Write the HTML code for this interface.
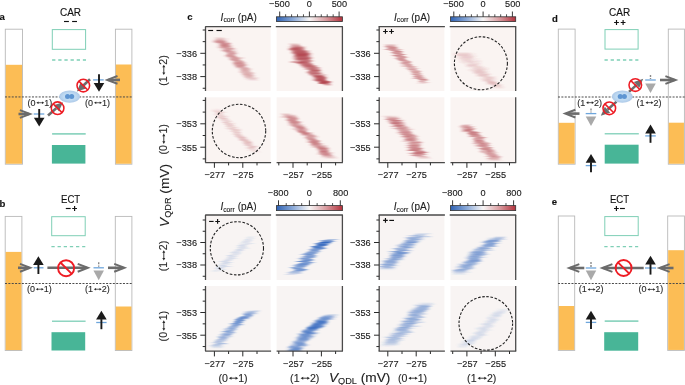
<!DOCTYPE html>
<html><head><meta charset="utf-8"><title>Figure</title>
<style>
html,body{margin:0;padding:0;background:#fff;}
body{width:685px;height:385px;overflow:hidden;}
svg{display:block;font-family:"Liberation Sans", sans-serif;will-change:transform;}
text{stroke-width:0.12px;}
</style></head><body>
<svg width="685" height="385" viewBox="0 0 685 385">
<defs>
<filter id="blr" x="-20%" y="-20%" width="140%" height="140%"><feGaussianBlur stdDeviation="1.0 0.6"/></filter>
<linearGradient id="cbar" x1="0" x2="1" y1="0" y2="0"><stop offset="0" stop-color="#2f62b3"/><stop offset="0.25" stop-color="#8aa9d8"/><stop offset="0.5" stop-color="#f8f6f6"/><stop offset="0.75" stop-color="#d99ca0"/><stop offset="1" stop-color="#b2323d"/></linearGradient>
<linearGradient id="gr" x1="0" x2="1" y1="0" y2="0"><stop offset="0" stop-color="#ad3842" stop-opacity="0"/><stop offset="0.3" stop-color="#ad3842" stop-opacity="1"/><stop offset="0.7" stop-color="#ad3842" stop-opacity="1"/><stop offset="1" stop-color="#ad3842" stop-opacity="0"/></linearGradient>
<linearGradient id="gb" x1="0" x2="1" y1="0" y2="0"><stop offset="0" stop-color="#2d64be" stop-opacity="0"/><stop offset="0.3" stop-color="#2d64be" stop-opacity="1"/><stop offset="0.7" stop-color="#2d64be" stop-opacity="1"/><stop offset="1" stop-color="#2d64be" stop-opacity="0"/></linearGradient>
<radialGradient id="ellg" cx="0.5" cy="0.5" r="0.5"><stop offset="0" stop-color="#c9e4f8"/><stop offset="0.6" stop-color="#bfdaf2"/><stop offset="1" stop-color="#adc9e8"/></radialGradient>
</defs>
<rect width="685" height="385" fill="#fff"/>
<text x="-0.6" y="19.8" font-size="9.6" text-anchor="start" font-weight="bold" font-style="normal" fill="#111" stroke="#111" >a</text>
<text x="70.5" y="15.8" font-size="10" text-anchor="middle" font-weight="normal" font-style="normal" fill="#111" stroke="#111" >CAR</text>
<line x1="64.0" y1="21.5" x2="68.9" y2="21.5" stroke="#111" stroke-width="1.15"/>
<line x1="72.1" y1="21.5" x2="77.0" y2="21.5" stroke="#111" stroke-width="1.15"/>
<rect x="5.3" y="29.2" width="17.2" height="135.0" fill="#fff" stroke="#b9b9b9" stroke-width="0.9"/>
<rect x="5.75" y="64.8" width="16.3" height="98.94999999999999" fill="#fcbd55"/>
<rect x="115.4" y="29.2" width="16.5" height="135.0" fill="#fff" stroke="#b9b9b9" stroke-width="0.9"/>
<rect x="115.85000000000001" y="64.5" width="15.6" height="99.24999999999999" fill="#fcbd55"/>
<rect x="52.3" y="29.6" width="33.3" height="19.699999999999996" fill="none" stroke="#7fcfb6" stroke-width="1.0"/>
<line x1="52.1" y1="60" x2="86.0" y2="60" stroke="#7fcfb6" stroke-width="1.3" stroke-dasharray="3.3 2.85"/>
<line x1="52.1" y1="133.9" x2="85.7" y2="133.9" stroke="#8fd5c1" stroke-width="1.6"/>
<rect x="51.9" y="145" width="33.50000000000001" height="18.599999999999994" fill="#48b597"/>
<line x1="5" y1="96.95" x2="132" y2="96.95" stroke="#4a4a4a" stroke-width="1.0" stroke-dasharray="2.0 1.37"/>
<line x1="120" y1="79.9" x2="108.50000000000001" y2="79.9" stroke="#6b6b6b" stroke-width="2.6"/>
<path d="M117.50000000000001,76.0 Q111.89000000000001,78.14500000000001 107.30000000000001,79.9 Q111.89000000000001,81.655 117.50000000000001,83.80000000000001" fill="none" stroke="#6b6b6b" stroke-width="2.0" stroke-linejoin="miter"/>
<line x1="93.10000000000001" y1="79.9" x2="103.7" y2="79.9" stroke="#6ea6dc" stroke-width="1.3"/>
<line x1="99" y1="74.2" x2="99" y2="83.5" stroke="#1a1a1a" stroke-width="1.9"/>
<path d="M93.7,83.0 L104.3,83.0 L99,91.8 Z" fill="#1a1a1a"/>
<line x1="18.5" y1="114" x2="28.900000000000002" y2="114" stroke="#6b6b6b" stroke-width="2.6"/>
<path d="M19.900000000000002,110.1 Q25.51,112.245 30.1,114 Q25.51,115.755 19.900000000000002,117.9" fill="none" stroke="#6b6b6b" stroke-width="2.0" stroke-linejoin="miter"/>
<line x1="33.7" y1="114" x2="44.3" y2="114" stroke="#6ea6dc" stroke-width="1.3"/>
<line x1="39.2" y1="109" x2="39.2" y2="118.2" stroke="#1a1a1a" stroke-width="1.9"/>
<path d="M33.900000000000006,117.7 L44.5,117.7 L39.2,126.5 Z" fill="#1a1a1a"/>
<line x1="90" y1="79.3" x2="83.3844716413458" y2="85.46446960692778" stroke="#6d6d6d" stroke-width="2.6"/>
<path d="M76.8,91.6 L80.6575692444248,82.53803776632965 L86.11137403826679,88.3909014475259 Z" fill="#6d6d6d"/>
<line x1="48" y1="115.5" x2="56.26589058486062" y2="108.17091034809025" stroke="#6d6d6d" stroke-width="2.6"/>
<path d="M63,102.2 L58.919628517345174,111.16384786592997 L53.61215265237607,105.17797283025052 Z" fill="#6d6d6d"/>
<circle cx="83.3" cy="85.6" r="6.3" fill="none" stroke="#ee1c24" stroke-width="1.55"/>
<line x1="78.84522727852475" y1="81.14522727852474" x2="87.75477272147525" y2="90.05477272147525" stroke="#ee1c24" stroke-width="1.55"/>
<circle cx="57.6" cy="108.2" r="6.3" fill="none" stroke="#ee1c24" stroke-width="1.55"/>
<line x1="53.14522727852475" y1="103.74522727852475" x2="62.05477272147525" y2="112.65477272147525" stroke="#ee1c24" stroke-width="1.55"/>
<ellipse cx="69.6" cy="96.6" rx="10.5" ry="6.1" fill="url(#ellg)"/>
<circle cx="67.5" cy="96.6" r="2.5" fill="#5e95d2"/>
<circle cx="71.69999999999999" cy="96.6" r="2.5" fill="#5e95d2"/>
<text x="27.41" y="105.7" font-size="9" fill="#2a2a2a" stroke="#2a2a2a">(0</text>
<text x="44.24" y="105.7" font-size="9" fill="#2a2a2a" stroke="#2a2a2a">1)</text>
<line x1="37.65" y1="102.73" x2="42.89" y2="102.73" stroke="#2a2a2a" stroke-width="0.765"/>
<path d="M36.30,102.73 l2.25,-1.2600000000000002 l0,2.5200000000000005 Z M44.24,102.73 l-2.25,-1.2600000000000002 l0,2.5200000000000005 Z" fill="#2a2a2a"/>
<text x="85.12" y="105.7" font-size="9" fill="#2a2a2a" stroke="#2a2a2a">(0</text>
<text x="101.94" y="105.7" font-size="9" fill="#2a2a2a" stroke="#2a2a2a">1)</text>
<line x1="95.35" y1="102.73" x2="100.59" y2="102.73" stroke="#2a2a2a" stroke-width="0.765"/>
<path d="M94.00,102.73 l2.25,-1.2600000000000002 l0,2.5200000000000005 Z M101.94,102.73 l-2.25,-1.2600000000000002 l0,2.5200000000000005 Z" fill="#2a2a2a"/>
<text x="-0.6" y="206.8" font-size="9.6" text-anchor="start" font-weight="bold" font-style="normal" fill="#111" stroke="#111" >b</text>
<text x="70.6" y="202.9" font-size="10" text-anchor="middle" font-weight="normal" font-style="normal" fill="#111" stroke="#111" textLength="19.2" lengthAdjust="spacingAndGlyphs">ECT</text>
<line x1="65.8" y1="208.5" x2="70.7" y2="208.5" stroke="#111" stroke-width="1.15"/>
<path d="M72.19999999999999,208.5 H77.0 M74.6,206.1 V210.9" stroke="#111" stroke-width="1.15"/>
<rect x="5.2" y="216.4" width="16.7" height="134.1" fill="#fff" stroke="#b9b9b9" stroke-width="0.9"/>
<rect x="5.65" y="251.9" width="15.799999999999999" height="98.14999999999999" fill="#fcbd55"/>
<rect x="115.3" y="216.4" width="16.60000000000001" height="134.1" fill="#fff" stroke="#b9b9b9" stroke-width="0.9"/>
<rect x="115.75" y="306.5" width="15.700000000000008" height="43.55" fill="#fcbd55"/>
<rect x="51.7" y="216.7" width="33.5" height="19.0" fill="none" stroke="#7fcfb6" stroke-width="1.0"/>
<line x1="51.4" y1="246.6" x2="85.3" y2="246.6" stroke="#7fcfb6" stroke-width="1.3" stroke-dasharray="3.3 2.85"/>
<line x1="18.0" y1="267.8" x2="29.000000000000004" y2="267.8" stroke="#6b6b6b" stroke-width="2.6"/>
<path d="M20.000000000000004,263.90000000000003 Q25.610000000000003,266.045 30.200000000000003,267.8 Q25.610000000000003,269.555 20.000000000000004,271.7" fill="none" stroke="#6b6b6b" stroke-width="2.0" stroke-linejoin="miter"/>
<line x1="33.7" y1="267.8" x2="43.5" y2="267.8" stroke="#6ea6dc" stroke-width="1.3"/>
<line x1="38.4" y1="274" x2="38.4" y2="264.5" stroke="#1a1a1a" stroke-width="1.9"/>
<path d="M33.1,265.0 L43.699999999999996,265.0 L38.4,256.2 Z" fill="#1a1a1a"/>
<line x1="47.4" y1="267.8" x2="86.69999999999999" y2="267.8" stroke="#6b6b6b" stroke-width="2.6"/>
<path d="M77.69999999999999,263.90000000000003 Q83.30999999999999,266.045 87.89999999999999,267.8 Q83.30999999999999,269.555 77.69999999999999,271.7" fill="none" stroke="#6b6b6b" stroke-width="2.0" stroke-linejoin="miter"/>
<circle cx="66.1" cy="268.2" r="8.0" fill="none" stroke="#ee1c24" stroke-width="1.9"/>
<line x1="60.44314575050761" y1="262.5431457505076" x2="71.75685424949238" y2="273.85685424949236" stroke="#ee1c24" stroke-width="1.9"/>
<line x1="98.7" y1="262.3" x2="98.7" y2="266.8" stroke="#8a8a8a" stroke-width="1.4" stroke-dasharray="2 1.1"/>
<line x1="93.5" y1="267.8" x2="103.9" y2="267.8" stroke="#6ea6dc" stroke-width="1.3"/>
<path d="M93.45,270.6 L103.95,270.6 L98.7,280.2 Z" fill="#a9a9a9"/>
<line x1="108" y1="267.8" x2="123.19999999999999" y2="267.8" stroke="#6b6b6b" stroke-width="2.6"/>
<path d="M114.19999999999999,263.90000000000003 Q119.80999999999999,266.045 124.39999999999999,267.8 Q119.80999999999999,269.555 114.19999999999999,271.7" fill="none" stroke="#6b6b6b" stroke-width="2.0" stroke-linejoin="miter"/>
<line x1="5" y1="283.5" x2="132" y2="283.5" stroke="#4a4a4a" stroke-width="1.0" stroke-dasharray="2.0 1.37"/>
<text x="26.91" y="292.2" font-size="9" fill="#2a2a2a" stroke="#2a2a2a">(0</text>
<text x="43.74" y="292.2" font-size="9" fill="#2a2a2a" stroke="#2a2a2a">1)</text>
<line x1="37.15" y1="289.23" x2="42.39" y2="289.23" stroke="#2a2a2a" stroke-width="0.765"/>
<path d="M35.80,289.23 l2.25,-1.2600000000000002 l0,2.5200000000000005 Z M43.74,289.23 l-2.25,-1.2600000000000002 l0,2.5200000000000005 Z" fill="#2a2a2a"/>
<text x="84.92" y="292.2" font-size="9" fill="#2a2a2a" stroke="#2a2a2a">(1</text>
<text x="101.74" y="292.2" font-size="9" fill="#2a2a2a" stroke="#2a2a2a">2)</text>
<line x1="95.15" y1="289.23" x2="100.39" y2="289.23" stroke="#2a2a2a" stroke-width="0.765"/>
<path d="M93.80,289.23 l2.25,-1.2600000000000002 l0,2.5200000000000005 Z M101.74,289.23 l-2.25,-1.2600000000000002 l0,2.5200000000000005 Z" fill="#2a2a2a"/>
<line x1="52" y1="321.2" x2="85.6" y2="321.2" stroke="#8fd5c1" stroke-width="1.6"/>
<line x1="96.2" y1="322.5" x2="106.60000000000001" y2="322.5" stroke="#6ea6dc" stroke-width="1.3"/>
<line x1="101.4" y1="329.2" x2="101.4" y2="319.1" stroke="#1a1a1a" stroke-width="1.9"/>
<path d="M96.10000000000001,319.6 L106.7,319.6 L101.4,310.8 Z" fill="#1a1a1a"/>
<rect x="51.5" y="332.2" width="33.7" height="18.30000000000001" fill="#48b597"/>
<text x="551.9" y="21.5" font-size="9.6" text-anchor="start" font-weight="bold" font-style="normal" fill="#111" stroke="#111" >d</text>
<text x="619.6" y="15.8" font-size="10" text-anchor="middle" font-weight="normal" font-style="normal" fill="#111" stroke="#111" >CAR</text>
<path d="M614.1,22.5 H618.9 M616.5,20.1 V24.9" stroke="#111" stroke-width="1.15"/>
<path d="M620.7,22.5 H625.5 M623.1,20.1 V24.9" stroke="#111" stroke-width="1.15"/>
<rect x="558.3" y="29.1" width="16.800000000000068" height="135.1" fill="#fff" stroke="#b9b9b9" stroke-width="0.9"/>
<rect x="558.75" y="122.8" width="15.900000000000068" height="40.94999999999999" fill="#fcbd55"/>
<rect x="668.3" y="29.1" width="16.100000000000023" height="135.1" fill="#fff" stroke="#b9b9b9" stroke-width="0.9"/>
<rect x="668.75" y="122.7" width="15.200000000000022" height="41.04999999999998" fill="#fcbd55"/>
<rect x="605.0" y="29.6" width="33.10000000000002" height="19.5" fill="none" stroke="#7fcfb6" stroke-width="1.0"/>
<line x1="604.5" y1="60" x2="638.4" y2="60" stroke="#7fcfb6" stroke-width="1.3" stroke-dasharray="3.3 2.85"/>
<line x1="558" y1="97.0" x2="685" y2="97.0" stroke="#4a4a4a" stroke-width="1.0" stroke-dasharray="2.0 1.37"/>
<line x1="650.5" y1="75" x2="650.5" y2="79" stroke="#8a8a8a" stroke-width="1.4" stroke-dasharray="2 1.1"/>
<line x1="645.2" y1="80" x2="655.8" y2="80" stroke="#6ea6dc" stroke-width="1.3"/>
<path d="M645.25,83.4 L655.75,83.4 L650.5,93 Z" fill="#a9a9a9"/>
<line x1="660" y1="80" x2="674.4" y2="80" stroke="#6b6b6b" stroke-width="2.6"/>
<path d="M665.4,76.1 Q671.01,78.245 675.6,80 Q671.01,81.755 665.4,83.9" fill="none" stroke="#6b6b6b" stroke-width="2.0" stroke-linejoin="miter"/>
<line x1="591" y1="108.5" x2="591" y2="112.6" stroke="#8a8a8a" stroke-width="1.4" stroke-dasharray="2 1.1"/>
<line x1="585.7" y1="113.6" x2="596.3" y2="113.6" stroke="#6ea6dc" stroke-width="1.3"/>
<path d="M585.75,116.5 L596.25,116.5 L591,126 Z" fill="#a9a9a9"/>
<line x1="579.5" y1="113.6" x2="566.4" y2="113.6" stroke="#6b6b6b" stroke-width="2.6"/>
<path d="M575.4,109.69999999999999 Q569.79,111.845 565.1999999999999,113.6 Q569.79,115.35499999999999 575.4,117.5" fill="none" stroke="#6b6b6b" stroke-width="2.0" stroke-linejoin="miter"/>
<line x1="629.0" y1="91.9" x2="636.5849832893851" y2="84.90258583866587" stroke="#6d6d6d" stroke-width="2.6"/>
<path d="M643.2,78.8 L639.2972436621255,87.84259326560584 L633.8727229166448,81.9625784117259 Z" fill="#6d6d6d"/>
<line x1="616.5" y1="101.6" x2="607.4960056938755" y2="109.68638979085061" stroke="#6d6d6d" stroke-width="2.6"/>
<path d="M600.8,115.7 L604.8232900453647,106.71038726023924 L610.1687213423863,112.66239232146198 Z" fill="#6d6d6d"/>
<circle cx="635.3" cy="85.1" r="6.3" fill="none" stroke="#ee1c24" stroke-width="1.55"/>
<line x1="630.8452272785247" y1="80.64522727852474" x2="639.7547727214752" y2="89.55477272147525" stroke="#ee1c24" stroke-width="1.55"/>
<circle cx="609.3" cy="108.3" r="6.3" fill="none" stroke="#ee1c24" stroke-width="1.55"/>
<line x1="604.8452272785247" y1="103.84522727852475" x2="613.7547727214752" y2="112.75477272147525" stroke="#ee1c24" stroke-width="1.55"/>
<ellipse cx="622.3" cy="96.6" rx="10.5" ry="6.1" fill="url(#ellg)"/>
<circle cx="620.1999999999999" cy="96.6" r="2.5" fill="#5e95d2"/>
<circle cx="624.4" cy="96.6" r="2.5" fill="#5e95d2"/>
<text x="577.21" y="105.6" font-size="9" fill="#2a2a2a" stroke="#2a2a2a">(1</text>
<text x="594.04" y="105.6" font-size="9" fill="#2a2a2a" stroke="#2a2a2a">2)</text>
<line x1="587.45" y1="102.63" x2="592.69" y2="102.63" stroke="#2a2a2a" stroke-width="0.765"/>
<path d="M586.10,102.63 l2.25,-1.2600000000000002 l0,2.5200000000000005 Z M594.04,102.63 l-2.25,-1.2600000000000002 l0,2.5200000000000005 Z" fill="#2a2a2a"/>
<text x="636.62" y="105.6" font-size="9" fill="#2a2a2a" stroke="#2a2a2a">(1</text>
<text x="653.44" y="105.6" font-size="9" fill="#2a2a2a" stroke="#2a2a2a">2)</text>
<line x1="646.85" y1="102.63" x2="652.09" y2="102.63" stroke="#2a2a2a" stroke-width="0.765"/>
<path d="M645.50,102.63 l2.25,-1.2600000000000002 l0,2.5200000000000005 Z M653.44,102.63 l-2.25,-1.2600000000000002 l0,2.5200000000000005 Z" fill="#2a2a2a"/>
<line x1="604.7" y1="133.8" x2="638.8" y2="133.8" stroke="#8fd5c1" stroke-width="1.6"/>
<rect x="604.7" y="144.7" width="33.89999999999998" height="18.900000000000006" fill="#48b597"/>
<line x1="645.2" y1="135.9" x2="655.8" y2="135.9" stroke="#6ea6dc" stroke-width="1.3"/>
<line x1="650.5" y1="142.8" x2="650.5" y2="132.9" stroke="#1a1a1a" stroke-width="1.9"/>
<path d="M645.2,133.4 L655.8,133.4 L650.5,124.6 Z" fill="#1a1a1a"/>
<line x1="585.7" y1="165.6" x2="596.3" y2="165.6" stroke="#6ea6dc" stroke-width="1.3"/>
<line x1="591" y1="172.2" x2="591" y2="162.20000000000002" stroke="#1a1a1a" stroke-width="1.9"/>
<path d="M585.7,162.70000000000002 L596.3,162.70000000000002 L591,153.9 Z" fill="#1a1a1a"/>
<text x="551.8" y="204.9" font-size="9.6" text-anchor="start" font-weight="bold" font-style="normal" fill="#111" stroke="#111" >e</text>
<text x="619.5" y="202.9" font-size="10" text-anchor="middle" font-weight="normal" font-style="normal" fill="#111" stroke="#111" textLength="19.2" lengthAdjust="spacingAndGlyphs">ECT</text>
<path d="M614.0,208.5 H618.8 M616.4,206.1 V210.9" stroke="#111" stroke-width="1.15"/>
<line x1="620.0" y1="208.5" x2="624.9" y2="208.5" stroke="#111" stroke-width="1.15"/>
<rect x="558.3" y="216" width="16.40000000000009" height="134.39999999999998" fill="#fff" stroke="#b9b9b9" stroke-width="0.9"/>
<rect x="558.75" y="306" width="15.50000000000009" height="43.949999999999974" fill="#fcbd55"/>
<rect x="667.7" y="216" width="16.699999999999932" height="134.39999999999998" fill="#fff" stroke="#b9b9b9" stroke-width="0.9"/>
<rect x="668.1500000000001" y="250.2" width="15.799999999999931" height="99.74999999999999" fill="#fcbd55"/>
<rect x="604.8" y="216.6" width="33.40000000000009" height="19.0" fill="none" stroke="#7fcfb6" stroke-width="1.0"/>
<line x1="604.3" y1="246.7" x2="638.1999999999999" y2="246.7" stroke="#7fcfb6" stroke-width="1.3" stroke-dasharray="3.3 2.85"/>
<line x1="584.3" y1="268" x2="570.3000000000001" y2="268" stroke="#6b6b6b" stroke-width="2.6"/>
<path d="M579.3000000000001,264.1 Q573.69,266.245 569.1,268 Q573.69,269.755 579.3000000000001,271.9" fill="none" stroke="#6b6b6b" stroke-width="2.0" stroke-linejoin="miter"/>
<line x1="591" y1="262" x2="591" y2="267" stroke="#8a8a8a" stroke-width="1.4" stroke-dasharray="2 1.1"/>
<line x1="585.75" y1="268" x2="596.25" y2="268" stroke="#6ea6dc" stroke-width="1.3"/>
<path d="M585.75,270.5 L596.25,270.5 L591,280.2 Z" fill="#a9a9a9"/>
<line x1="643.7" y1="268" x2="603.4" y2="268" stroke="#6b6b6b" stroke-width="2.6"/>
<path d="M612.4,264.1 Q606.79,266.245 602.1999999999999,268 Q606.79,269.755 612.4,271.9" fill="none" stroke="#6b6b6b" stroke-width="2.0" stroke-linejoin="miter"/>
<circle cx="623.6" cy="268" r="8.0" fill="none" stroke="#ee1c24" stroke-width="1.9"/>
<line x1="617.9431457505076" y1="262.34314575050763" x2="629.2568542494924" y2="273.65685424949237" stroke="#ee1c24" stroke-width="1.9"/>
<line x1="645.0" y1="268" x2="656.0" y2="268" stroke="#6ea6dc" stroke-width="1.3"/>
<line x1="650.5" y1="274.6" x2="650.5" y2="264.1" stroke="#1a1a1a" stroke-width="1.9"/>
<path d="M645.2,264.6 L655.8,264.6 L650.5,255.8 Z" fill="#1a1a1a"/>
<line x1="673.5" y1="268" x2="660.6" y2="268" stroke="#6b6b6b" stroke-width="2.6"/>
<path d="M669.6,264.1 Q663.99,266.245 659.4,268 Q663.99,269.755 669.6,271.9" fill="none" stroke="#6b6b6b" stroke-width="2.0" stroke-linejoin="miter"/>
<line x1="558" y1="283.5" x2="685" y2="283.5" stroke="#4a4a4a" stroke-width="1.0" stroke-dasharray="2.0 1.37"/>
<text x="578.71" y="292.4" font-size="9" fill="#2a2a2a" stroke="#2a2a2a">(1</text>
<text x="595.54" y="292.4" font-size="9" fill="#2a2a2a" stroke="#2a2a2a">2)</text>
<line x1="588.95" y1="289.43" x2="594.19" y2="289.43" stroke="#2a2a2a" stroke-width="0.765"/>
<path d="M587.60,289.43 l2.25,-1.2600000000000002 l0,2.5200000000000005 Z M595.54,289.43 l-2.25,-1.2600000000000002 l0,2.5200000000000005 Z" fill="#2a2a2a"/>
<text x="638.51" y="292.4" font-size="9" fill="#2a2a2a" stroke="#2a2a2a">(0</text>
<text x="655.34" y="292.4" font-size="9" fill="#2a2a2a" stroke="#2a2a2a">1)</text>
<line x1="648.75" y1="289.43" x2="653.99" y2="289.43" stroke="#2a2a2a" stroke-width="0.765"/>
<path d="M647.40,289.43 l2.25,-1.2600000000000002 l0,2.5200000000000005 Z M655.34,289.43 l-2.25,-1.2600000000000002 l0,2.5200000000000005 Z" fill="#2a2a2a"/>
<line x1="585.75" y1="322.4" x2="596.25" y2="322.4" stroke="#6ea6dc" stroke-width="1.3"/>
<line x1="591" y1="328.9" x2="591" y2="319.0" stroke="#1a1a1a" stroke-width="1.9"/>
<path d="M585.7,319.5 L596.3,319.5 L591,310.7 Z" fill="#1a1a1a"/>
<line x1="604.7" y1="321.1" x2="638.4" y2="321.1" stroke="#8fd5c1" stroke-width="1.6"/>
<rect x="604.2" y="332.2" width="34.0" height="18.5" fill="#48b597"/>
<text x="187.2" y="19.8" font-size="9.6" text-anchor="start" font-weight="bold" font-style="normal" fill="#111" stroke="#111" >c</text>
<clipPath id="c00"><rect x="206.0" y="26.6" width="64.60000000000002" height="64.4"/></clipPath>
<rect x="206.0" y="26.6" width="64.60000000000002" height="64.4" fill="#faf4f2"/>
<g clip-path="url(#c00)"><g filter="url(#blr)"><rect x="212.7" y="37.5" width="13.4" height="1.0" fill="url(#gr)" fill-opacity="0.11"/><rect x="213.1" y="37.5" width="12.3" height="1.0" fill="url(#gr)" fill-opacity="0.11"/><rect x="214.3" y="38.5" width="16.2" height="1.0" fill="url(#gr)" fill-opacity="0.15"/><rect x="214.5" y="38.5" width="12.2" height="1.0" fill="url(#gr)" fill-opacity="0.16"/><rect x="211.8" y="39.5" width="12.3" height="1.0" fill="url(#gr)" fill-opacity="0.22"/><rect x="214.4" y="39.5" width="12.2" height="1.0" fill="url(#gr)" fill-opacity="0.25"/><rect x="214.8" y="40.5" width="14.5" height="1.0" fill="url(#gr)" fill-opacity="0.28"/><rect x="211.0" y="40.5" width="16.5" height="1.0" fill="url(#gr)" fill-opacity="0.36"/><rect x="213.0" y="41.5" width="16.2" height="1.0" fill="url(#gr)" fill-opacity="0.38"/><rect x="211.2" y="41.5" width="15.6" height="1.0" fill="url(#gr)" fill-opacity="0.41"/><rect x="218.1" y="42.5" width="13.8" height="1.0" fill="url(#gr)" fill-opacity="0.43"/><rect x="214.9" y="42.5" width="11.2" height="1.0" fill="url(#gr)" fill-opacity="0.38"/><rect x="217.8" y="43.5" width="14.9" height="1.0" fill="url(#gr)" fill-opacity="0.42"/><rect x="219.6" y="43.5" width="13.1" height="1.0" fill="url(#gr)" fill-opacity="0.38"/><rect x="216.1" y="44.5" width="13.7" height="1.0" fill="url(#gr)" fill-opacity="0.34"/><rect x="218.7" y="44.5" width="11.2" height="1.0" fill="url(#gr)" fill-opacity="0.46"/><rect x="218.4" y="45.5" width="13.8" height="1.0" fill="url(#gr)" fill-opacity="0.46"/><rect x="219.1" y="45.5" width="15.2" height="1.0" fill="url(#gr)" fill-opacity="0.39"/><rect x="215.5" y="46.5" width="14.2" height="1.0" fill="url(#gr)" fill-opacity="0.33"/><rect x="220.0" y="46.5" width="12.5" height="1.0" fill="url(#gr)" fill-opacity="0.34"/><rect x="220.2" y="47.5" width="15.9" height="1.0" fill="url(#gr)" fill-opacity="0.33"/><rect x="216.8" y="47.5" width="15.5" height="1.0" fill="url(#gr)" fill-opacity="0.30"/><rect x="223.7" y="48.5" width="14.1" height="1.0" fill="url(#gr)" fill-opacity="0.29"/><rect x="221.9" y="48.5" width="13.8" height="1.0" fill="url(#gr)" fill-opacity="0.32"/><rect x="218.6" y="49.5" width="14.4" height="1.0" fill="url(#gr)" fill-opacity="0.30"/><rect x="221.9" y="49.5" width="11.2" height="1.0" fill="url(#gr)" fill-opacity="0.28"/><rect x="222.7" y="50.5" width="15.4" height="1.0" fill="url(#gr)" fill-opacity="0.36"/><rect x="220.1" y="50.5" width="12.4" height="1.0" fill="url(#gr)" fill-opacity="0.37"/><rect x="222.8" y="51.5" width="15.2" height="1.0" fill="url(#gr)" fill-opacity="0.25"/><rect x="224.3" y="51.5" width="11.6" height="1.0" fill="url(#gr)" fill-opacity="0.29"/><rect x="225.4" y="52.5" width="11.9" height="1.0" fill="url(#gr)" fill-opacity="0.25"/><rect x="224.5" y="52.5" width="14.9" height="1.0" fill="url(#gr)" fill-opacity="0.26"/><rect x="225.9" y="53.5" width="13.3" height="1.0" fill="url(#gr)" fill-opacity="0.26"/><rect x="225.4" y="53.5" width="11.6" height="1.0" fill="url(#gr)" fill-opacity="0.35"/><rect x="224.1" y="54.5" width="11.1" height="1.0" fill="url(#gr)" fill-opacity="0.22"/><rect x="224.2" y="54.5" width="11.8" height="1.0" fill="url(#gr)" fill-opacity="0.30"/><rect x="225.2" y="55.5" width="12.2" height="1.0" fill="url(#gr)" fill-opacity="0.37"/><rect x="222.7" y="55.5" width="15.4" height="1.0" fill="url(#gr)" fill-opacity="0.31"/><rect x="225.0" y="56.5" width="12.8" height="1.0" fill="url(#gr)" fill-opacity="0.32"/><rect x="228.7" y="56.5" width="11.3" height="1.0" fill="url(#gr)" fill-opacity="0.28"/><rect x="227.6" y="57.5" width="12.7" height="1.0" fill="url(#gr)" fill-opacity="0.38"/><rect x="230.6" y="57.5" width="15.1" height="1.0" fill="url(#gr)" fill-opacity="0.31"/><rect x="227.3" y="58.5" width="15.5" height="1.0" fill="url(#gr)" fill-opacity="0.30"/><rect x="227.3" y="58.5" width="14.1" height="1.0" fill="url(#gr)" fill-opacity="0.22"/><rect x="229.4" y="59.5" width="13.1" height="1.0" fill="url(#gr)" fill-opacity="0.31"/><rect x="228.5" y="59.5" width="12.1" height="1.0" fill="url(#gr)" fill-opacity="0.36"/><rect x="232.2" y="60.5" width="12.6" height="1.0" fill="url(#gr)" fill-opacity="0.27"/><rect x="231.7" y="60.5" width="12.8" height="1.0" fill="url(#gr)" fill-opacity="0.31"/><rect x="230.3" y="61.5" width="16.4" height="1.0" fill="url(#gr)" fill-opacity="0.29"/><rect x="233.1" y="61.5" width="12.9" height="1.0" fill="url(#gr)" fill-opacity="0.23"/><rect x="232.0" y="62.5" width="15.9" height="1.0" fill="url(#gr)" fill-opacity="0.36"/><rect x="231.1" y="62.5" width="13.7" height="1.0" fill="url(#gr)" fill-opacity="0.40"/><rect x="231.5" y="63.5" width="16.0" height="1.0" fill="url(#gr)" fill-opacity="0.29"/><rect x="231.5" y="63.5" width="15.2" height="1.0" fill="url(#gr)" fill-opacity="0.34"/><rect x="231.7" y="64.5" width="15.8" height="1.0" fill="url(#gr)" fill-opacity="0.31"/><rect x="233.4" y="64.5" width="16.2" height="1.0" fill="url(#gr)" fill-opacity="0.34"/><rect x="234.7" y="65.5" width="11.4" height="1.0" fill="url(#gr)" fill-opacity="0.35"/><rect x="232.6" y="65.5" width="15.3" height="1.0" fill="url(#gr)" fill-opacity="0.34"/><rect x="234.4" y="66.5" width="14.1" height="1.0" fill="url(#gr)" fill-opacity="0.26"/><rect x="233.8" y="66.5" width="11.4" height="1.0" fill="url(#gr)" fill-opacity="0.27"/><rect x="238.2" y="67.5" width="12.5" height="1.0" fill="url(#gr)" fill-opacity="0.31"/><rect x="234.2" y="67.5" width="15.6" height="1.0" fill="url(#gr)" fill-opacity="0.22"/><rect x="240.2" y="68.5" width="11.2" height="1.0" fill="url(#gr)" fill-opacity="0.21"/><rect x="237.3" y="68.5" width="16.4" height="1.0" fill="url(#gr)" fill-opacity="0.22"/><rect x="237.5" y="69.5" width="11.6" height="1.0" fill="url(#gr)" fill-opacity="0.26"/><rect x="239.3" y="69.5" width="13.1" height="1.0" fill="url(#gr)" fill-opacity="0.27"/><rect x="239.4" y="70.5" width="11.6" height="1.0" fill="url(#gr)" fill-opacity="0.24"/><rect x="241.5" y="70.5" width="11.2" height="1.0" fill="url(#gr)" fill-opacity="0.18"/><rect x="238.3" y="71.5" width="12.7" height="1.0" fill="url(#gr)" fill-opacity="0.18"/><rect x="237.1" y="71.5" width="16.0" height="1.0" fill="url(#gr)" fill-opacity="0.26"/><rect x="239.2" y="72.5" width="16.4" height="1.0" fill="url(#gr)" fill-opacity="0.21"/><rect x="241.7" y="72.5" width="14.8" height="1.0" fill="url(#gr)" fill-opacity="0.22"/><rect x="240.4" y="73.5" width="11.4" height="1.0" fill="url(#gr)" fill-opacity="0.21"/><rect x="239.5" y="73.5" width="16.4" height="1.0" fill="url(#gr)" fill-opacity="0.23"/><rect x="243.1" y="74.5" width="12.7" height="1.0" fill="url(#gr)" fill-opacity="0.23"/><rect x="241.0" y="74.5" width="12.7" height="1.0" fill="url(#gr)" fill-opacity="0.28"/><rect x="241.0" y="75.5" width="14.2" height="1.0" fill="url(#gr)" fill-opacity="0.22"/><rect x="244.7" y="75.5" width="12.3" height="1.0" fill="url(#gr)" fill-opacity="0.17"/><rect x="242.7" y="76.5" width="11.4" height="1.0" fill="url(#gr)" fill-opacity="0.18"/><rect x="242.5" y="76.5" width="12.6" height="1.0" fill="url(#gr)" fill-opacity="0.19"/><rect x="243.8" y="77.5" width="15.4" height="1.0" fill="url(#gr)" fill-opacity="0.13"/><rect x="243.9" y="77.5" width="16.2" height="1.0" fill="url(#gr)" fill-opacity="0.14"/><rect x="246.7" y="78.5" width="11.6" height="1.0" fill="url(#gr)" fill-opacity="0.11"/><rect x="242.6" y="78.5" width="16.1" height="1.0" fill="url(#gr)" fill-opacity="0.10"/><rect x="247.1" y="79.5" width="12.7" height="1.0" fill="url(#gr)" fill-opacity="0.06"/><rect x="245.2" y="79.5" width="15.4" height="1.0" fill="url(#gr)" fill-opacity="0.06"/></g></g>
<clipPath id="c10"><rect x="276.6" y="26.6" width="65.79999999999995" height="64.4"/></clipPath>
<rect x="276.6" y="26.6" width="65.79999999999995" height="64.4" fill="#faf4f2"/>
<g clip-path="url(#c10)"><g filter="url(#blr)"><rect x="286.7" y="43.5" width="13.2" height="1.0" fill="url(#gr)" fill-opacity="0.12"/><rect x="288.1" y="43.5" width="14.3" height="1.0" fill="url(#gr)" fill-opacity="0.11"/><rect x="289.1" y="44.5" width="12.7" height="1.0" fill="url(#gr)" fill-opacity="0.18"/><rect x="289.0" y="44.5" width="12.3" height="1.0" fill="url(#gr)" fill-opacity="0.22"/><rect x="289.5" y="45.5" width="12.8" height="1.0" fill="url(#gr)" fill-opacity="0.25"/><rect x="289.4" y="45.5" width="13.8" height="1.0" fill="url(#gr)" fill-opacity="0.36"/><rect x="291.3" y="46.5" width="16.0" height="1.0" fill="url(#gr)" fill-opacity="0.42"/><rect x="286.8" y="46.5" width="16.1" height="1.0" fill="url(#gr)" fill-opacity="0.40"/><rect x="289.5" y="47.5" width="17.0" height="1.0" fill="url(#gr)" fill-opacity="0.69"/><rect x="289.1" y="47.5" width="15.2" height="1.0" fill="url(#gr)" fill-opacity="0.64"/><rect x="286.5" y="48.5" width="15.3" height="1.0" fill="url(#gr)" fill-opacity="0.81"/><rect x="288.4" y="48.5" width="18.9" height="1.0" fill="url(#gr)" fill-opacity="0.69"/><rect x="290.7" y="49.5" width="15.2" height="1.0" fill="url(#gr)" fill-opacity="0.70"/><rect x="287.1" y="49.5" width="18.5" height="1.0" fill="url(#gr)" fill-opacity="0.65"/><rect x="290.7" y="50.5" width="21.2" height="1.0" fill="url(#gr)" fill-opacity="0.65"/><rect x="289.8" y="50.5" width="18.0" height="1.0" fill="url(#gr)" fill-opacity="0.60"/><rect x="289.8" y="51.5" width="18.9" height="1.0" fill="url(#gr)" fill-opacity="0.84"/><rect x="291.4" y="51.5" width="19.7" height="1.0" fill="url(#gr)" fill-opacity="0.59"/><rect x="291.1" y="52.5" width="21.5" height="1.0" fill="url(#gr)" fill-opacity="0.65"/><rect x="289.3" y="52.5" width="20.8" height="1.0" fill="url(#gr)" fill-opacity="0.72"/><rect x="290.9" y="53.5" width="23.0" height="1.0" fill="url(#gr)" fill-opacity="0.77"/><rect x="293.0" y="53.5" width="17.8" height="1.0" fill="url(#gr)" fill-opacity="0.99"/><rect x="294.4" y="54.5" width="17.3" height="1.0" fill="url(#gr)" fill-opacity="0.86"/><rect x="293.0" y="54.5" width="16.6" height="1.0" fill="url(#gr)" fill-opacity="0.95"/><rect x="291.5" y="55.5" width="22.1" height="1.0" fill="url(#gr)" fill-opacity="0.70"/><rect x="292.4" y="55.5" width="17.1" height="1.0" fill="url(#gr)" fill-opacity="0.87"/><rect x="295.2" y="56.5" width="15.8" height="1.0" fill="url(#gr)" fill-opacity="0.54"/><rect x="291.5" y="56.5" width="20.2" height="1.0" fill="url(#gr)" fill-opacity="0.63"/><rect x="293.7" y="57.5" width="21.1" height="1.0" fill="url(#gr)" fill-opacity="0.71"/><rect x="291.2" y="57.5" width="22.1" height="1.0" fill="url(#gr)" fill-opacity="0.71"/><rect x="291.9" y="58.5" width="20.0" height="1.0" fill="url(#gr)" fill-opacity="0.71"/><rect x="295.8" y="58.5" width="15.8" height="1.0" fill="url(#gr)" fill-opacity="0.75"/><rect x="293.0" y="59.5" width="18.6" height="1.0" fill="url(#gr)" fill-opacity="0.50"/><rect x="292.2" y="59.5" width="21.9" height="1.0" fill="url(#gr)" fill-opacity="0.52"/><rect x="299.8" y="60.5" width="15.6" height="1.0" fill="url(#gr)" fill-opacity="0.53"/><rect x="297.7" y="60.5" width="14.8" height="1.0" fill="url(#gr)" fill-opacity="0.56"/><rect x="288.2" y="61.5" width="21.1" height="1.0" fill="url(#gr)" fill-opacity="0.84"/><rect x="296.6" y="61.5" width="16.0" height="1.0" fill="url(#gr)" fill-opacity="0.69"/><rect x="293.9" y="62.5" width="19.1" height="1.0" fill="url(#gr)" fill-opacity="0.61"/><rect x="294.9" y="62.5" width="17.1" height="1.0" fill="url(#gr)" fill-opacity="0.69"/><rect x="296.4" y="63.5" width="18.9" height="1.0" fill="url(#gr)" fill-opacity="0.48"/><rect x="299.9" y="63.5" width="14.6" height="1.0" fill="url(#gr)" fill-opacity="0.46"/><rect x="297.8" y="64.5" width="15.8" height="1.0" fill="url(#gr)" fill-opacity="0.59"/><rect x="300.1" y="64.5" width="15.1" height="1.0" fill="url(#gr)" fill-opacity="0.65"/><rect x="299.2" y="65.5" width="17.4" height="1.0" fill="url(#gr)" fill-opacity="0.55"/><rect x="303.0" y="65.5" width="16.3" height="1.0" fill="url(#gr)" fill-opacity="0.67"/><rect x="302.1" y="66.5" width="16.7" height="1.0" fill="url(#gr)" fill-opacity="0.59"/><rect x="299.4" y="66.5" width="17.3" height="1.0" fill="url(#gr)" fill-opacity="0.46"/><rect x="308.2" y="67.5" width="13.7" height="1.0" fill="url(#gr)" fill-opacity="0.50"/><rect x="303.2" y="67.5" width="18.5" height="1.0" fill="url(#gr)" fill-opacity="0.58"/><rect x="302.4" y="68.5" width="14.1" height="1.0" fill="url(#gr)" fill-opacity="0.56"/><rect x="305.9" y="68.5" width="13.3" height="1.0" fill="url(#gr)" fill-opacity="0.49"/><rect x="308.7" y="69.5" width="13.8" height="1.0" fill="url(#gr)" fill-opacity="0.64"/><rect x="306.7" y="69.5" width="15.0" height="1.0" fill="url(#gr)" fill-opacity="0.61"/><rect x="308.4" y="70.5" width="12.8" height="1.0" fill="url(#gr)" fill-opacity="0.58"/><rect x="306.7" y="70.5" width="16.3" height="1.0" fill="url(#gr)" fill-opacity="0.60"/><rect x="305.0" y="71.5" width="16.5" height="1.0" fill="url(#gr)" fill-opacity="0.45"/><rect x="305.1" y="71.5" width="14.3" height="1.0" fill="url(#gr)" fill-opacity="0.44"/><rect x="305.1" y="72.5" width="17.6" height="1.0" fill="url(#gr)" fill-opacity="0.55"/><rect x="306.9" y="72.5" width="17.4" height="1.0" fill="url(#gr)" fill-opacity="0.56"/><rect x="307.5" y="73.5" width="14.2" height="1.0" fill="url(#gr)" fill-opacity="0.54"/><rect x="307.5" y="73.5" width="17.0" height="1.0" fill="url(#gr)" fill-opacity="0.52"/><rect x="307.7" y="74.5" width="12.3" height="1.0" fill="url(#gr)" fill-opacity="0.49"/><rect x="316.4" y="74.5" width="11.8" height="1.0" fill="url(#gr)" fill-opacity="0.42"/><rect x="311.6" y="75.5" width="12.9" height="1.0" fill="url(#gr)" fill-opacity="0.70"/><rect x="310.3" y="75.5" width="15.0" height="1.0" fill="url(#gr)" fill-opacity="0.84"/><rect x="312.2" y="76.5" width="16.2" height="1.0" fill="url(#gr)" fill-opacity="0.75"/><rect x="314.3" y="76.5" width="11.5" height="1.0" fill="url(#gr)" fill-opacity="0.69"/><rect x="314.3" y="77.5" width="14.6" height="1.0" fill="url(#gr)" fill-opacity="0.63"/><rect x="311.0" y="77.5" width="16.2" height="1.0" fill="url(#gr)" fill-opacity="0.73"/><rect x="313.8" y="78.5" width="13.7" height="1.0" fill="url(#gr)" fill-opacity="0.76"/><rect x="315.4" y="78.5" width="11.5" height="1.0" fill="url(#gr)" fill-opacity="0.66"/><rect x="314.0" y="79.5" width="14.0" height="1.0" fill="url(#gr)" fill-opacity="0.81"/><rect x="310.7" y="79.5" width="15.3" height="1.0" fill="url(#gr)" fill-opacity="0.76"/><rect x="317.9" y="80.5" width="11.3" height="1.0" fill="url(#gr)" fill-opacity="0.90"/><rect x="314.3" y="80.5" width="12.2" height="1.0" fill="url(#gr)" fill-opacity="0.92"/><rect x="319.7" y="81.5" width="13.4" height="1.0" fill="url(#gr)" fill-opacity="0.99"/><rect x="318.3" y="81.5" width="13.1" height="1.0" fill="url(#gr)" fill-opacity="0.97"/><rect x="316.9" y="82.5" width="14.0" height="1.0" fill="url(#gr)" fill-opacity="0.99"/><rect x="317.2" y="82.5" width="10.2" height="1.0" fill="url(#gr)" fill-opacity="0.97"/><rect x="322.2" y="83.5" width="10.4" height="1.0" fill="url(#gr)" fill-opacity="0.41"/><rect x="320.5" y="83.5" width="10.1" height="1.0" fill="url(#gr)" fill-opacity="0.39"/><rect x="322.4" y="84.5" width="10.2" height="1.0" fill="url(#gr)" fill-opacity="0.22"/><rect x="323.5" y="84.5" width="9.6" height="1.0" fill="url(#gr)" fill-opacity="0.15"/></g></g>
<clipPath id="c20"><rect x="379.4" y="26.6" width="65.0" height="64.4"/></clipPath>
<rect x="379.4" y="26.6" width="65.0" height="64.4" fill="#faf4f2"/>
<g clip-path="url(#c20)"><g filter="url(#blr)"><rect x="384.6" y="44.0" width="14.5" height="1.0" fill="url(#gr)" fill-opacity="0.08"/><rect x="382.1" y="44.0" width="14.4" height="1.0" fill="url(#gr)" fill-opacity="0.11"/><rect x="383.1" y="45.0" width="15.0" height="1.0" fill="url(#gr)" fill-opacity="0.19"/><rect x="384.1" y="45.0" width="12.5" height="1.0" fill="url(#gr)" fill-opacity="0.15"/><rect x="384.1" y="46.0" width="14.7" height="1.0" fill="url(#gr)" fill-opacity="0.29"/><rect x="382.4" y="46.0" width="13.0" height="1.0" fill="url(#gr)" fill-opacity="0.28"/><rect x="387.0" y="47.0" width="11.5" height="1.0" fill="url(#gr)" fill-opacity="0.32"/><rect x="383.7" y="47.0" width="16.0" height="1.0" fill="url(#gr)" fill-opacity="0.35"/><rect x="385.3" y="48.0" width="12.6" height="1.0" fill="url(#gr)" fill-opacity="0.31"/><rect x="386.2" y="48.0" width="13.9" height="1.0" fill="url(#gr)" fill-opacity="0.35"/><rect x="390.0" y="49.0" width="14.3" height="1.0" fill="url(#gr)" fill-opacity="0.30"/><rect x="382.5" y="49.0" width="15.3" height="1.0" fill="url(#gr)" fill-opacity="0.41"/><rect x="387.4" y="50.0" width="15.1" height="1.0" fill="url(#gr)" fill-opacity="0.32"/><rect x="388.0" y="50.0" width="12.2" height="1.0" fill="url(#gr)" fill-opacity="0.26"/><rect x="392.0" y="51.0" width="12.8" height="1.0" fill="url(#gr)" fill-opacity="0.30"/><rect x="391.4" y="51.0" width="12.2" height="1.0" fill="url(#gr)" fill-opacity="0.38"/><rect x="389.4" y="52.0" width="14.4" height="1.0" fill="url(#gr)" fill-opacity="0.25"/><rect x="389.0" y="52.0" width="15.2" height="1.0" fill="url(#gr)" fill-opacity="0.32"/><rect x="390.2" y="53.0" width="13.7" height="1.0" fill="url(#gr)" fill-opacity="0.28"/><rect x="392.1" y="53.0" width="11.5" height="1.0" fill="url(#gr)" fill-opacity="0.33"/><rect x="395.4" y="54.0" width="12.1" height="1.0" fill="url(#gr)" fill-opacity="0.33"/><rect x="391.7" y="54.0" width="15.2" height="1.0" fill="url(#gr)" fill-opacity="0.26"/><rect x="391.1" y="55.0" width="13.3" height="1.0" fill="url(#gr)" fill-opacity="0.32"/><rect x="389.8" y="55.0" width="15.3" height="1.0" fill="url(#gr)" fill-opacity="0.31"/><rect x="392.4" y="56.0" width="15.4" height="1.0" fill="url(#gr)" fill-opacity="0.33"/><rect x="394.7" y="56.0" width="13.2" height="1.0" fill="url(#gr)" fill-opacity="0.26"/><rect x="396.2" y="57.0" width="13.6" height="1.0" fill="url(#gr)" fill-opacity="0.26"/><rect x="394.4" y="57.0" width="13.6" height="1.0" fill="url(#gr)" fill-opacity="0.31"/><rect x="396.4" y="58.0" width="10.4" height="1.0" fill="url(#gr)" fill-opacity="0.25"/><rect x="392.9" y="58.0" width="13.7" height="1.0" fill="url(#gr)" fill-opacity="0.35"/><rect x="395.3" y="59.0" width="12.1" height="1.0" fill="url(#gr)" fill-opacity="0.28"/><rect x="395.7" y="59.0" width="12.1" height="1.0" fill="url(#gr)" fill-opacity="0.32"/><rect x="397.0" y="60.0" width="13.1" height="1.0" fill="url(#gr)" fill-opacity="0.32"/><rect x="397.3" y="60.0" width="11.7" height="1.0" fill="url(#gr)" fill-opacity="0.26"/><rect x="399.0" y="61.0" width="13.7" height="1.0" fill="url(#gr)" fill-opacity="0.23"/><rect x="400.9" y="61.0" width="11.8" height="1.0" fill="url(#gr)" fill-opacity="0.26"/><rect x="400.9" y="62.0" width="11.8" height="1.0" fill="url(#gr)" fill-opacity="0.30"/><rect x="398.2" y="62.0" width="14.5" height="1.0" fill="url(#gr)" fill-opacity="0.28"/><rect x="398.2" y="63.0" width="14.1" height="1.0" fill="url(#gr)" fill-opacity="0.28"/><rect x="400.5" y="63.0" width="10.9" height="1.0" fill="url(#gr)" fill-opacity="0.23"/><rect x="403.2" y="64.0" width="10.6" height="1.0" fill="url(#gr)" fill-opacity="0.25"/><rect x="399.8" y="64.0" width="13.9" height="1.0" fill="url(#gr)" fill-opacity="0.25"/><rect x="399.6" y="65.0" width="14.5" height="1.0" fill="url(#gr)" fill-opacity="0.21"/><rect x="404.0" y="65.0" width="9.9" height="1.0" fill="url(#gr)" fill-opacity="0.29"/><rect x="399.5" y="66.0" width="14.5" height="1.0" fill="url(#gr)" fill-opacity="0.24"/><rect x="404.7" y="66.0" width="13.6" height="1.0" fill="url(#gr)" fill-opacity="0.30"/><rect x="404.8" y="67.0" width="10.9" height="1.0" fill="url(#gr)" fill-opacity="0.19"/><rect x="405.5" y="67.0" width="12.7" height="1.0" fill="url(#gr)" fill-opacity="0.21"/><rect x="406.5" y="68.0" width="14.3" height="1.0" fill="url(#gr)" fill-opacity="0.22"/><rect x="403.4" y="68.0" width="14.2" height="1.0" fill="url(#gr)" fill-opacity="0.20"/><rect x="405.5" y="69.0" width="13.0" height="1.0" fill="url(#gr)" fill-opacity="0.23"/><rect x="406.6" y="69.0" width="11.7" height="1.0" fill="url(#gr)" fill-opacity="0.27"/><rect x="407.3" y="70.0" width="12.0" height="1.0" fill="url(#gr)" fill-opacity="0.24"/><rect x="410.5" y="70.0" width="11.4" height="1.0" fill="url(#gr)" fill-opacity="0.19"/><rect x="408.3" y="71.0" width="14.1" height="1.0" fill="url(#gr)" fill-opacity="0.28"/><rect x="409.6" y="71.0" width="13.6" height="1.0" fill="url(#gr)" fill-opacity="0.20"/><rect x="410.8" y="72.0" width="10.9" height="1.0" fill="url(#gr)" fill-opacity="0.27"/><rect x="409.7" y="72.0" width="11.6" height="1.0" fill="url(#gr)" fill-opacity="0.26"/><rect x="412.0" y="73.0" width="10.1" height="1.0" fill="url(#gr)" fill-opacity="0.18"/><rect x="409.5" y="73.0" width="14.2" height="1.0" fill="url(#gr)" fill-opacity="0.25"/><rect x="410.1" y="74.0" width="11.2" height="1.0" fill="url(#gr)" fill-opacity="0.28"/><rect x="411.1" y="74.0" width="12.3" height="1.0" fill="url(#gr)" fill-opacity="0.25"/><rect x="412.1" y="75.0" width="12.8" height="1.0" fill="url(#gr)" fill-opacity="0.25"/><rect x="413.6" y="75.0" width="9.8" height="1.0" fill="url(#gr)" fill-opacity="0.23"/><rect x="412.2" y="76.0" width="13.2" height="1.0" fill="url(#gr)" fill-opacity="0.30"/><rect x="411.4" y="76.0" width="11.4" height="1.0" fill="url(#gr)" fill-opacity="0.27"/><rect x="411.9" y="77.0" width="11.5" height="1.0" fill="url(#gr)" fill-opacity="0.27"/><rect x="414.7" y="77.0" width="11.8" height="1.0" fill="url(#gr)" fill-opacity="0.32"/><rect x="410.4" y="78.0" width="13.6" height="1.0" fill="url(#gr)" fill-opacity="0.27"/><rect x="414.4" y="78.0" width="13.5" height="1.0" fill="url(#gr)" fill-opacity="0.31"/><rect x="416.7" y="79.0" width="12.3" height="1.0" fill="url(#gr)" fill-opacity="0.33"/><rect x="416.3" y="79.0" width="12.9" height="1.0" fill="url(#gr)" fill-opacity="0.30"/><rect x="419.2" y="80.0" width="9.2" height="1.0" fill="url(#gr)" fill-opacity="0.21"/><rect x="417.1" y="80.0" width="12.8" height="1.0" fill="url(#gr)" fill-opacity="0.20"/><rect x="417.9" y="81.0" width="9.3" height="1.0" fill="url(#gr)" fill-opacity="0.19"/><rect x="416.5" y="81.0" width="9.7" height="1.0" fill="url(#gr)" fill-opacity="0.19"/><rect x="418.8" y="82.0" width="12.7" height="1.0" fill="url(#gr)" fill-opacity="0.11"/><rect x="416.6" y="82.0" width="12.6" height="1.0" fill="url(#gr)" fill-opacity="0.14"/><rect x="419.4" y="83.0" width="9.3" height="1.0" fill="url(#gr)" fill-opacity="0.06"/><rect x="415.1" y="83.0" width="11.6" height="1.0" fill="url(#gr)" fill-opacity="0.07"/></g></g>
<clipPath id="c30"><rect x="450.5" y="26.6" width="65.20000000000005" height="64.4"/></clipPath>
<rect x="450.5" y="26.6" width="65.20000000000005" height="64.4" fill="#faf4f2"/>
<g clip-path="url(#c30)"><g filter="url(#blr)"><rect x="453.8" y="52.5" width="18.1" height="1.0" fill="url(#gr)" fill-opacity="0.07"/><rect x="451.8" y="52.5" width="23.1" height="1.0" fill="url(#gr)" fill-opacity="0.07"/><rect x="451.3" y="53.5" width="22.0" height="1.0" fill="url(#gr)" fill-opacity="0.12"/><rect x="455.1" y="53.5" width="23.2" height="1.0" fill="url(#gr)" fill-opacity="0.09"/><rect x="452.7" y="54.5" width="19.7" height="1.0" fill="url(#gr)" fill-opacity="0.10"/><rect x="452.3" y="54.5" width="23.4" height="1.0" fill="url(#gr)" fill-opacity="0.14"/><rect x="456.0" y="55.5" width="22.7" height="1.0" fill="url(#gr)" fill-opacity="0.13"/><rect x="453.2" y="55.5" width="19.8" height="1.0" fill="url(#gr)" fill-opacity="0.11"/><rect x="455.9" y="56.5" width="21.9" height="1.0" fill="url(#gr)" fill-opacity="0.09"/><rect x="459.6" y="56.5" width="16.0" height="1.0" fill="url(#gr)" fill-opacity="0.12"/><rect x="452.7" y="57.5" width="23.1" height="1.0" fill="url(#gr)" fill-opacity="0.10"/><rect x="457.4" y="57.5" width="18.6" height="1.0" fill="url(#gr)" fill-opacity="0.10"/><rect x="456.7" y="58.5" width="17.7" height="1.0" fill="url(#gr)" fill-opacity="0.10"/><rect x="459.8" y="58.5" width="22.1" height="1.0" fill="url(#gr)" fill-opacity="0.08"/><rect x="459.9" y="59.5" width="16.8" height="1.0" fill="url(#gr)" fill-opacity="0.09"/><rect x="456.7" y="59.5" width="16.4" height="1.0" fill="url(#gr)" fill-opacity="0.09"/><rect x="463.2" y="60.5" width="20.3" height="1.0" fill="url(#gr)" fill-opacity="0.12"/><rect x="458.1" y="60.5" width="15.0" height="1.0" fill="url(#gr)" fill-opacity="0.09"/><rect x="457.4" y="61.5" width="19.2" height="1.0" fill="url(#gr)" fill-opacity="0.12"/><rect x="465.8" y="61.5" width="16.8" height="1.0" fill="url(#gr)" fill-opacity="0.09"/><rect x="459.1" y="62.5" width="16.9" height="1.0" fill="url(#gr)" fill-opacity="0.07"/><rect x="468.0" y="62.5" width="14.8" height="1.0" fill="url(#gr)" fill-opacity="0.08"/><rect x="462.2" y="63.5" width="21.4" height="1.0" fill="url(#gr)" fill-opacity="0.09"/><rect x="466.2" y="63.5" width="15.8" height="1.0" fill="url(#gr)" fill-opacity="0.08"/><rect x="465.2" y="64.5" width="14.4" height="1.0" fill="url(#gr)" fill-opacity="0.09"/><rect x="463.9" y="64.5" width="15.9" height="1.0" fill="url(#gr)" fill-opacity="0.11"/><rect x="464.0" y="65.5" width="20.9" height="1.0" fill="url(#gr)" fill-opacity="0.10"/><rect x="464.1" y="65.5" width="15.7" height="1.0" fill="url(#gr)" fill-opacity="0.10"/><rect x="465.2" y="66.5" width="19.5" height="1.0" fill="url(#gr)" fill-opacity="0.10"/><rect x="472.3" y="66.5" width="14.0" height="1.0" fill="url(#gr)" fill-opacity="0.09"/><rect x="469.4" y="67.5" width="14.6" height="1.0" fill="url(#gr)" fill-opacity="0.08"/><rect x="470.4" y="67.5" width="19.9" height="1.0" fill="url(#gr)" fill-opacity="0.10"/><rect x="471.5" y="68.5" width="18.7" height="1.0" fill="url(#gr)" fill-opacity="0.12"/><rect x="468.4" y="68.5" width="16.7" height="1.0" fill="url(#gr)" fill-opacity="0.09"/><rect x="474.1" y="69.5" width="15.5" height="1.0" fill="url(#gr)" fill-opacity="0.14"/><rect x="466.2" y="69.5" width="18.5" height="1.0" fill="url(#gr)" fill-opacity="0.13"/><rect x="471.0" y="70.5" width="14.8" height="1.0" fill="url(#gr)" fill-opacity="0.14"/><rect x="468.0" y="70.5" width="19.3" height="1.0" fill="url(#gr)" fill-opacity="0.10"/><rect x="471.7" y="71.5" width="18.7" height="1.0" fill="url(#gr)" fill-opacity="0.12"/><rect x="471.3" y="71.5" width="19.1" height="1.0" fill="url(#gr)" fill-opacity="0.15"/><rect x="470.6" y="72.5" width="17.4" height="1.0" fill="url(#gr)" fill-opacity="0.14"/><rect x="472.0" y="72.5" width="14.1" height="1.0" fill="url(#gr)" fill-opacity="0.09"/><rect x="475.2" y="73.5" width="17.6" height="1.0" fill="url(#gr)" fill-opacity="0.13"/><rect x="473.6" y="73.5" width="18.0" height="1.0" fill="url(#gr)" fill-opacity="0.12"/><rect x="474.7" y="74.5" width="17.8" height="1.0" fill="url(#gr)" fill-opacity="0.13"/><rect x="475.3" y="74.5" width="15.3" height="1.0" fill="url(#gr)" fill-opacity="0.12"/><rect x="473.7" y="75.5" width="17.4" height="1.0" fill="url(#gr)" fill-opacity="0.12"/><rect x="476.5" y="75.5" width="13.0" height="1.0" fill="url(#gr)" fill-opacity="0.11"/><rect x="481.5" y="76.5" width="16.9" height="1.0" fill="url(#gr)" fill-opacity="0.11"/><rect x="479.1" y="76.5" width="15.2" height="1.0" fill="url(#gr)" fill-opacity="0.12"/><rect x="479.1" y="77.5" width="17.5" height="1.0" fill="url(#gr)" fill-opacity="0.10"/><rect x="483.5" y="77.5" width="12.5" height="1.0" fill="url(#gr)" fill-opacity="0.13"/><rect x="477.8" y="78.5" width="16.1" height="1.0" fill="url(#gr)" fill-opacity="0.11"/><rect x="482.0" y="78.5" width="16.7" height="1.0" fill="url(#gr)" fill-opacity="0.12"/><rect x="480.3" y="79.5" width="12.4" height="1.0" fill="url(#gr)" fill-opacity="0.17"/><rect x="484.4" y="79.5" width="12.4" height="1.0" fill="url(#gr)" fill-opacity="0.12"/><rect x="479.5" y="80.5" width="15.3" height="1.0" fill="url(#gr)" fill-opacity="0.11"/><rect x="483.2" y="80.5" width="13.0" height="1.0" fill="url(#gr)" fill-opacity="0.13"/><rect x="484.9" y="81.5" width="12.4" height="1.0" fill="url(#gr)" fill-opacity="0.17"/><rect x="485.3" y="81.5" width="13.1" height="1.0" fill="url(#gr)" fill-opacity="0.16"/><rect x="486.5" y="82.5" width="12.6" height="1.0" fill="url(#gr)" fill-opacity="0.17"/><rect x="485.0" y="82.5" width="13.4" height="1.0" fill="url(#gr)" fill-opacity="0.17"/><rect x="488.0" y="83.5" width="13.1" height="1.0" fill="url(#gr)" fill-opacity="0.14"/><rect x="484.4" y="83.5" width="14.8" height="1.0" fill="url(#gr)" fill-opacity="0.15"/><rect x="489.4" y="84.5" width="14.8" height="1.0" fill="url(#gr)" fill-opacity="0.10"/><rect x="488.8" y="84.5" width="15.3" height="1.0" fill="url(#gr)" fill-opacity="0.11"/><rect x="490.6" y="85.5" width="12.4" height="1.0" fill="url(#gr)" fill-opacity="0.11"/><rect x="491.2" y="85.5" width="11.3" height="1.0" fill="url(#gr)" fill-opacity="0.10"/><rect x="491.1" y="86.5" width="15.0" height="1.0" fill="url(#gr)" fill-opacity="0.07"/><rect x="491.2" y="86.5" width="14.2" height="1.0" fill="url(#gr)" fill-opacity="0.06"/><rect x="492.8" y="87.5" width="12.9" height="1.0" fill="url(#gr)" fill-opacity="0.03"/><rect x="492.9" y="87.5" width="13.8" height="1.0" fill="url(#gr)" fill-opacity="0.03"/></g></g>
<clipPath id="c01"><rect x="206.0" y="97.3" width="64.60000000000002" height="65.3"/></clipPath>
<rect x="206.0" y="97.3" width="64.60000000000002" height="65.3" fill="#faf4f2"/>
<g clip-path="url(#c01)"><g filter="url(#blr)"><rect x="210.3" y="108.8" width="11.4" height="1.0" fill="url(#gr)" fill-opacity="0.03"/><rect x="212.7" y="108.8" width="9.1" height="1.0" fill="url(#gr)" fill-opacity="0.02"/><rect x="210.5" y="109.8" width="12.6" height="1.0" fill="url(#gr)" fill-opacity="0.05"/><rect x="210.0" y="109.8" width="11.8" height="1.0" fill="url(#gr)" fill-opacity="0.05"/><rect x="210.5" y="110.8" width="13.4" height="1.0" fill="url(#gr)" fill-opacity="0.09"/><rect x="212.7" y="110.8" width="10.3" height="1.0" fill="url(#gr)" fill-opacity="0.09"/><rect x="213.4" y="111.8" width="12.1" height="1.0" fill="url(#gr)" fill-opacity="0.11"/><rect x="215.1" y="111.8" width="13.0" height="1.0" fill="url(#gr)" fill-opacity="0.09"/><rect x="214.1" y="112.8" width="10.4" height="1.0" fill="url(#gr)" fill-opacity="0.09"/><rect x="214.8" y="112.8" width="9.0" height="1.0" fill="url(#gr)" fill-opacity="0.10"/><rect x="215.1" y="113.8" width="10.4" height="1.0" fill="url(#gr)" fill-opacity="0.09"/><rect x="212.1" y="113.8" width="12.2" height="1.0" fill="url(#gr)" fill-opacity="0.08"/><rect x="216.8" y="114.8" width="9.1" height="1.0" fill="url(#gr)" fill-opacity="0.10"/><rect x="213.4" y="114.8" width="10.6" height="1.0" fill="url(#gr)" fill-opacity="0.09"/><rect x="217.1" y="115.8" width="9.9" height="1.0" fill="url(#gr)" fill-opacity="0.10"/><rect x="217.1" y="115.8" width="13.2" height="1.0" fill="url(#gr)" fill-opacity="0.10"/><rect x="215.1" y="116.8" width="9.5" height="1.0" fill="url(#gr)" fill-opacity="0.11"/><rect x="215.5" y="116.8" width="12.6" height="1.0" fill="url(#gr)" fill-opacity="0.11"/><rect x="217.7" y="117.8" width="11.7" height="1.0" fill="url(#gr)" fill-opacity="0.13"/><rect x="218.0" y="117.8" width="10.5" height="1.0" fill="url(#gr)" fill-opacity="0.13"/><rect x="219.3" y="118.8" width="9.4" height="1.0" fill="url(#gr)" fill-opacity="0.08"/><rect x="219.0" y="118.8" width="12.1" height="1.0" fill="url(#gr)" fill-opacity="0.11"/><rect x="220.9" y="119.8" width="10.8" height="1.0" fill="url(#gr)" fill-opacity="0.08"/><rect x="218.6" y="119.8" width="11.7" height="1.0" fill="url(#gr)" fill-opacity="0.10"/><rect x="224.3" y="120.8" width="9.1" height="1.0" fill="url(#gr)" fill-opacity="0.10"/><rect x="220.7" y="120.8" width="12.8" height="1.0" fill="url(#gr)" fill-opacity="0.08"/><rect x="221.0" y="121.8" width="9.5" height="1.0" fill="url(#gr)" fill-opacity="0.11"/><rect x="220.8" y="121.8" width="9.7" height="1.0" fill="url(#gr)" fill-opacity="0.13"/><rect x="223.6" y="122.8" width="13.4" height="1.0" fill="url(#gr)" fill-opacity="0.10"/><rect x="222.0" y="122.8" width="11.2" height="1.0" fill="url(#gr)" fill-opacity="0.11"/><rect x="222.9" y="123.8" width="10.7" height="1.0" fill="url(#gr)" fill-opacity="0.11"/><rect x="222.6" y="123.8" width="13.3" height="1.0" fill="url(#gr)" fill-opacity="0.10"/><rect x="224.4" y="124.8" width="12.5" height="1.0" fill="url(#gr)" fill-opacity="0.11"/><rect x="225.0" y="124.8" width="10.6" height="1.0" fill="url(#gr)" fill-opacity="0.11"/><rect x="224.7" y="125.8" width="10.6" height="1.0" fill="url(#gr)" fill-opacity="0.11"/><rect x="224.1" y="125.8" width="10.3" height="1.0" fill="url(#gr)" fill-opacity="0.10"/><rect x="225.2" y="126.8" width="11.9" height="1.0" fill="url(#gr)" fill-opacity="0.11"/><rect x="230.7" y="126.8" width="9.1" height="1.0" fill="url(#gr)" fill-opacity="0.11"/><rect x="223.8" y="127.8" width="11.9" height="1.0" fill="url(#gr)" fill-opacity="0.12"/><rect x="227.5" y="127.8" width="10.6" height="1.0" fill="url(#gr)" fill-opacity="0.11"/><rect x="225.9" y="128.8" width="12.9" height="1.0" fill="url(#gr)" fill-opacity="0.12"/><rect x="229.3" y="128.8" width="13.4" height="1.0" fill="url(#gr)" fill-opacity="0.13"/><rect x="229.1" y="129.8" width="13.2" height="1.0" fill="url(#gr)" fill-opacity="0.10"/><rect x="230.6" y="129.8" width="12.1" height="1.0" fill="url(#gr)" fill-opacity="0.11"/><rect x="230.1" y="130.8" width="12.0" height="1.0" fill="url(#gr)" fill-opacity="0.09"/><rect x="228.1" y="130.8" width="11.8" height="1.0" fill="url(#gr)" fill-opacity="0.11"/><rect x="231.8" y="131.8" width="11.0" height="1.0" fill="url(#gr)" fill-opacity="0.12"/><rect x="231.6" y="131.8" width="10.0" height="1.0" fill="url(#gr)" fill-opacity="0.12"/><rect x="231.8" y="132.8" width="9.2" height="1.0" fill="url(#gr)" fill-opacity="0.09"/><rect x="232.4" y="132.8" width="10.4" height="1.0" fill="url(#gr)" fill-opacity="0.09"/><rect x="230.5" y="133.8" width="11.8" height="1.0" fill="url(#gr)" fill-opacity="0.11"/><rect x="232.9" y="133.8" width="10.1" height="1.0" fill="url(#gr)" fill-opacity="0.12"/><rect x="233.2" y="134.8" width="9.5" height="1.0" fill="url(#gr)" fill-opacity="0.14"/><rect x="234.3" y="134.8" width="10.7" height="1.0" fill="url(#gr)" fill-opacity="0.10"/><rect x="233.2" y="135.8" width="11.6" height="1.0" fill="url(#gr)" fill-opacity="0.14"/><rect x="233.5" y="135.8" width="12.7" height="1.0" fill="url(#gr)" fill-opacity="0.11"/><rect x="235.1" y="136.8" width="11.7" height="1.0" fill="url(#gr)" fill-opacity="0.14"/><rect x="235.3" y="136.8" width="13.3" height="1.0" fill="url(#gr)" fill-opacity="0.16"/><rect x="237.5" y="137.8" width="9.5" height="1.0" fill="url(#gr)" fill-opacity="0.14"/><rect x="236.2" y="137.8" width="11.8" height="1.0" fill="url(#gr)" fill-opacity="0.12"/><rect x="237.3" y="138.8" width="10.0" height="1.0" fill="url(#gr)" fill-opacity="0.15"/><rect x="237.6" y="138.8" width="13.4" height="1.0" fill="url(#gr)" fill-opacity="0.15"/><rect x="237.3" y="139.8" width="13.4" height="1.0" fill="url(#gr)" fill-opacity="0.17"/><rect x="238.9" y="139.8" width="10.9" height="1.0" fill="url(#gr)" fill-opacity="0.15"/><rect x="240.9" y="140.8" width="9.5" height="1.0" fill="url(#gr)" fill-opacity="0.16"/><rect x="242.1" y="140.8" width="11.0" height="1.0" fill="url(#gr)" fill-opacity="0.14"/><rect x="243.4" y="141.8" width="10.2" height="1.0" fill="url(#gr)" fill-opacity="0.19"/><rect x="240.7" y="141.8" width="12.5" height="1.0" fill="url(#gr)" fill-opacity="0.15"/><rect x="242.4" y="142.8" width="11.7" height="1.0" fill="url(#gr)" fill-opacity="0.14"/><rect x="241.1" y="142.8" width="11.9" height="1.0" fill="url(#gr)" fill-opacity="0.14"/><rect x="243.3" y="143.8" width="11.4" height="1.0" fill="url(#gr)" fill-opacity="0.12"/><rect x="242.7" y="143.8" width="10.3" height="1.0" fill="url(#gr)" fill-opacity="0.13"/><rect x="245.0" y="144.8" width="9.2" height="1.0" fill="url(#gr)" fill-opacity="0.12"/><rect x="242.3" y="144.8" width="11.1" height="1.0" fill="url(#gr)" fill-opacity="0.15"/><rect x="248.3" y="145.8" width="10.9" height="1.0" fill="url(#gr)" fill-opacity="0.13"/><rect x="245.5" y="145.8" width="12.2" height="1.0" fill="url(#gr)" fill-opacity="0.14"/><rect x="244.3" y="146.8" width="12.8" height="1.0" fill="url(#gr)" fill-opacity="0.12"/><rect x="247.4" y="146.8" width="10.3" height="1.0" fill="url(#gr)" fill-opacity="0.15"/><rect x="246.3" y="147.8" width="10.3" height="1.0" fill="url(#gr)" fill-opacity="0.12"/><rect x="244.0" y="147.8" width="13.1" height="1.0" fill="url(#gr)" fill-opacity="0.09"/><rect x="247.4" y="148.8" width="9.7" height="1.0" fill="url(#gr)" fill-opacity="0.08"/><rect x="247.1" y="148.8" width="12.7" height="1.0" fill="url(#gr)" fill-opacity="0.06"/><rect x="249.9" y="149.8" width="9.1" height="1.0" fill="url(#gr)" fill-opacity="0.06"/><rect x="245.3" y="149.8" width="13.4" height="1.0" fill="url(#gr)" fill-opacity="0.07"/><rect x="250.1" y="150.8" width="11.9" height="1.0" fill="url(#gr)" fill-opacity="0.04"/><rect x="248.6" y="150.8" width="12.2" height="1.0" fill="url(#gr)" fill-opacity="0.03"/><rect x="251.3" y="151.8" width="10.9" height="1.0" fill="url(#gr)" fill-opacity="0.01"/><rect x="251.3" y="151.8" width="11.8" height="1.0" fill="url(#gr)" fill-opacity="0.01"/></g></g>
<clipPath id="c11"><rect x="276.6" y="97.3" width="65.79999999999995" height="65.3"/></clipPath>
<rect x="276.6" y="97.3" width="65.79999999999995" height="65.3" fill="#faf4f2"/>
<g clip-path="url(#c11)"><g filter="url(#blr)"><rect x="279.6" y="113.5" width="14.0" height="1.0" fill="url(#gr)" fill-opacity="0.11"/><rect x="279.1" y="113.5" width="12.1" height="1.0" fill="url(#gr)" fill-opacity="0.11"/><rect x="281.5" y="114.5" width="15.6" height="1.0" fill="url(#gr)" fill-opacity="0.16"/><rect x="280.4" y="114.5" width="11.5" height="1.0" fill="url(#gr)" fill-opacity="0.19"/><rect x="283.0" y="115.5" width="14.5" height="1.0" fill="url(#gr)" fill-opacity="0.23"/><rect x="281.8" y="115.5" width="16.2" height="1.0" fill="url(#gr)" fill-opacity="0.26"/><rect x="278.7" y="116.5" width="16.0" height="1.0" fill="url(#gr)" fill-opacity="0.34"/><rect x="284.8" y="116.5" width="14.5" height="1.0" fill="url(#gr)" fill-opacity="0.37"/><rect x="285.3" y="117.5" width="14.3" height="1.0" fill="url(#gr)" fill-opacity="0.39"/><rect x="284.1" y="117.5" width="14.2" height="1.0" fill="url(#gr)" fill-opacity="0.36"/><rect x="287.3" y="118.5" width="12.7" height="1.0" fill="url(#gr)" fill-opacity="0.33"/><rect x="286.6" y="118.5" width="13.7" height="1.0" fill="url(#gr)" fill-opacity="0.32"/><rect x="283.8" y="119.5" width="15.3" height="1.0" fill="url(#gr)" fill-opacity="0.32"/><rect x="284.9" y="119.5" width="12.8" height="1.0" fill="url(#gr)" fill-opacity="0.47"/><rect x="286.2" y="120.5" width="11.7" height="1.0" fill="url(#gr)" fill-opacity="0.41"/><rect x="288.7" y="120.5" width="11.3" height="1.0" fill="url(#gr)" fill-opacity="0.33"/><rect x="287.4" y="121.5" width="16.4" height="1.0" fill="url(#gr)" fill-opacity="0.40"/><rect x="286.9" y="121.5" width="14.7" height="1.0" fill="url(#gr)" fill-opacity="0.40"/><rect x="288.7" y="122.5" width="13.6" height="1.0" fill="url(#gr)" fill-opacity="0.42"/><rect x="286.4" y="122.5" width="13.2" height="1.0" fill="url(#gr)" fill-opacity="0.33"/><rect x="287.5" y="123.5" width="11.9" height="1.0" fill="url(#gr)" fill-opacity="0.27"/><rect x="290.8" y="123.5" width="11.7" height="1.0" fill="url(#gr)" fill-opacity="0.35"/><rect x="287.0" y="124.5" width="12.4" height="1.0" fill="url(#gr)" fill-opacity="0.32"/><rect x="290.0" y="124.5" width="15.8" height="1.0" fill="url(#gr)" fill-opacity="0.35"/><rect x="290.2" y="125.5" width="13.1" height="1.0" fill="url(#gr)" fill-opacity="0.33"/><rect x="290.0" y="125.5" width="15.4" height="1.0" fill="url(#gr)" fill-opacity="0.33"/><rect x="293.5" y="126.5" width="14.3" height="1.0" fill="url(#gr)" fill-opacity="0.38"/><rect x="291.9" y="126.5" width="13.2" height="1.0" fill="url(#gr)" fill-opacity="0.41"/><rect x="293.7" y="127.5" width="13.5" height="1.0" fill="url(#gr)" fill-opacity="0.33"/><rect x="295.1" y="127.5" width="11.2" height="1.0" fill="url(#gr)" fill-opacity="0.45"/><rect x="290.0" y="128.5" width="15.7" height="1.0" fill="url(#gr)" fill-opacity="0.32"/><rect x="297.3" y="128.5" width="12.1" height="1.0" fill="url(#gr)" fill-opacity="0.45"/><rect x="295.9" y="129.5" width="13.7" height="1.0" fill="url(#gr)" fill-opacity="0.35"/><rect x="293.4" y="129.5" width="11.6" height="1.0" fill="url(#gr)" fill-opacity="0.33"/><rect x="294.5" y="130.5" width="14.5" height="1.0" fill="url(#gr)" fill-opacity="0.31"/><rect x="296.1" y="130.5" width="11.6" height="1.0" fill="url(#gr)" fill-opacity="0.40"/><rect x="296.4" y="131.5" width="11.7" height="1.0" fill="url(#gr)" fill-opacity="0.46"/><rect x="296.4" y="131.5" width="11.5" height="1.0" fill="url(#gr)" fill-opacity="0.42"/><rect x="299.8" y="132.5" width="14.8" height="1.0" fill="url(#gr)" fill-opacity="0.45"/><rect x="298.8" y="132.5" width="11.8" height="1.0" fill="url(#gr)" fill-opacity="0.47"/><rect x="300.9" y="133.5" width="12.5" height="1.0" fill="url(#gr)" fill-opacity="0.38"/><rect x="299.4" y="133.5" width="11.4" height="1.0" fill="url(#gr)" fill-opacity="0.39"/><rect x="300.8" y="134.5" width="15.7" height="1.0" fill="url(#gr)" fill-opacity="0.30"/><rect x="299.6" y="134.5" width="16.3" height="1.0" fill="url(#gr)" fill-opacity="0.32"/><rect x="304.4" y="135.5" width="14.5" height="1.0" fill="url(#gr)" fill-opacity="0.31"/><rect x="305.0" y="135.5" width="11.2" height="1.0" fill="url(#gr)" fill-opacity="0.27"/><rect x="303.9" y="136.5" width="16.2" height="1.0" fill="url(#gr)" fill-opacity="0.33"/><rect x="302.6" y="136.5" width="12.9" height="1.0" fill="url(#gr)" fill-opacity="0.26"/><rect x="302.2" y="137.5" width="13.7" height="1.0" fill="url(#gr)" fill-opacity="0.26"/><rect x="304.6" y="137.5" width="11.4" height="1.0" fill="url(#gr)" fill-opacity="0.32"/><rect x="305.7" y="138.5" width="11.8" height="1.0" fill="url(#gr)" fill-opacity="0.36"/><rect x="305.3" y="138.5" width="13.1" height="1.0" fill="url(#gr)" fill-opacity="0.32"/><rect x="307.7" y="139.5" width="11.9" height="1.0" fill="url(#gr)" fill-opacity="0.33"/><rect x="305.1" y="139.5" width="12.3" height="1.0" fill="url(#gr)" fill-opacity="0.37"/><rect x="308.2" y="140.5" width="13.1" height="1.0" fill="url(#gr)" fill-opacity="0.36"/><rect x="308.9" y="140.5" width="13.2" height="1.0" fill="url(#gr)" fill-opacity="0.44"/><rect x="306.5" y="141.5" width="15.4" height="1.0" fill="url(#gr)" fill-opacity="0.36"/><rect x="305.1" y="141.5" width="14.7" height="1.0" fill="url(#gr)" fill-opacity="0.45"/><rect x="309.0" y="142.5" width="11.2" height="1.0" fill="url(#gr)" fill-opacity="0.43"/><rect x="309.6" y="142.5" width="11.6" height="1.0" fill="url(#gr)" fill-opacity="0.42"/><rect x="310.2" y="143.5" width="15.3" height="1.0" fill="url(#gr)" fill-opacity="0.33"/><rect x="309.2" y="143.5" width="14.1" height="1.0" fill="url(#gr)" fill-opacity="0.43"/><rect x="310.6" y="144.5" width="11.9" height="1.0" fill="url(#gr)" fill-opacity="0.42"/><rect x="308.0" y="144.5" width="11.7" height="1.0" fill="url(#gr)" fill-opacity="0.33"/><rect x="314.2" y="145.5" width="14.7" height="1.0" fill="url(#gr)" fill-opacity="0.39"/><rect x="310.5" y="145.5" width="14.6" height="1.0" fill="url(#gr)" fill-opacity="0.32"/><rect x="313.3" y="146.5" width="15.3" height="1.0" fill="url(#gr)" fill-opacity="0.34"/><rect x="309.8" y="146.5" width="14.3" height="1.0" fill="url(#gr)" fill-opacity="0.34"/><rect x="315.9" y="147.5" width="14.8" height="1.0" fill="url(#gr)" fill-opacity="0.51"/><rect x="314.8" y="147.5" width="11.5" height="1.0" fill="url(#gr)" fill-opacity="0.48"/><rect x="317.8" y="148.5" width="11.2" height="1.0" fill="url(#gr)" fill-opacity="0.49"/><rect x="315.0" y="148.5" width="16.2" height="1.0" fill="url(#gr)" fill-opacity="0.40"/><rect x="317.0" y="149.5" width="11.4" height="1.0" fill="url(#gr)" fill-opacity="0.30"/><rect x="315.0" y="149.5" width="15.6" height="1.0" fill="url(#gr)" fill-opacity="0.31"/><rect x="318.3" y="150.5" width="12.0" height="1.0" fill="url(#gr)" fill-opacity="0.47"/><rect x="317.8" y="150.5" width="13.1" height="1.0" fill="url(#gr)" fill-opacity="0.41"/><rect x="316.8" y="151.5" width="11.8" height="1.0" fill="url(#gr)" fill-opacity="0.50"/><rect x="318.1" y="151.5" width="12.1" height="1.0" fill="url(#gr)" fill-opacity="0.43"/><rect x="321.3" y="152.5" width="13.8" height="1.0" fill="url(#gr)" fill-opacity="0.35"/><rect x="317.2" y="152.5" width="14.3" height="1.0" fill="url(#gr)" fill-opacity="0.41"/><rect x="318.5" y="153.5" width="13.6" height="1.0" fill="url(#gr)" fill-opacity="0.45"/><rect x="315.5" y="153.5" width="15.9" height="1.0" fill="url(#gr)" fill-opacity="0.34"/><rect x="322.1" y="154.5" width="12.4" height="1.0" fill="url(#gr)" fill-opacity="0.31"/><rect x="319.7" y="154.5" width="13.0" height="1.0" fill="url(#gr)" fill-opacity="0.42"/><rect x="320.0" y="155.5" width="14.4" height="1.0" fill="url(#gr)" fill-opacity="0.24"/><rect x="320.0" y="155.5" width="16.1" height="1.0" fill="url(#gr)" fill-opacity="0.18"/><rect x="324.1" y="156.5" width="13.9" height="1.0" fill="url(#gr)" fill-opacity="0.18"/><rect x="319.8" y="156.5" width="13.9" height="1.0" fill="url(#gr)" fill-opacity="0.17"/><rect x="325.5" y="157.5" width="14.3" height="1.0" fill="url(#gr)" fill-opacity="0.10"/><rect x="322.1" y="157.5" width="14.6" height="1.0" fill="url(#gr)" fill-opacity="0.10"/></g></g>
<clipPath id="c21"><rect x="379.4" y="97.3" width="65.0" height="65.3"/></clipPath>
<rect x="379.4" y="97.3" width="65.0" height="65.3" fill="#faf4f2"/>
<g clip-path="url(#c21)"><g filter="url(#blr)"><rect x="379.5" y="115.8" width="13.8" height="1.0" fill="url(#gr)" fill-opacity="0.08"/><rect x="382.8" y="115.8" width="17.1" height="1.0" fill="url(#gr)" fill-opacity="0.11"/><rect x="382.7" y="116.8" width="18.6" height="1.0" fill="url(#gr)" fill-opacity="0.17"/><rect x="384.3" y="116.8" width="13.9" height="1.0" fill="url(#gr)" fill-opacity="0.16"/><rect x="384.3" y="117.8" width="17.2" height="1.0" fill="url(#gr)" fill-opacity="0.29"/><rect x="385.9" y="117.8" width="16.6" height="1.0" fill="url(#gr)" fill-opacity="0.25"/><rect x="383.9" y="118.8" width="15.0" height="1.0" fill="url(#gr)" fill-opacity="0.35"/><rect x="382.5" y="118.8" width="15.9" height="1.0" fill="url(#gr)" fill-opacity="0.31"/><rect x="386.3" y="119.8" width="16.4" height="1.0" fill="url(#gr)" fill-opacity="0.49"/><rect x="388.1" y="119.8" width="17.7" height="1.0" fill="url(#gr)" fill-opacity="0.39"/><rect x="385.7" y="120.8" width="14.0" height="1.0" fill="url(#gr)" fill-opacity="0.35"/><rect x="390.6" y="120.8" width="13.3" height="1.0" fill="url(#gr)" fill-opacity="0.38"/><rect x="388.7" y="121.8" width="17.5" height="1.0" fill="url(#gr)" fill-opacity="0.42"/><rect x="386.6" y="121.8" width="16.8" height="1.0" fill="url(#gr)" fill-opacity="0.39"/><rect x="387.8" y="122.8" width="13.4" height="1.0" fill="url(#gr)" fill-opacity="0.47"/><rect x="389.2" y="122.8" width="17.2" height="1.0" fill="url(#gr)" fill-opacity="0.52"/><rect x="389.6" y="123.8" width="13.1" height="1.0" fill="url(#gr)" fill-opacity="0.34"/><rect x="393.2" y="123.8" width="14.1" height="1.0" fill="url(#gr)" fill-opacity="0.30"/><rect x="391.3" y="124.8" width="15.5" height="1.0" fill="url(#gr)" fill-opacity="0.44"/><rect x="392.4" y="124.8" width="13.5" height="1.0" fill="url(#gr)" fill-opacity="0.38"/><rect x="394.1" y="125.8" width="14.8" height="1.0" fill="url(#gr)" fill-opacity="0.37"/><rect x="388.7" y="125.8" width="15.3" height="1.0" fill="url(#gr)" fill-opacity="0.44"/><rect x="394.9" y="126.8" width="14.5" height="1.0" fill="url(#gr)" fill-opacity="0.30"/><rect x="394.4" y="126.8" width="16.8" height="1.0" fill="url(#gr)" fill-opacity="0.27"/><rect x="389.7" y="127.8" width="19.2" height="1.0" fill="url(#gr)" fill-opacity="0.34"/><rect x="394.7" y="127.8" width="16.4" height="1.0" fill="url(#gr)" fill-opacity="0.33"/><rect x="396.5" y="128.8" width="18.7" height="1.0" fill="url(#gr)" fill-opacity="0.31"/><rect x="393.3" y="128.8" width="15.6" height="1.0" fill="url(#gr)" fill-opacity="0.27"/><rect x="396.7" y="129.8" width="14.4" height="1.0" fill="url(#gr)" fill-opacity="0.29"/><rect x="395.8" y="129.8" width="15.2" height="1.0" fill="url(#gr)" fill-opacity="0.27"/><rect x="398.7" y="130.8" width="13.2" height="1.0" fill="url(#gr)" fill-opacity="0.34"/><rect x="396.4" y="130.8" width="17.0" height="1.0" fill="url(#gr)" fill-opacity="0.25"/><rect x="395.1" y="131.8" width="18.5" height="1.0" fill="url(#gr)" fill-opacity="0.38"/><rect x="397.7" y="131.8" width="16.0" height="1.0" fill="url(#gr)" fill-opacity="0.32"/><rect x="395.4" y="132.8" width="18.4" height="1.0" fill="url(#gr)" fill-opacity="0.26"/><rect x="400.2" y="132.8" width="13.2" height="1.0" fill="url(#gr)" fill-opacity="0.36"/><rect x="398.3" y="133.8" width="16.4" height="1.0" fill="url(#gr)" fill-opacity="0.37"/><rect x="397.5" y="133.8" width="18.6" height="1.0" fill="url(#gr)" fill-opacity="0.34"/><rect x="400.7" y="134.8" width="16.5" height="1.0" fill="url(#gr)" fill-opacity="0.38"/><rect x="402.6" y="134.8" width="15.1" height="1.0" fill="url(#gr)" fill-opacity="0.30"/><rect x="401.8" y="135.8" width="18.3" height="1.0" fill="url(#gr)" fill-opacity="0.44"/><rect x="398.8" y="135.8" width="14.5" height="1.0" fill="url(#gr)" fill-opacity="0.40"/><rect x="403.1" y="136.8" width="14.7" height="1.0" fill="url(#gr)" fill-opacity="0.32"/><rect x="399.5" y="136.8" width="19.2" height="1.0" fill="url(#gr)" fill-opacity="0.29"/><rect x="405.1" y="137.8" width="14.4" height="1.0" fill="url(#gr)" fill-opacity="0.34"/><rect x="402.9" y="137.8" width="14.3" height="1.0" fill="url(#gr)" fill-opacity="0.33"/><rect x="403.4" y="138.8" width="17.2" height="1.0" fill="url(#gr)" fill-opacity="0.40"/><rect x="402.1" y="138.8" width="13.6" height="1.0" fill="url(#gr)" fill-opacity="0.38"/><rect x="404.8" y="139.8" width="14.2" height="1.0" fill="url(#gr)" fill-opacity="0.37"/><rect x="402.1" y="139.8" width="15.2" height="1.0" fill="url(#gr)" fill-opacity="0.37"/><rect x="399.9" y="140.8" width="17.7" height="1.0" fill="url(#gr)" fill-opacity="0.25"/><rect x="408.4" y="140.8" width="13.8" height="1.0" fill="url(#gr)" fill-opacity="0.25"/><rect x="405.6" y="141.8" width="19.4" height="1.0" fill="url(#gr)" fill-opacity="0.34"/><rect x="408.3" y="141.8" width="15.3" height="1.0" fill="url(#gr)" fill-opacity="0.32"/><rect x="407.0" y="142.8" width="16.4" height="1.0" fill="url(#gr)" fill-opacity="0.30"/><rect x="404.0" y="142.8" width="15.8" height="1.0" fill="url(#gr)" fill-opacity="0.29"/><rect x="406.8" y="143.8" width="14.6" height="1.0" fill="url(#gr)" fill-opacity="0.28"/><rect x="408.4" y="143.8" width="14.7" height="1.0" fill="url(#gr)" fill-opacity="0.26"/><rect x="403.9" y="144.8" width="16.8" height="1.0" fill="url(#gr)" fill-opacity="0.39"/><rect x="407.5" y="144.8" width="15.7" height="1.0" fill="url(#gr)" fill-opacity="0.39"/><rect x="406.5" y="145.8" width="15.9" height="1.0" fill="url(#gr)" fill-opacity="0.28"/><rect x="408.2" y="145.8" width="13.0" height="1.0" fill="url(#gr)" fill-opacity="0.36"/><rect x="406.9" y="146.8" width="15.1" height="1.0" fill="url(#gr)" fill-opacity="0.34"/><rect x="404.1" y="146.8" width="16.6" height="1.0" fill="url(#gr)" fill-opacity="0.37"/><rect x="406.3" y="147.8" width="18.0" height="1.0" fill="url(#gr)" fill-opacity="0.36"/><rect x="408.6" y="147.8" width="16.7" height="1.0" fill="url(#gr)" fill-opacity="0.40"/><rect x="407.2" y="148.8" width="16.3" height="1.0" fill="url(#gr)" fill-opacity="0.39"/><rect x="407.7" y="148.8" width="15.9" height="1.0" fill="url(#gr)" fill-opacity="0.37"/><rect x="406.1" y="149.8" width="19.1" height="1.0" fill="url(#gr)" fill-opacity="0.39"/><rect x="404.8" y="149.8" width="16.6" height="1.0" fill="url(#gr)" fill-opacity="0.51"/><rect x="412.7" y="150.8" width="13.5" height="1.0" fill="url(#gr)" fill-opacity="0.32"/><rect x="412.7" y="150.8" width="13.5" height="1.0" fill="url(#gr)" fill-opacity="0.38"/><rect x="411.4" y="151.8" width="17.3" height="1.0" fill="url(#gr)" fill-opacity="0.38"/><rect x="411.5" y="151.8" width="18.7" height="1.0" fill="url(#gr)" fill-opacity="0.53"/><rect x="406.3" y="152.8" width="19.4" height="1.0" fill="url(#gr)" fill-opacity="0.52"/><rect x="412.2" y="152.8" width="14.0" height="1.0" fill="url(#gr)" fill-opacity="0.45"/><rect x="410.5" y="153.8" width="17.7" height="1.0" fill="url(#gr)" fill-opacity="0.28"/><rect x="412.1" y="153.8" width="16.6" height="1.0" fill="url(#gr)" fill-opacity="0.34"/><rect x="410.1" y="154.8" width="13.4" height="1.0" fill="url(#gr)" fill-opacity="0.33"/><rect x="407.8" y="154.8" width="18.1" height="1.0" fill="url(#gr)" fill-opacity="0.32"/><rect x="415.0" y="155.8" width="14.8" height="1.0" fill="url(#gr)" fill-opacity="0.17"/><rect x="412.0" y="155.8" width="15.7" height="1.0" fill="url(#gr)" fill-opacity="0.23"/><rect x="414.9" y="156.8" width="16.7" height="1.0" fill="url(#gr)" fill-opacity="0.14"/><rect x="417.4" y="156.8" width="13.6" height="1.0" fill="url(#gr)" fill-opacity="0.11"/><rect x="416.5" y="157.8" width="17.1" height="1.0" fill="url(#gr)" fill-opacity="0.07"/><rect x="416.2" y="157.8" width="13.5" height="1.0" fill="url(#gr)" fill-opacity="0.08"/></g></g>
<clipPath id="c31"><rect x="450.5" y="97.3" width="65.20000000000005" height="65.3"/></clipPath>
<rect x="450.5" y="97.3" width="65.20000000000005" height="65.3" fill="#faf4f2"/>
<g clip-path="url(#c31)"><g filter="url(#blr)"><rect x="459.9" y="124.1" width="12.0" height="1.0" fill="url(#gr)" fill-opacity="0.08"/><rect x="462.0" y="124.1" width="11.6" height="1.0" fill="url(#gr)" fill-opacity="0.08"/><rect x="458.4" y="125.1" width="13.0" height="1.0" fill="url(#gr)" fill-opacity="0.22"/><rect x="460.1" y="125.1" width="11.9" height="1.0" fill="url(#gr)" fill-opacity="0.19"/><rect x="457.6" y="126.1" width="14.4" height="1.0" fill="url(#gr)" fill-opacity="0.27"/><rect x="460.1" y="126.1" width="16.7" height="1.0" fill="url(#gr)" fill-opacity="0.27"/><rect x="462.2" y="127.1" width="12.6" height="1.0" fill="url(#gr)" fill-opacity="0.34"/><rect x="458.5" y="127.1" width="14.8" height="1.0" fill="url(#gr)" fill-opacity="0.31"/><rect x="460.2" y="128.1" width="12.3" height="1.0" fill="url(#gr)" fill-opacity="0.36"/><rect x="465.3" y="128.1" width="12.1" height="1.0" fill="url(#gr)" fill-opacity="0.35"/><rect x="463.9" y="129.1" width="12.6" height="1.0" fill="url(#gr)" fill-opacity="0.37"/><rect x="460.1" y="129.1" width="14.5" height="1.0" fill="url(#gr)" fill-opacity="0.43"/><rect x="460.0" y="130.1" width="12.8" height="1.0" fill="url(#gr)" fill-opacity="0.40"/><rect x="463.1" y="130.1" width="11.6" height="1.0" fill="url(#gr)" fill-opacity="0.42"/><rect x="459.6" y="131.1" width="16.6" height="1.0" fill="url(#gr)" fill-opacity="0.35"/><rect x="465.7" y="131.1" width="13.8" height="1.0" fill="url(#gr)" fill-opacity="0.35"/><rect x="466.1" y="132.1" width="13.2" height="1.0" fill="url(#gr)" fill-opacity="0.38"/><rect x="466.7" y="132.1" width="15.9" height="1.0" fill="url(#gr)" fill-opacity="0.44"/><rect x="465.1" y="133.1" width="14.1" height="1.0" fill="url(#gr)" fill-opacity="0.38"/><rect x="466.3" y="133.1" width="14.9" height="1.0" fill="url(#gr)" fill-opacity="0.36"/><rect x="467.6" y="134.1" width="13.6" height="1.0" fill="url(#gr)" fill-opacity="0.38"/><rect x="466.9" y="134.1" width="14.4" height="1.0" fill="url(#gr)" fill-opacity="0.37"/><rect x="469.2" y="135.1" width="13.7" height="1.0" fill="url(#gr)" fill-opacity="0.33"/><rect x="467.3" y="135.1" width="15.8" height="1.0" fill="url(#gr)" fill-opacity="0.30"/><rect x="468.4" y="136.1" width="16.5" height="1.0" fill="url(#gr)" fill-opacity="0.24"/><rect x="466.5" y="136.1" width="17.0" height="1.0" fill="url(#gr)" fill-opacity="0.33"/><rect x="472.0" y="137.1" width="14.0" height="1.0" fill="url(#gr)" fill-opacity="0.28"/><rect x="473.6" y="137.1" width="15.0" height="1.0" fill="url(#gr)" fill-opacity="0.34"/><rect x="471.7" y="138.1" width="14.1" height="1.0" fill="url(#gr)" fill-opacity="0.25"/><rect x="471.6" y="138.1" width="14.0" height="1.0" fill="url(#gr)" fill-opacity="0.32"/><rect x="470.7" y="139.1" width="12.8" height="1.0" fill="url(#gr)" fill-opacity="0.27"/><rect x="472.3" y="139.1" width="14.1" height="1.0" fill="url(#gr)" fill-opacity="0.26"/><rect x="472.2" y="140.1" width="13.6" height="1.0" fill="url(#gr)" fill-opacity="0.32"/><rect x="473.0" y="140.1" width="12.0" height="1.0" fill="url(#gr)" fill-opacity="0.39"/><rect x="473.5" y="141.1" width="12.8" height="1.0" fill="url(#gr)" fill-opacity="0.31"/><rect x="471.3" y="141.1" width="15.8" height="1.0" fill="url(#gr)" fill-opacity="0.33"/><rect x="474.0" y="142.1" width="16.8" height="1.0" fill="url(#gr)" fill-opacity="0.38"/><rect x="472.0" y="142.1" width="12.8" height="1.0" fill="url(#gr)" fill-opacity="0.29"/><rect x="470.8" y="143.1" width="16.4" height="1.0" fill="url(#gr)" fill-opacity="0.35"/><rect x="477.2" y="143.1" width="15.1" height="1.0" fill="url(#gr)" fill-opacity="0.41"/><rect x="476.9" y="144.1" width="13.6" height="1.0" fill="url(#gr)" fill-opacity="0.35"/><rect x="473.9" y="144.1" width="16.4" height="1.0" fill="url(#gr)" fill-opacity="0.27"/><rect x="476.2" y="145.1" width="16.9" height="1.0" fill="url(#gr)" fill-opacity="0.35"/><rect x="472.9" y="145.1" width="16.2" height="1.0" fill="url(#gr)" fill-opacity="0.33"/><rect x="473.8" y="146.1" width="16.3" height="1.0" fill="url(#gr)" fill-opacity="0.27"/><rect x="478.3" y="146.1" width="11.9" height="1.0" fill="url(#gr)" fill-opacity="0.33"/><rect x="480.5" y="147.1" width="13.1" height="1.0" fill="url(#gr)" fill-opacity="0.28"/><rect x="478.8" y="147.1" width="16.1" height="1.0" fill="url(#gr)" fill-opacity="0.30"/><rect x="475.5" y="148.1" width="17.1" height="1.0" fill="url(#gr)" fill-opacity="0.38"/><rect x="478.4" y="148.1" width="15.8" height="1.0" fill="url(#gr)" fill-opacity="0.31"/><rect x="479.8" y="149.1" width="16.0" height="1.0" fill="url(#gr)" fill-opacity="0.35"/><rect x="478.7" y="149.1" width="13.7" height="1.0" fill="url(#gr)" fill-opacity="0.34"/><rect x="484.3" y="150.1" width="12.3" height="1.0" fill="url(#gr)" fill-opacity="0.37"/><rect x="478.6" y="150.1" width="15.4" height="1.0" fill="url(#gr)" fill-opacity="0.29"/><rect x="485.2" y="151.1" width="12.0" height="1.0" fill="url(#gr)" fill-opacity="0.35"/><rect x="477.5" y="151.1" width="16.5" height="1.0" fill="url(#gr)" fill-opacity="0.36"/><rect x="483.9" y="152.1" width="15.3" height="1.0" fill="url(#gr)" fill-opacity="0.26"/><rect x="478.7" y="152.1" width="16.3" height="1.0" fill="url(#gr)" fill-opacity="0.30"/><rect x="482.5" y="153.1" width="13.6" height="1.0" fill="url(#gr)" fill-opacity="0.29"/><rect x="484.0" y="153.1" width="14.5" height="1.0" fill="url(#gr)" fill-opacity="0.27"/><rect x="484.5" y="154.1" width="13.7" height="1.0" fill="url(#gr)" fill-opacity="0.28"/><rect x="483.8" y="154.1" width="16.0" height="1.0" fill="url(#gr)" fill-opacity="0.24"/><rect x="486.0" y="155.1" width="12.1" height="1.0" fill="url(#gr)" fill-opacity="0.23"/><rect x="486.0" y="155.1" width="14.7" height="1.0" fill="url(#gr)" fill-opacity="0.31"/><rect x="483.1" y="156.1" width="15.7" height="1.0" fill="url(#gr)" fill-opacity="0.29"/><rect x="488.4" y="156.1" width="14.7" height="1.0" fill="url(#gr)" fill-opacity="0.35"/><rect x="487.9" y="157.1" width="13.8" height="1.0" fill="url(#gr)" fill-opacity="0.24"/><rect x="487.0" y="157.1" width="15.9" height="1.0" fill="url(#gr)" fill-opacity="0.22"/><rect x="484.7" y="158.1" width="16.9" height="1.0" fill="url(#gr)" fill-opacity="0.19"/><rect x="485.0" y="158.1" width="16.7" height="1.0" fill="url(#gr)" fill-opacity="0.22"/><rect x="485.2" y="159.1" width="16.4" height="1.0" fill="url(#gr)" fill-opacity="0.14"/><rect x="488.5" y="159.1" width="13.3" height="1.0" fill="url(#gr)" fill-opacity="0.15"/><rect x="488.1" y="160.1" width="17.1" height="1.0" fill="url(#gr)" fill-opacity="0.06"/><rect x="485.4" y="160.1" width="16.9" height="1.0" fill="url(#gr)" fill-opacity="0.05"/></g></g>
<clipPath id="c02"><rect x="206.0" y="215.0" width="64.60000000000002" height="65.0"/></clipPath>
<rect x="206.0" y="215.0" width="64.60000000000002" height="65.0" fill="#f8f4f3"/>
<g clip-path="url(#c02)"><g filter="url(#blr)"><rect x="245.4" y="236.0" width="12.9" height="1.0" fill="url(#gb)" fill-opacity="0.02"/><rect x="245.5" y="236.0" width="10.6" height="1.0" fill="url(#gb)" fill-opacity="0.02"/><rect x="243.9" y="237.0" width="11.3" height="1.0" fill="url(#gb)" fill-opacity="0.04"/><rect x="245.3" y="237.0" width="10.0" height="1.0" fill="url(#gb)" fill-opacity="0.03"/><rect x="244.4" y="238.0" width="10.8" height="1.0" fill="url(#gb)" fill-opacity="0.04"/><rect x="245.2" y="238.0" width="10.8" height="1.0" fill="url(#gb)" fill-opacity="0.05"/><rect x="242.9" y="239.0" width="11.3" height="1.0" fill="url(#gb)" fill-opacity="0.06"/><rect x="243.1" y="239.0" width="9.6" height="1.0" fill="url(#gb)" fill-opacity="0.06"/><rect x="241.7" y="240.0" width="12.2" height="1.0" fill="url(#gb)" fill-opacity="0.07"/><rect x="242.8" y="240.0" width="10.5" height="1.0" fill="url(#gb)" fill-opacity="0.05"/><rect x="240.9" y="241.0" width="11.9" height="1.0" fill="url(#gb)" fill-opacity="0.08"/><rect x="240.5" y="241.0" width="11.5" height="1.0" fill="url(#gb)" fill-opacity="0.06"/><rect x="239.2" y="242.0" width="12.4" height="1.0" fill="url(#gb)" fill-opacity="0.07"/><rect x="240.9" y="242.0" width="9.8" height="1.0" fill="url(#gb)" fill-opacity="0.06"/><rect x="237.6" y="243.0" width="14.2" height="1.0" fill="url(#gb)" fill-opacity="0.06"/><rect x="243.4" y="243.0" width="12.9" height="1.0" fill="url(#gb)" fill-opacity="0.08"/><rect x="238.7" y="244.0" width="12.7" height="1.0" fill="url(#gb)" fill-opacity="0.08"/><rect x="237.5" y="244.0" width="13.2" height="1.0" fill="url(#gb)" fill-opacity="0.06"/><rect x="235.9" y="245.0" width="11.4" height="1.0" fill="url(#gb)" fill-opacity="0.10"/><rect x="236.1" y="245.0" width="12.2" height="1.0" fill="url(#gb)" fill-opacity="0.07"/><rect x="236.1" y="246.0" width="11.6" height="1.0" fill="url(#gb)" fill-opacity="0.07"/><rect x="238.2" y="246.0" width="9.9" height="1.0" fill="url(#gb)" fill-opacity="0.08"/><rect x="236.5" y="247.0" width="13.3" height="1.0" fill="url(#gb)" fill-opacity="0.08"/><rect x="234.7" y="247.0" width="12.9" height="1.0" fill="url(#gb)" fill-opacity="0.08"/><rect x="235.5" y="248.0" width="11.4" height="1.0" fill="url(#gb)" fill-opacity="0.07"/><rect x="237.6" y="248.0" width="13.6" height="1.0" fill="url(#gb)" fill-opacity="0.07"/><rect x="235.4" y="249.0" width="9.7" height="1.0" fill="url(#gb)" fill-opacity="0.09"/><rect x="233.6" y="249.0" width="10.3" height="1.0" fill="url(#gb)" fill-opacity="0.09"/><rect x="234.4" y="250.0" width="10.5" height="1.0" fill="url(#gb)" fill-opacity="0.08"/><rect x="233.0" y="250.0" width="12.4" height="1.0" fill="url(#gb)" fill-opacity="0.09"/><rect x="231.5" y="251.0" width="9.9" height="1.0" fill="url(#gb)" fill-opacity="0.07"/><rect x="230.4" y="251.0" width="12.8" height="1.0" fill="url(#gb)" fill-opacity="0.06"/><rect x="229.5" y="252.0" width="13.7" height="1.0" fill="url(#gb)" fill-opacity="0.07"/><rect x="228.4" y="252.0" width="12.9" height="1.0" fill="url(#gb)" fill-opacity="0.09"/><rect x="230.3" y="253.0" width="12.0" height="1.0" fill="url(#gb)" fill-opacity="0.07"/><rect x="230.0" y="253.0" width="12.5" height="1.0" fill="url(#gb)" fill-opacity="0.06"/><rect x="229.8" y="254.0" width="11.7" height="1.0" fill="url(#gb)" fill-opacity="0.07"/><rect x="229.2" y="254.0" width="11.3" height="1.0" fill="url(#gb)" fill-opacity="0.06"/><rect x="225.2" y="255.0" width="9.6" height="1.0" fill="url(#gb)" fill-opacity="0.10"/><rect x="225.7" y="255.0" width="13.7" height="1.0" fill="url(#gb)" fill-opacity="0.08"/><rect x="226.5" y="256.0" width="12.6" height="1.0" fill="url(#gb)" fill-opacity="0.08"/><rect x="226.6" y="256.0" width="10.9" height="1.0" fill="url(#gb)" fill-opacity="0.08"/><rect x="225.4" y="257.0" width="11.8" height="1.0" fill="url(#gb)" fill-opacity="0.07"/><rect x="225.4" y="257.0" width="9.8" height="1.0" fill="url(#gb)" fill-opacity="0.07"/><rect x="224.1" y="258.0" width="13.0" height="1.0" fill="url(#gb)" fill-opacity="0.09"/><rect x="226.1" y="258.0" width="13.7" height="1.0" fill="url(#gb)" fill-opacity="0.07"/><rect x="224.2" y="259.0" width="9.8" height="1.0" fill="url(#gb)" fill-opacity="0.07"/><rect x="222.2" y="259.0" width="12.4" height="1.0" fill="url(#gb)" fill-opacity="0.07"/><rect x="221.4" y="260.0" width="9.6" height="1.0" fill="url(#gb)" fill-opacity="0.09"/><rect x="222.8" y="260.0" width="11.1" height="1.0" fill="url(#gb)" fill-opacity="0.09"/><rect x="216.6" y="261.0" width="14.2" height="1.0" fill="url(#gb)" fill-opacity="0.10"/><rect x="219.9" y="261.0" width="10.0" height="1.0" fill="url(#gb)" fill-opacity="0.08"/><rect x="221.8" y="262.0" width="10.0" height="1.0" fill="url(#gb)" fill-opacity="0.08"/><rect x="220.4" y="262.0" width="14.0" height="1.0" fill="url(#gb)" fill-opacity="0.11"/><rect x="218.4" y="263.0" width="11.3" height="1.0" fill="url(#gb)" fill-opacity="0.10"/><rect x="220.8" y="263.0" width="10.6" height="1.0" fill="url(#gb)" fill-opacity="0.08"/><rect x="217.1" y="264.0" width="9.6" height="1.0" fill="url(#gb)" fill-opacity="0.07"/><rect x="219.7" y="264.0" width="13.3" height="1.0" fill="url(#gb)" fill-opacity="0.07"/><rect x="218.0" y="265.0" width="9.8" height="1.0" fill="url(#gb)" fill-opacity="0.09"/><rect x="217.6" y="265.0" width="10.9" height="1.0" fill="url(#gb)" fill-opacity="0.11"/><rect x="219.7" y="266.0" width="13.7" height="1.0" fill="url(#gb)" fill-opacity="0.12"/><rect x="214.9" y="266.0" width="14.1" height="1.0" fill="url(#gb)" fill-opacity="0.08"/><rect x="214.9" y="267.0" width="11.1" height="1.0" fill="url(#gb)" fill-opacity="0.10"/><rect x="215.1" y="267.0" width="11.4" height="1.0" fill="url(#gb)" fill-opacity="0.08"/><rect x="213.5" y="268.0" width="11.6" height="1.0" fill="url(#gb)" fill-opacity="0.08"/><rect x="213.8" y="268.0" width="11.4" height="1.0" fill="url(#gb)" fill-opacity="0.08"/><rect x="214.0" y="269.0" width="12.6" height="1.0" fill="url(#gb)" fill-opacity="0.06"/><rect x="215.4" y="269.0" width="12.5" height="1.0" fill="url(#gb)" fill-opacity="0.06"/><rect x="212.7" y="270.0" width="13.0" height="1.0" fill="url(#gb)" fill-opacity="0.04"/><rect x="210.0" y="270.0" width="12.1" height="1.0" fill="url(#gb)" fill-opacity="0.05"/><rect x="208.9" y="271.0" width="11.0" height="1.0" fill="url(#gb)" fill-opacity="0.03"/><rect x="211.8" y="271.0" width="11.9" height="1.0" fill="url(#gb)" fill-opacity="0.02"/></g></g>
<clipPath id="c12"><rect x="276.6" y="215.0" width="65.79999999999995" height="65.0"/></clipPath>
<rect x="276.6" y="215.0" width="65.79999999999995" height="65.0" fill="#f8f4f3"/>
<g clip-path="url(#c12)"><g filter="url(#blr)"><rect x="323.1" y="239.0" width="17.9" height="1.0" fill="url(#gb)" fill-opacity="0.20"/><rect x="324.0" y="239.0" width="14.9" height="1.0" fill="url(#gb)" fill-opacity="0.18"/><rect x="321.2" y="240.0" width="13.3" height="1.0" fill="url(#gb)" fill-opacity="0.37"/><rect x="317.1" y="240.0" width="18.6" height="1.0" fill="url(#gb)" fill-opacity="0.40"/><rect x="319.2" y="241.0" width="18.4" height="1.0" fill="url(#gb)" fill-opacity="0.42"/><rect x="320.0" y="241.0" width="14.8" height="1.0" fill="url(#gb)" fill-opacity="0.53"/><rect x="316.7" y="242.0" width="16.2" height="1.0" fill="url(#gb)" fill-opacity="0.88"/><rect x="318.9" y="242.0" width="13.5" height="1.0" fill="url(#gb)" fill-opacity="0.69"/><rect x="312.3" y="243.0" width="16.6" height="1.0" fill="url(#gb)" fill-opacity="0.62"/><rect x="315.2" y="243.0" width="17.8" height="1.0" fill="url(#gb)" fill-opacity="0.53"/><rect x="313.4" y="244.0" width="17.3" height="1.0" fill="url(#gb)" fill-opacity="0.60"/><rect x="315.5" y="244.0" width="13.5" height="1.0" fill="url(#gb)" fill-opacity="0.80"/><rect x="313.6" y="245.0" width="14.2" height="1.0" fill="url(#gb)" fill-opacity="0.73"/><rect x="315.8" y="245.0" width="13.6" height="1.0" fill="url(#gb)" fill-opacity="0.59"/><rect x="309.0" y="246.0" width="17.4" height="1.0" fill="url(#gb)" fill-opacity="0.56"/><rect x="309.6" y="246.0" width="14.7" height="1.0" fill="url(#gb)" fill-opacity="0.55"/><rect x="310.5" y="247.0" width="13.0" height="1.0" fill="url(#gb)" fill-opacity="0.60"/><rect x="311.2" y="247.0" width="16.1" height="1.0" fill="url(#gb)" fill-opacity="0.59"/><rect x="309.0" y="248.0" width="18.2" height="1.0" fill="url(#gb)" fill-opacity="0.52"/><rect x="312.1" y="248.0" width="16.3" height="1.0" fill="url(#gb)" fill-opacity="0.43"/><rect x="306.4" y="249.0" width="16.2" height="1.0" fill="url(#gb)" fill-opacity="0.43"/><rect x="309.4" y="249.0" width="15.6" height="1.0" fill="url(#gb)" fill-opacity="0.36"/><rect x="308.0" y="250.0" width="12.5" height="1.0" fill="url(#gb)" fill-opacity="0.43"/><rect x="308.6" y="250.0" width="12.8" height="1.0" fill="url(#gb)" fill-opacity="0.36"/><rect x="307.5" y="251.0" width="15.4" height="1.0" fill="url(#gb)" fill-opacity="0.33"/><rect x="305.1" y="251.0" width="15.6" height="1.0" fill="url(#gb)" fill-opacity="0.33"/><rect x="304.2" y="252.0" width="16.6" height="1.0" fill="url(#gb)" fill-opacity="0.42"/><rect x="304.6" y="252.0" width="13.5" height="1.0" fill="url(#gb)" fill-opacity="0.32"/><rect x="301.7" y="253.0" width="17.7" height="1.0" fill="url(#gb)" fill-opacity="0.33"/><rect x="301.4" y="253.0" width="17.5" height="1.0" fill="url(#gb)" fill-opacity="0.40"/><rect x="303.8" y="254.0" width="12.8" height="1.0" fill="url(#gb)" fill-opacity="0.42"/><rect x="298.5" y="254.0" width="17.3" height="1.0" fill="url(#gb)" fill-opacity="0.43"/><rect x="302.5" y="255.0" width="16.2" height="1.0" fill="url(#gb)" fill-opacity="0.38"/><rect x="303.3" y="255.0" width="13.7" height="1.0" fill="url(#gb)" fill-opacity="0.30"/><rect x="299.6" y="256.0" width="18.7" height="1.0" fill="url(#gb)" fill-opacity="0.38"/><rect x="301.9" y="256.0" width="15.4" height="1.0" fill="url(#gb)" fill-opacity="0.36"/><rect x="298.5" y="257.0" width="16.0" height="1.0" fill="url(#gb)" fill-opacity="0.35"/><rect x="302.8" y="257.0" width="14.8" height="1.0" fill="url(#gb)" fill-opacity="0.41"/><rect x="296.1" y="258.0" width="17.9" height="1.0" fill="url(#gb)" fill-opacity="0.39"/><rect x="299.1" y="258.0" width="12.9" height="1.0" fill="url(#gb)" fill-opacity="0.36"/><rect x="297.6" y="259.0" width="17.2" height="1.0" fill="url(#gb)" fill-opacity="0.38"/><rect x="301.2" y="259.0" width="14.3" height="1.0" fill="url(#gb)" fill-opacity="0.39"/><rect x="298.7" y="260.0" width="14.6" height="1.0" fill="url(#gb)" fill-opacity="0.45"/><rect x="300.4" y="260.0" width="15.5" height="1.0" fill="url(#gb)" fill-opacity="0.41"/><rect x="295.4" y="261.0" width="17.5" height="1.0" fill="url(#gb)" fill-opacity="0.40"/><rect x="293.8" y="261.0" width="17.5" height="1.0" fill="url(#gb)" fill-opacity="0.49"/><rect x="299.7" y="262.0" width="17.7" height="1.0" fill="url(#gb)" fill-opacity="0.35"/><rect x="299.4" y="262.0" width="14.5" height="1.0" fill="url(#gb)" fill-opacity="0.40"/><rect x="297.0" y="263.0" width="13.6" height="1.0" fill="url(#gb)" fill-opacity="0.35"/><rect x="296.5" y="263.0" width="17.4" height="1.0" fill="url(#gb)" fill-opacity="0.49"/><rect x="295.5" y="264.0" width="16.1" height="1.0" fill="url(#gb)" fill-opacity="0.41"/><rect x="292.7" y="264.0" width="18.6" height="1.0" fill="url(#gb)" fill-opacity="0.49"/><rect x="294.7" y="265.0" width="15.8" height="1.0" fill="url(#gb)" fill-opacity="0.40"/><rect x="290.6" y="265.0" width="17.3" height="1.0" fill="url(#gb)" fill-opacity="0.42"/><rect x="292.6" y="266.0" width="16.0" height="1.0" fill="url(#gb)" fill-opacity="0.38"/><rect x="292.8" y="266.0" width="15.0" height="1.0" fill="url(#gb)" fill-opacity="0.34"/><rect x="287.5" y="267.0" width="18.7" height="1.0" fill="url(#gb)" fill-opacity="0.27"/><rect x="288.3" y="267.0" width="18.3" height="1.0" fill="url(#gb)" fill-opacity="0.34"/><rect x="290.9" y="268.0" width="13.4" height="1.0" fill="url(#gb)" fill-opacity="0.40"/><rect x="289.8" y="268.0" width="16.9" height="1.0" fill="url(#gb)" fill-opacity="0.37"/><rect x="291.3" y="269.0" width="17.6" height="1.0" fill="url(#gb)" fill-opacity="0.38"/><rect x="293.7" y="269.0" width="16.0" height="1.0" fill="url(#gb)" fill-opacity="0.40"/><rect x="292.3" y="270.0" width="13.7" height="1.0" fill="url(#gb)" fill-opacity="0.36"/><rect x="292.1" y="270.0" width="16.1" height="1.0" fill="url(#gb)" fill-opacity="0.41"/><rect x="289.6" y="271.0" width="12.8" height="1.0" fill="url(#gb)" fill-opacity="0.26"/><rect x="287.7" y="271.0" width="18.4" height="1.0" fill="url(#gb)" fill-opacity="0.23"/><rect x="284.4" y="272.0" width="18.4" height="1.0" fill="url(#gb)" fill-opacity="0.18"/><rect x="287.2" y="272.0" width="16.2" height="1.0" fill="url(#gb)" fill-opacity="0.22"/><rect x="285.9" y="273.0" width="17.2" height="1.0" fill="url(#gb)" fill-opacity="0.13"/><rect x="286.5" y="273.0" width="17.4" height="1.0" fill="url(#gb)" fill-opacity="0.15"/><rect x="282.5" y="274.0" width="15.7" height="1.0" fill="url(#gb)" fill-opacity="0.09"/><rect x="283.7" y="274.0" width="14.9" height="1.0" fill="url(#gb)" fill-opacity="0.06"/></g></g>
<clipPath id="c22"><rect x="379.4" y="215.0" width="65.0" height="65.0"/></clipPath>
<rect x="379.4" y="215.0" width="65.0" height="65.0" fill="#f8f4f3"/>
<g clip-path="url(#c22)"><g filter="url(#blr)"><rect x="414.5" y="233.2" width="18.9" height="1.0" fill="url(#gb)" fill-opacity="0.07"/><rect x="412.3" y="233.2" width="20.9" height="1.0" fill="url(#gb)" fill-opacity="0.10"/><rect x="411.4" y="234.2" width="17.7" height="1.0" fill="url(#gb)" fill-opacity="0.13"/><rect x="412.7" y="234.2" width="15.3" height="1.0" fill="url(#gb)" fill-opacity="0.14"/><rect x="405.0" y="235.2" width="17.6" height="1.0" fill="url(#gb)" fill-opacity="0.23"/><rect x="410.3" y="235.2" width="17.5" height="1.0" fill="url(#gb)" fill-opacity="0.23"/><rect x="413.8" y="236.2" width="19.9" height="1.0" fill="url(#gb)" fill-opacity="0.29"/><rect x="408.6" y="236.2" width="16.2" height="1.0" fill="url(#gb)" fill-opacity="0.24"/><rect x="405.3" y="237.2" width="19.9" height="1.0" fill="url(#gb)" fill-opacity="0.27"/><rect x="402.5" y="237.2" width="20.7" height="1.0" fill="url(#gb)" fill-opacity="0.32"/><rect x="404.9" y="238.2" width="20.9" height="1.0" fill="url(#gb)" fill-opacity="0.28"/><rect x="404.8" y="238.2" width="14.5" height="1.0" fill="url(#gb)" fill-opacity="0.31"/><rect x="404.7" y="239.2" width="20.7" height="1.0" fill="url(#gb)" fill-opacity="0.33"/><rect x="407.1" y="239.2" width="14.8" height="1.0" fill="url(#gb)" fill-opacity="0.27"/><rect x="402.7" y="240.2" width="17.9" height="1.0" fill="url(#gb)" fill-opacity="0.28"/><rect x="402.4" y="240.2" width="15.3" height="1.0" fill="url(#gb)" fill-opacity="0.31"/><rect x="404.1" y="241.2" width="15.5" height="1.0" fill="url(#gb)" fill-opacity="0.30"/><rect x="401.3" y="241.2" width="20.8" height="1.0" fill="url(#gb)" fill-opacity="0.37"/><rect x="400.0" y="242.2" width="20.0" height="1.0" fill="url(#gb)" fill-opacity="0.38"/><rect x="404.1" y="242.2" width="14.7" height="1.0" fill="url(#gb)" fill-opacity="0.43"/><rect x="400.4" y="243.2" width="16.1" height="1.0" fill="url(#gb)" fill-opacity="0.25"/><rect x="399.0" y="243.2" width="14.6" height="1.0" fill="url(#gb)" fill-opacity="0.31"/><rect x="395.2" y="244.2" width="20.7" height="1.0" fill="url(#gb)" fill-opacity="0.33"/><rect x="399.8" y="244.2" width="18.0" height="1.0" fill="url(#gb)" fill-opacity="0.38"/><rect x="401.4" y="245.2" width="15.7" height="1.0" fill="url(#gb)" fill-opacity="0.26"/><rect x="394.3" y="245.2" width="19.2" height="1.0" fill="url(#gb)" fill-opacity="0.35"/><rect x="398.8" y="246.2" width="17.0" height="1.0" fill="url(#gb)" fill-opacity="0.31"/><rect x="396.1" y="246.2" width="14.3" height="1.0" fill="url(#gb)" fill-opacity="0.44"/><rect x="395.0" y="247.2" width="18.2" height="1.0" fill="url(#gb)" fill-opacity="0.33"/><rect x="400.6" y="247.2" width="15.2" height="1.0" fill="url(#gb)" fill-opacity="0.39"/><rect x="390.1" y="248.2" width="18.3" height="1.0" fill="url(#gb)" fill-opacity="0.29"/><rect x="391.4" y="248.2" width="20.4" height="1.0" fill="url(#gb)" fill-opacity="0.28"/><rect x="393.8" y="249.2" width="15.2" height="1.0" fill="url(#gb)" fill-opacity="0.31"/><rect x="393.3" y="249.2" width="18.0" height="1.0" fill="url(#gb)" fill-opacity="0.28"/><rect x="395.3" y="250.2" width="18.8" height="1.0" fill="url(#gb)" fill-opacity="0.40"/><rect x="393.8" y="250.2" width="15.0" height="1.0" fill="url(#gb)" fill-opacity="0.32"/><rect x="391.5" y="251.2" width="14.1" height="1.0" fill="url(#gb)" fill-opacity="0.41"/><rect x="386.4" y="251.2" width="17.4" height="1.0" fill="url(#gb)" fill-opacity="0.43"/><rect x="392.6" y="252.2" width="19.2" height="1.0" fill="url(#gb)" fill-opacity="0.46"/><rect x="391.4" y="252.2" width="19.2" height="1.0" fill="url(#gb)" fill-opacity="0.43"/><rect x="387.6" y="253.2" width="20.3" height="1.0" fill="url(#gb)" fill-opacity="0.45"/><rect x="393.7" y="253.2" width="16.9" height="1.0" fill="url(#gb)" fill-opacity="0.43"/><rect x="388.4" y="254.2" width="18.1" height="1.0" fill="url(#gb)" fill-opacity="0.36"/><rect x="390.2" y="254.2" width="14.6" height="1.0" fill="url(#gb)" fill-opacity="0.37"/><rect x="388.4" y="255.2" width="19.1" height="1.0" fill="url(#gb)" fill-opacity="0.38"/><rect x="387.7" y="255.2" width="17.1" height="1.0" fill="url(#gb)" fill-opacity="0.42"/><rect x="390.1" y="256.2" width="17.4" height="1.0" fill="url(#gb)" fill-opacity="0.32"/><rect x="387.1" y="256.2" width="18.9" height="1.0" fill="url(#gb)" fill-opacity="0.35"/><rect x="387.9" y="257.2" width="16.1" height="1.0" fill="url(#gb)" fill-opacity="0.39"/><rect x="388.6" y="257.2" width="15.4" height="1.0" fill="url(#gb)" fill-opacity="0.32"/><rect x="383.3" y="258.2" width="16.3" height="1.0" fill="url(#gb)" fill-opacity="0.36"/><rect x="389.5" y="258.2" width="15.4" height="1.0" fill="url(#gb)" fill-opacity="0.33"/><rect x="387.1" y="259.2" width="18.1" height="1.0" fill="url(#gb)" fill-opacity="0.34"/><rect x="385.7" y="259.2" width="15.0" height="1.0" fill="url(#gb)" fill-opacity="0.36"/><rect x="384.6" y="260.2" width="15.9" height="1.0" fill="url(#gb)" fill-opacity="0.31"/><rect x="380.3" y="260.2" width="17.2" height="1.0" fill="url(#gb)" fill-opacity="0.32"/><rect x="382.2" y="261.2" width="16.2" height="1.0" fill="url(#gb)" fill-opacity="0.36"/><rect x="379.8" y="261.2" width="20.9" height="1.0" fill="url(#gb)" fill-opacity="0.31"/><rect x="381.9" y="262.2" width="19.0" height="1.0" fill="url(#gb)" fill-opacity="0.29"/><rect x="382.4" y="262.2" width="16.2" height="1.0" fill="url(#gb)" fill-opacity="0.32"/><rect x="379.4" y="263.2" width="19.8" height="1.0" fill="url(#gb)" fill-opacity="0.26"/><rect x="382.4" y="263.2" width="15.0" height="1.0" fill="url(#gb)" fill-opacity="0.24"/><rect x="377.7" y="264.2" width="19.7" height="1.0" fill="url(#gb)" fill-opacity="0.38"/><rect x="378.0" y="264.2" width="18.8" height="1.0" fill="url(#gb)" fill-opacity="0.28"/><rect x="381.2" y="265.2" width="19.0" height="1.0" fill="url(#gb)" fill-opacity="0.26"/><rect x="380.5" y="265.2" width="15.9" height="1.0" fill="url(#gb)" fill-opacity="0.28"/><rect x="376.5" y="266.2" width="16.8" height="1.0" fill="url(#gb)" fill-opacity="0.30"/><rect x="375.1" y="266.2" width="20.3" height="1.0" fill="url(#gb)" fill-opacity="0.23"/><rect x="379.2" y="267.2" width="18.4" height="1.0" fill="url(#gb)" fill-opacity="0.23"/><rect x="380.2" y="267.2" width="16.6" height="1.0" fill="url(#gb)" fill-opacity="0.21"/><rect x="378.6" y="268.2" width="18.6" height="1.0" fill="url(#gb)" fill-opacity="0.10"/><rect x="375.3" y="268.2" width="19.1" height="1.0" fill="url(#gb)" fill-opacity="0.13"/><rect x="375.2" y="269.2" width="20.9" height="1.0" fill="url(#gb)" fill-opacity="0.02"/><rect x="380.1" y="269.2" width="17.8" height="1.0" fill="url(#gb)" fill-opacity="0.02"/></g></g>
<clipPath id="c32"><rect x="450.5" y="215.0" width="65.20000000000005" height="65.0"/></clipPath>
<rect x="450.5" y="215.0" width="65.20000000000005" height="65.0" fill="#f8f4f3"/>
<g clip-path="url(#c32)"><g filter="url(#blr)"><rect x="492.5" y="236.7" width="15.1" height="1.0" fill="url(#gb)" fill-opacity="0.14"/><rect x="493.2" y="236.7" width="14.4" height="1.0" fill="url(#gb)" fill-opacity="0.14"/><rect x="485.2" y="237.7" width="19.9" height="1.0" fill="url(#gb)" fill-opacity="0.18"/><rect x="490.9" y="237.7" width="14.4" height="1.0" fill="url(#gb)" fill-opacity="0.26"/><rect x="493.0" y="238.7" width="14.8" height="1.0" fill="url(#gb)" fill-opacity="0.27"/><rect x="487.4" y="238.7" width="14.9" height="1.0" fill="url(#gb)" fill-opacity="0.25"/><rect x="486.1" y="239.7" width="15.2" height="1.0" fill="url(#gb)" fill-opacity="0.40"/><rect x="484.8" y="239.7" width="16.8" height="1.0" fill="url(#gb)" fill-opacity="0.34"/><rect x="482.3" y="240.7" width="19.1" height="1.0" fill="url(#gb)" fill-opacity="0.45"/><rect x="482.1" y="240.7" width="20.8" height="1.0" fill="url(#gb)" fill-opacity="0.41"/><rect x="481.7" y="241.7" width="14.8" height="1.0" fill="url(#gb)" fill-opacity="0.32"/><rect x="479.1" y="241.7" width="16.5" height="1.0" fill="url(#gb)" fill-opacity="0.36"/><rect x="485.2" y="242.7" width="17.0" height="1.0" fill="url(#gb)" fill-opacity="0.37"/><rect x="482.8" y="242.7" width="15.6" height="1.0" fill="url(#gb)" fill-opacity="0.35"/><rect x="482.6" y="243.7" width="15.2" height="1.0" fill="url(#gb)" fill-opacity="0.40"/><rect x="482.6" y="243.7" width="14.3" height="1.0" fill="url(#gb)" fill-opacity="0.34"/><rect x="481.4" y="244.7" width="15.5" height="1.0" fill="url(#gb)" fill-opacity="0.31"/><rect x="479.0" y="244.7" width="17.3" height="1.0" fill="url(#gb)" fill-opacity="0.41"/><rect x="480.2" y="245.7" width="16.5" height="1.0" fill="url(#gb)" fill-opacity="0.31"/><rect x="480.6" y="245.7" width="19.2" height="1.0" fill="url(#gb)" fill-opacity="0.41"/><rect x="476.6" y="246.7" width="15.7" height="1.0" fill="url(#gb)" fill-opacity="0.22"/><rect x="475.2" y="246.7" width="14.3" height="1.0" fill="url(#gb)" fill-opacity="0.29"/><rect x="476.1" y="247.7" width="16.3" height="1.0" fill="url(#gb)" fill-opacity="0.36"/><rect x="474.8" y="247.7" width="19.8" height="1.0" fill="url(#gb)" fill-opacity="0.34"/><rect x="471.5" y="248.7" width="15.8" height="1.0" fill="url(#gb)" fill-opacity="0.33"/><rect x="472.7" y="248.7" width="20.3" height="1.0" fill="url(#gb)" fill-opacity="0.24"/><rect x="471.9" y="249.7" width="17.6" height="1.0" fill="url(#gb)" fill-opacity="0.34"/><rect x="477.0" y="249.7" width="18.9" height="1.0" fill="url(#gb)" fill-opacity="0.28"/><rect x="471.9" y="250.7" width="14.9" height="1.0" fill="url(#gb)" fill-opacity="0.32"/><rect x="469.2" y="250.7" width="16.9" height="1.0" fill="url(#gb)" fill-opacity="0.25"/><rect x="467.0" y="251.7" width="20.4" height="1.0" fill="url(#gb)" fill-opacity="0.41"/><rect x="469.2" y="251.7" width="19.3" height="1.0" fill="url(#gb)" fill-opacity="0.34"/><rect x="471.8" y="252.7" width="16.4" height="1.0" fill="url(#gb)" fill-opacity="0.34"/><rect x="467.0" y="252.7" width="19.2" height="1.0" fill="url(#gb)" fill-opacity="0.37"/><rect x="470.4" y="253.7" width="20.3" height="1.0" fill="url(#gb)" fill-opacity="0.42"/><rect x="466.5" y="253.7" width="17.7" height="1.0" fill="url(#gb)" fill-opacity="0.40"/><rect x="465.8" y="254.7" width="20.5" height="1.0" fill="url(#gb)" fill-opacity="0.33"/><rect x="469.7" y="254.7" width="17.8" height="1.0" fill="url(#gb)" fill-opacity="0.32"/><rect x="467.3" y="255.7" width="15.7" height="1.0" fill="url(#gb)" fill-opacity="0.34"/><rect x="465.7" y="255.7" width="16.3" height="1.0" fill="url(#gb)" fill-opacity="0.38"/><rect x="464.1" y="256.7" width="19.3" height="1.0" fill="url(#gb)" fill-opacity="0.34"/><rect x="467.7" y="256.7" width="20.5" height="1.0" fill="url(#gb)" fill-opacity="0.30"/><rect x="463.3" y="257.7" width="18.7" height="1.0" fill="url(#gb)" fill-opacity="0.33"/><rect x="466.5" y="257.7" width="15.7" height="1.0" fill="url(#gb)" fill-opacity="0.33"/><rect x="465.5" y="258.7" width="15.4" height="1.0" fill="url(#gb)" fill-opacity="0.30"/><rect x="467.8" y="258.7" width="15.5" height="1.0" fill="url(#gb)" fill-opacity="0.36"/><rect x="464.7" y="259.7" width="18.2" height="1.0" fill="url(#gb)" fill-opacity="0.43"/><rect x="466.7" y="259.7" width="15.7" height="1.0" fill="url(#gb)" fill-opacity="0.37"/><rect x="462.8" y="260.7" width="19.3" height="1.0" fill="url(#gb)" fill-opacity="0.38"/><rect x="465.4" y="260.7" width="18.7" height="1.0" fill="url(#gb)" fill-opacity="0.42"/><rect x="460.9" y="261.7" width="19.1" height="1.0" fill="url(#gb)" fill-opacity="0.34"/><rect x="460.8" y="261.7" width="17.5" height="1.0" fill="url(#gb)" fill-opacity="0.34"/><rect x="461.7" y="262.7" width="15.8" height="1.0" fill="url(#gb)" fill-opacity="0.26"/><rect x="462.0" y="262.7" width="19.6" height="1.0" fill="url(#gb)" fill-opacity="0.29"/><rect x="455.8" y="263.7" width="20.3" height="1.0" fill="url(#gb)" fill-opacity="0.34"/><rect x="464.5" y="263.7" width="14.9" height="1.0" fill="url(#gb)" fill-opacity="0.38"/><rect x="459.4" y="264.7" width="18.3" height="1.0" fill="url(#gb)" fill-opacity="0.32"/><rect x="457.5" y="264.7" width="16.8" height="1.0" fill="url(#gb)" fill-opacity="0.34"/><rect x="459.1" y="265.7" width="15.4" height="1.0" fill="url(#gb)" fill-opacity="0.29"/><rect x="454.7" y="265.7" width="20.8" height="1.0" fill="url(#gb)" fill-opacity="0.33"/><rect x="459.2" y="266.7" width="16.5" height="1.0" fill="url(#gb)" fill-opacity="0.38"/><rect x="453.9" y="266.7" width="16.1" height="1.0" fill="url(#gb)" fill-opacity="0.30"/><rect x="458.9" y="267.7" width="14.2" height="1.0" fill="url(#gb)" fill-opacity="0.30"/><rect x="462.1" y="267.7" width="14.1" height="1.0" fill="url(#gb)" fill-opacity="0.29"/><rect x="454.7" y="268.7" width="15.3" height="1.0" fill="url(#gb)" fill-opacity="0.28"/><rect x="454.0" y="268.7" width="20.0" height="1.0" fill="url(#gb)" fill-opacity="0.32"/><rect x="450.4" y="269.7" width="17.7" height="1.0" fill="url(#gb)" fill-opacity="0.30"/><rect x="451.2" y="269.7" width="19.6" height="1.0" fill="url(#gb)" fill-opacity="0.28"/><rect x="451.5" y="270.7" width="16.9" height="1.0" fill="url(#gb)" fill-opacity="0.21"/><rect x="450.2" y="270.7" width="19.0" height="1.0" fill="url(#gb)" fill-opacity="0.19"/><rect x="452.3" y="271.7" width="20.7" height="1.0" fill="url(#gb)" fill-opacity="0.16"/><rect x="449.6" y="271.7" width="17.0" height="1.0" fill="url(#gb)" fill-opacity="0.14"/><rect x="452.4" y="272.7" width="14.4" height="1.0" fill="url(#gb)" fill-opacity="0.09"/><rect x="450.8" y="272.7" width="14.6" height="1.0" fill="url(#gb)" fill-opacity="0.08"/><rect x="450.3" y="273.7" width="18.3" height="1.0" fill="url(#gb)" fill-opacity="0.05"/><rect x="448.7" y="273.7" width="20.7" height="1.0" fill="url(#gb)" fill-opacity="0.04"/></g></g>
<clipPath id="c03"><rect x="206.0" y="286.0" width="64.60000000000002" height="65.19999999999999"/></clipPath>
<rect x="206.0" y="286.0" width="64.60000000000002" height="65.19999999999999" fill="#f8f4f3"/>
<g clip-path="url(#c03)"><g filter="url(#blr)"><rect x="246.6" y="310.2" width="14.9" height="1.0" fill="url(#gb)" fill-opacity="0.09"/><rect x="250.9" y="310.2" width="10.6" height="1.0" fill="url(#gb)" fill-opacity="0.08"/><rect x="246.2" y="311.2" width="14.8" height="1.0" fill="url(#gb)" fill-opacity="0.21"/><rect x="242.2" y="311.2" width="15.5" height="1.0" fill="url(#gb)" fill-opacity="0.21"/><rect x="242.1" y="312.2" width="13.5" height="1.0" fill="url(#gb)" fill-opacity="0.26"/><rect x="245.5" y="312.2" width="12.4" height="1.0" fill="url(#gb)" fill-opacity="0.26"/><rect x="243.5" y="313.2" width="15.7" height="1.0" fill="url(#gb)" fill-opacity="0.32"/><rect x="240.8" y="313.2" width="13.4" height="1.0" fill="url(#gb)" fill-opacity="0.32"/><rect x="241.4" y="314.2" width="11.6" height="1.0" fill="url(#gb)" fill-opacity="0.40"/><rect x="242.6" y="314.2" width="11.8" height="1.0" fill="url(#gb)" fill-opacity="0.39"/><rect x="242.6" y="315.2" width="11.7" height="1.0" fill="url(#gb)" fill-opacity="0.33"/><rect x="242.8" y="315.2" width="11.5" height="1.0" fill="url(#gb)" fill-opacity="0.35"/><rect x="239.1" y="316.2" width="14.3" height="1.0" fill="url(#gb)" fill-opacity="0.47"/><rect x="238.9" y="316.2" width="10.7" height="1.0" fill="url(#gb)" fill-opacity="0.34"/><rect x="237.3" y="317.2" width="12.7" height="1.0" fill="url(#gb)" fill-opacity="0.50"/><rect x="236.0" y="317.2" width="15.2" height="1.0" fill="url(#gb)" fill-opacity="0.49"/><rect x="234.7" y="318.2" width="11.2" height="1.0" fill="url(#gb)" fill-opacity="0.53"/><rect x="237.0" y="318.2" width="13.7" height="1.0" fill="url(#gb)" fill-opacity="0.49"/><rect x="232.8" y="319.2" width="12.4" height="1.0" fill="url(#gb)" fill-opacity="0.47"/><rect x="233.6" y="319.2" width="12.3" height="1.0" fill="url(#gb)" fill-opacity="0.39"/><rect x="234.9" y="320.2" width="10.9" height="1.0" fill="url(#gb)" fill-opacity="0.47"/><rect x="233.5" y="320.2" width="13.4" height="1.0" fill="url(#gb)" fill-opacity="0.45"/><rect x="232.4" y="321.2" width="10.5" height="1.0" fill="url(#gb)" fill-opacity="0.49"/><rect x="233.0" y="321.2" width="11.1" height="1.0" fill="url(#gb)" fill-opacity="0.38"/><rect x="232.5" y="322.2" width="12.4" height="1.0" fill="url(#gb)" fill-opacity="0.48"/><rect x="232.7" y="322.2" width="10.5" height="1.0" fill="url(#gb)" fill-opacity="0.39"/><rect x="227.7" y="323.2" width="14.0" height="1.0" fill="url(#gb)" fill-opacity="0.41"/><rect x="230.9" y="323.2" width="10.7" height="1.0" fill="url(#gb)" fill-opacity="0.45"/><rect x="228.6" y="324.2" width="15.0" height="1.0" fill="url(#gb)" fill-opacity="0.36"/><rect x="231.8" y="324.2" width="13.6" height="1.0" fill="url(#gb)" fill-opacity="0.38"/><rect x="229.3" y="325.2" width="10.7" height="1.0" fill="url(#gb)" fill-opacity="0.32"/><rect x="230.1" y="325.2" width="11.0" height="1.0" fill="url(#gb)" fill-opacity="0.37"/><rect x="227.5" y="326.2" width="13.0" height="1.0" fill="url(#gb)" fill-opacity="0.30"/><rect x="226.7" y="326.2" width="12.2" height="1.0" fill="url(#gb)" fill-opacity="0.27"/><rect x="225.8" y="327.2" width="14.8" height="1.0" fill="url(#gb)" fill-opacity="0.26"/><rect x="226.0" y="327.2" width="12.1" height="1.0" fill="url(#gb)" fill-opacity="0.28"/><rect x="222.5" y="328.2" width="15.1" height="1.0" fill="url(#gb)" fill-opacity="0.34"/><rect x="227.0" y="328.2" width="10.7" height="1.0" fill="url(#gb)" fill-opacity="0.29"/><rect x="222.2" y="329.2" width="13.4" height="1.0" fill="url(#gb)" fill-opacity="0.28"/><rect x="228.1" y="329.2" width="10.5" height="1.0" fill="url(#gb)" fill-opacity="0.30"/><rect x="222.9" y="330.2" width="12.3" height="1.0" fill="url(#gb)" fill-opacity="0.31"/><rect x="225.0" y="330.2" width="11.6" height="1.0" fill="url(#gb)" fill-opacity="0.30"/><rect x="219.4" y="331.2" width="12.8" height="1.0" fill="url(#gb)" fill-opacity="0.34"/><rect x="222.0" y="331.2" width="13.8" height="1.0" fill="url(#gb)" fill-opacity="0.38"/><rect x="222.6" y="332.2" width="14.8" height="1.0" fill="url(#gb)" fill-opacity="0.27"/><rect x="224.2" y="332.2" width="12.1" height="1.0" fill="url(#gb)" fill-opacity="0.31"/><rect x="220.0" y="333.2" width="14.3" height="1.0" fill="url(#gb)" fill-opacity="0.22"/><rect x="219.8" y="333.2" width="14.3" height="1.0" fill="url(#gb)" fill-opacity="0.30"/><rect x="217.5" y="334.2" width="14.9" height="1.0" fill="url(#gb)" fill-opacity="0.34"/><rect x="221.9" y="334.2" width="12.0" height="1.0" fill="url(#gb)" fill-opacity="0.35"/><rect x="220.3" y="335.2" width="11.9" height="1.0" fill="url(#gb)" fill-opacity="0.30"/><rect x="218.0" y="335.2" width="12.9" height="1.0" fill="url(#gb)" fill-opacity="0.22"/><rect x="215.6" y="336.2" width="11.8" height="1.0" fill="url(#gb)" fill-opacity="0.29"/><rect x="219.1" y="336.2" width="15.0" height="1.0" fill="url(#gb)" fill-opacity="0.25"/><rect x="216.2" y="337.2" width="12.9" height="1.0" fill="url(#gb)" fill-opacity="0.32"/><rect x="217.4" y="337.2" width="13.3" height="1.0" fill="url(#gb)" fill-opacity="0.24"/><rect x="217.3" y="338.2" width="10.7" height="1.0" fill="url(#gb)" fill-opacity="0.27"/><rect x="218.1" y="338.2" width="11.4" height="1.0" fill="url(#gb)" fill-opacity="0.20"/><rect x="216.0" y="339.2" width="13.2" height="1.0" fill="url(#gb)" fill-opacity="0.24"/><rect x="214.2" y="339.2" width="11.6" height="1.0" fill="url(#gb)" fill-opacity="0.23"/><rect x="213.4" y="340.2" width="15.0" height="1.0" fill="url(#gb)" fill-opacity="0.17"/><rect x="213.0" y="340.2" width="14.9" height="1.0" fill="url(#gb)" fill-opacity="0.17"/><rect x="213.5" y="341.2" width="13.1" height="1.0" fill="url(#gb)" fill-opacity="0.20"/><rect x="212.5" y="341.2" width="11.8" height="1.0" fill="url(#gb)" fill-opacity="0.20"/><rect x="212.5" y="342.2" width="11.7" height="1.0" fill="url(#gb)" fill-opacity="0.15"/><rect x="209.7" y="342.2" width="14.2" height="1.0" fill="url(#gb)" fill-opacity="0.18"/><rect x="214.2" y="343.2" width="15.4" height="1.0" fill="url(#gb)" fill-opacity="0.23"/><rect x="213.7" y="343.2" width="14.9" height="1.0" fill="url(#gb)" fill-opacity="0.22"/><rect x="211.5" y="344.2" width="11.2" height="1.0" fill="url(#gb)" fill-opacity="0.21"/><rect x="210.7" y="344.2" width="13.6" height="1.0" fill="url(#gb)" fill-opacity="0.16"/><rect x="207.1" y="345.2" width="15.1" height="1.0" fill="url(#gb)" fill-opacity="0.14"/><rect x="209.8" y="345.2" width="14.8" height="1.0" fill="url(#gb)" fill-opacity="0.15"/><rect x="210.4" y="346.2" width="15.5" height="1.0" fill="url(#gb)" fill-opacity="0.09"/><rect x="208.9" y="346.2" width="14.0" height="1.0" fill="url(#gb)" fill-opacity="0.11"/><rect x="211.4" y="347.2" width="12.7" height="1.0" fill="url(#gb)" fill-opacity="0.05"/><rect x="209.7" y="347.2" width="14.6" height="1.0" fill="url(#gb)" fill-opacity="0.05"/></g></g>
<clipPath id="c13"><rect x="276.6" y="286.0" width="65.79999999999995" height="65.19999999999999"/></clipPath>
<rect x="276.6" y="286.0" width="65.79999999999995" height="65.19999999999999" fill="#f8f4f3"/>
<g clip-path="url(#c13)"><g filter="url(#blr)"><rect x="322.7" y="314.5" width="18.1" height="1.0" fill="url(#gb)" fill-opacity="0.16"/><rect x="324.7" y="314.5" width="14.1" height="1.0" fill="url(#gb)" fill-opacity="0.19"/><rect x="320.2" y="315.5" width="13.5" height="1.0" fill="url(#gb)" fill-opacity="0.28"/><rect x="322.1" y="315.5" width="13.3" height="1.0" fill="url(#gb)" fill-opacity="0.25"/><rect x="319.7" y="316.5" width="18.7" height="1.0" fill="url(#gb)" fill-opacity="0.39"/><rect x="318.8" y="316.5" width="16.3" height="1.0" fill="url(#gb)" fill-opacity="0.46"/><rect x="317.5" y="317.5" width="13.6" height="1.0" fill="url(#gb)" fill-opacity="0.43"/><rect x="316.2" y="317.5" width="18.0" height="1.0" fill="url(#gb)" fill-opacity="0.51"/><rect x="317.1" y="318.5" width="15.6" height="1.0" fill="url(#gb)" fill-opacity="0.50"/><rect x="318.7" y="318.5" width="17.6" height="1.0" fill="url(#gb)" fill-opacity="0.49"/><rect x="314.8" y="319.5" width="15.8" height="1.0" fill="url(#gb)" fill-opacity="0.43"/><rect x="314.1" y="319.5" width="15.5" height="1.0" fill="url(#gb)" fill-opacity="0.55"/><rect x="311.5" y="320.5" width="16.2" height="1.0" fill="url(#gb)" fill-opacity="0.53"/><rect x="314.1" y="320.5" width="15.5" height="1.0" fill="url(#gb)" fill-opacity="0.57"/><rect x="313.4" y="321.5" width="16.9" height="1.0" fill="url(#gb)" fill-opacity="0.88"/><rect x="315.1" y="321.5" width="12.6" height="1.0" fill="url(#gb)" fill-opacity="0.93"/><rect x="309.3" y="322.5" width="18.4" height="1.0" fill="url(#gb)" fill-opacity="0.65"/><rect x="314.6" y="322.5" width="14.4" height="1.0" fill="url(#gb)" fill-opacity="0.63"/><rect x="311.7" y="323.5" width="12.7" height="1.0" fill="url(#gb)" fill-opacity="0.75"/><rect x="310.6" y="323.5" width="18.6" height="1.0" fill="url(#gb)" fill-opacity="0.84"/><rect x="309.1" y="324.5" width="12.7" height="1.0" fill="url(#gb)" fill-opacity="0.74"/><rect x="310.6" y="324.5" width="13.7" height="1.0" fill="url(#gb)" fill-opacity="0.77"/><rect x="307.0" y="325.5" width="18.2" height="1.0" fill="url(#gb)" fill-opacity="0.72"/><rect x="310.0" y="325.5" width="17.3" height="1.0" fill="url(#gb)" fill-opacity="0.75"/><rect x="309.4" y="326.5" width="15.7" height="1.0" fill="url(#gb)" fill-opacity="0.98"/><rect x="305.8" y="326.5" width="14.8" height="1.0" fill="url(#gb)" fill-opacity="0.82"/><rect x="304.9" y="327.5" width="18.2" height="1.0" fill="url(#gb)" fill-opacity="0.90"/><rect x="305.1" y="327.5" width="14.0" height="1.0" fill="url(#gb)" fill-opacity="1.00"/><rect x="304.8" y="328.5" width="13.8" height="1.0" fill="url(#gb)" fill-opacity="0.75"/><rect x="305.9" y="328.5" width="13.4" height="1.0" fill="url(#gb)" fill-opacity="0.63"/><rect x="301.2" y="329.5" width="14.1" height="1.0" fill="url(#gb)" fill-opacity="0.66"/><rect x="305.3" y="329.5" width="15.2" height="1.0" fill="url(#gb)" fill-opacity="0.59"/><rect x="300.9" y="330.5" width="16.7" height="1.0" fill="url(#gb)" fill-opacity="0.48"/><rect x="300.0" y="330.5" width="16.5" height="1.0" fill="url(#gb)" fill-opacity="0.57"/><rect x="300.9" y="331.5" width="12.8" height="1.0" fill="url(#gb)" fill-opacity="0.65"/><rect x="299.5" y="331.5" width="14.2" height="1.0" fill="url(#gb)" fill-opacity="0.67"/><rect x="302.1" y="332.5" width="18.3" height="1.0" fill="url(#gb)" fill-opacity="0.62"/><rect x="303.1" y="332.5" width="13.1" height="1.0" fill="url(#gb)" fill-opacity="0.70"/><rect x="300.2" y="333.5" width="18.3" height="1.0" fill="url(#gb)" fill-opacity="0.50"/><rect x="295.6" y="333.5" width="17.5" height="1.0" fill="url(#gb)" fill-opacity="0.56"/><rect x="297.6" y="334.5" width="15.3" height="1.0" fill="url(#gb)" fill-opacity="0.53"/><rect x="297.6" y="334.5" width="15.6" height="1.0" fill="url(#gb)" fill-opacity="0.48"/><rect x="296.5" y="335.5" width="16.5" height="1.0" fill="url(#gb)" fill-opacity="0.44"/><rect x="298.2" y="335.5" width="18.7" height="1.0" fill="url(#gb)" fill-opacity="0.50"/><rect x="300.5" y="336.5" width="15.0" height="1.0" fill="url(#gb)" fill-opacity="0.51"/><rect x="295.5" y="336.5" width="14.7" height="1.0" fill="url(#gb)" fill-opacity="0.62"/><rect x="297.3" y="337.5" width="16.9" height="1.0" fill="url(#gb)" fill-opacity="0.47"/><rect x="293.7" y="337.5" width="15.8" height="1.0" fill="url(#gb)" fill-opacity="0.45"/><rect x="296.0" y="338.5" width="16.1" height="1.0" fill="url(#gb)" fill-opacity="0.53"/><rect x="295.5" y="338.5" width="15.1" height="1.0" fill="url(#gb)" fill-opacity="0.51"/><rect x="293.6" y="339.5" width="17.9" height="1.0" fill="url(#gb)" fill-opacity="0.39"/><rect x="295.4" y="339.5" width="14.9" height="1.0" fill="url(#gb)" fill-opacity="0.40"/><rect x="291.6" y="340.5" width="17.9" height="1.0" fill="url(#gb)" fill-opacity="0.33"/><rect x="295.4" y="340.5" width="13.1" height="1.0" fill="url(#gb)" fill-opacity="0.42"/><rect x="291.0" y="341.5" width="16.6" height="1.0" fill="url(#gb)" fill-opacity="0.38"/><rect x="290.5" y="341.5" width="15.1" height="1.0" fill="url(#gb)" fill-opacity="0.31"/><rect x="292.5" y="342.5" width="14.8" height="1.0" fill="url(#gb)" fill-opacity="0.46"/><rect x="291.7" y="342.5" width="14.9" height="1.0" fill="url(#gb)" fill-opacity="0.44"/><rect x="289.2" y="343.5" width="17.7" height="1.0" fill="url(#gb)" fill-opacity="0.42"/><rect x="294.3" y="343.5" width="13.6" height="1.0" fill="url(#gb)" fill-opacity="0.48"/><rect x="289.6" y="344.5" width="15.8" height="1.0" fill="url(#gb)" fill-opacity="0.43"/><rect x="294.3" y="344.5" width="15.8" height="1.0" fill="url(#gb)" fill-opacity="0.53"/><rect x="288.1" y="345.5" width="13.6" height="1.0" fill="url(#gb)" fill-opacity="0.55"/><rect x="295.3" y="345.5" width="12.6" height="1.0" fill="url(#gb)" fill-opacity="0.49"/><rect x="286.2" y="346.5" width="14.4" height="1.0" fill="url(#gb)" fill-opacity="0.41"/><rect x="287.0" y="346.5" width="15.5" height="1.0" fill="url(#gb)" fill-opacity="0.45"/><rect x="290.9" y="347.5" width="14.7" height="1.0" fill="url(#gb)" fill-opacity="0.53"/><rect x="285.5" y="347.5" width="18.7" height="1.0" fill="url(#gb)" fill-opacity="0.46"/><rect x="289.7" y="348.5" width="13.7" height="1.0" fill="url(#gb)" fill-opacity="0.51"/><rect x="288.4" y="348.5" width="13.2" height="1.0" fill="url(#gb)" fill-opacity="0.53"/><rect x="286.0" y="349.5" width="17.3" height="1.0" fill="url(#gb)" fill-opacity="0.45"/><rect x="286.3" y="349.5" width="17.3" height="1.0" fill="url(#gb)" fill-opacity="0.51"/><rect x="287.1" y="350.5" width="16.2" height="1.0" fill="url(#gb)" fill-opacity="0.46"/><rect x="285.4" y="350.5" width="15.9" height="1.0" fill="url(#gb)" fill-opacity="0.57"/><rect x="289.1" y="351.5" width="16.4" height="1.0" fill="url(#gb)" fill-opacity="0.52"/><rect x="291.0" y="351.5" width="13.0" height="1.0" fill="url(#gb)" fill-opacity="0.50"/></g></g>
<clipPath id="c23"><rect x="379.4" y="286.0" width="65.0" height="65.19999999999999"/></clipPath>
<rect x="379.4" y="286.0" width="65.0" height="65.19999999999999" fill="#f8f4f3"/>
<g clip-path="url(#c23)"><g filter="url(#blr)"><rect x="418.6" y="302.7" width="15.8" height="1.0" fill="url(#gb)" fill-opacity="0.05"/><rect x="415.3" y="302.7" width="20.0" height="1.0" fill="url(#gb)" fill-opacity="0.07"/><rect x="421.2" y="303.7" width="15.6" height="1.0" fill="url(#gb)" fill-opacity="0.10"/><rect x="417.1" y="303.7" width="16.9" height="1.0" fill="url(#gb)" fill-opacity="0.09"/><rect x="411.6" y="304.7" width="18.5" height="1.0" fill="url(#gb)" fill-opacity="0.16"/><rect x="413.2" y="304.7" width="20.0" height="1.0" fill="url(#gb)" fill-opacity="0.19"/><rect x="417.6" y="305.7" width="15.2" height="1.0" fill="url(#gb)" fill-opacity="0.31"/><rect x="414.8" y="305.7" width="18.8" height="1.0" fill="url(#gb)" fill-opacity="0.29"/><rect x="416.1" y="306.7" width="14.8" height="1.0" fill="url(#gb)" fill-opacity="0.23"/><rect x="413.5" y="306.7" width="17.3" height="1.0" fill="url(#gb)" fill-opacity="0.32"/><rect x="410.5" y="307.7" width="20.6" height="1.0" fill="url(#gb)" fill-opacity="0.27"/><rect x="414.3" y="307.7" width="15.6" height="1.0" fill="url(#gb)" fill-opacity="0.27"/><rect x="414.6" y="308.7" width="17.1" height="1.0" fill="url(#gb)" fill-opacity="0.24"/><rect x="410.3" y="308.7" width="20.4" height="1.0" fill="url(#gb)" fill-opacity="0.33"/><rect x="408.0" y="309.7" width="19.9" height="1.0" fill="url(#gb)" fill-opacity="0.33"/><rect x="410.5" y="309.7" width="19.2" height="1.0" fill="url(#gb)" fill-opacity="0.25"/><rect x="410.7" y="310.7" width="17.5" height="1.0" fill="url(#gb)" fill-opacity="0.33"/><rect x="407.5" y="310.7" width="20.8" height="1.0" fill="url(#gb)" fill-opacity="0.27"/><rect x="405.5" y="311.7" width="19.4" height="1.0" fill="url(#gb)" fill-opacity="0.33"/><rect x="406.9" y="311.7" width="18.8" height="1.0" fill="url(#gb)" fill-opacity="0.29"/><rect x="406.5" y="312.7" width="16.7" height="1.0" fill="url(#gb)" fill-opacity="0.23"/><rect x="409.8" y="312.7" width="18.3" height="1.0" fill="url(#gb)" fill-opacity="0.27"/><rect x="407.9" y="313.7" width="20.3" height="1.0" fill="url(#gb)" fill-opacity="0.30"/><rect x="405.9" y="313.7" width="14.1" height="1.0" fill="url(#gb)" fill-opacity="0.28"/><rect x="406.1" y="314.7" width="15.7" height="1.0" fill="url(#gb)" fill-opacity="0.32"/><rect x="406.8" y="314.7" width="16.3" height="1.0" fill="url(#gb)" fill-opacity="0.31"/><rect x="404.2" y="315.7" width="18.9" height="1.0" fill="url(#gb)" fill-opacity="0.25"/><rect x="410.2" y="315.7" width="14.4" height="1.0" fill="url(#gb)" fill-opacity="0.23"/><rect x="408.4" y="316.7" width="18.0" height="1.0" fill="url(#gb)" fill-opacity="0.28"/><rect x="406.7" y="316.7" width="20.3" height="1.0" fill="url(#gb)" fill-opacity="0.25"/><rect x="403.3" y="317.7" width="17.4" height="1.0" fill="url(#gb)" fill-opacity="0.32"/><rect x="401.2" y="317.7" width="16.8" height="1.0" fill="url(#gb)" fill-opacity="0.31"/><rect x="403.1" y="318.7" width="19.9" height="1.0" fill="url(#gb)" fill-opacity="0.33"/><rect x="404.8" y="318.7" width="18.1" height="1.0" fill="url(#gb)" fill-opacity="0.32"/><rect x="403.1" y="319.7" width="17.6" height="1.0" fill="url(#gb)" fill-opacity="0.24"/><rect x="405.5" y="319.7" width="17.7" height="1.0" fill="url(#gb)" fill-opacity="0.28"/><rect x="400.2" y="320.7" width="20.1" height="1.0" fill="url(#gb)" fill-opacity="0.37"/><rect x="398.7" y="320.7" width="18.6" height="1.0" fill="url(#gb)" fill-opacity="0.30"/><rect x="400.9" y="321.7" width="14.4" height="1.0" fill="url(#gb)" fill-opacity="0.31"/><rect x="407.4" y="321.7" width="18.9" height="1.0" fill="url(#gb)" fill-opacity="0.29"/><rect x="399.2" y="322.7" width="19.6" height="1.0" fill="url(#gb)" fill-opacity="0.33"/><rect x="402.3" y="322.7" width="17.7" height="1.0" fill="url(#gb)" fill-opacity="0.35"/><rect x="399.5" y="323.7" width="16.9" height="1.0" fill="url(#gb)" fill-opacity="0.25"/><rect x="396.9" y="323.7" width="20.1" height="1.0" fill="url(#gb)" fill-opacity="0.25"/><rect x="396.2" y="324.7" width="17.3" height="1.0" fill="url(#gb)" fill-opacity="0.29"/><rect x="399.0" y="324.7" width="17.0" height="1.0" fill="url(#gb)" fill-opacity="0.27"/><rect x="400.0" y="325.7" width="14.2" height="1.0" fill="url(#gb)" fill-opacity="0.29"/><rect x="401.9" y="325.7" width="20.3" height="1.0" fill="url(#gb)" fill-opacity="0.27"/><rect x="396.8" y="326.7" width="14.2" height="1.0" fill="url(#gb)" fill-opacity="0.30"/><rect x="395.6" y="326.7" width="17.2" height="1.0" fill="url(#gb)" fill-opacity="0.34"/><rect x="392.3" y="327.7" width="19.3" height="1.0" fill="url(#gb)" fill-opacity="0.25"/><rect x="395.8" y="327.7" width="20.7" height="1.0" fill="url(#gb)" fill-opacity="0.28"/><rect x="393.7" y="328.7" width="15.5" height="1.0" fill="url(#gb)" fill-opacity="0.26"/><rect x="393.0" y="328.7" width="19.3" height="1.0" fill="url(#gb)" fill-opacity="0.29"/><rect x="392.5" y="329.7" width="20.0" height="1.0" fill="url(#gb)" fill-opacity="0.26"/><rect x="393.9" y="329.7" width="15.2" height="1.0" fill="url(#gb)" fill-opacity="0.31"/><rect x="397.2" y="330.7" width="15.9" height="1.0" fill="url(#gb)" fill-opacity="0.23"/><rect x="390.4" y="330.7" width="20.5" height="1.0" fill="url(#gb)" fill-opacity="0.19"/><rect x="394.0" y="331.7" width="21.0" height="1.0" fill="url(#gb)" fill-opacity="0.24"/><rect x="395.8" y="331.7" width="19.5" height="1.0" fill="url(#gb)" fill-opacity="0.22"/><rect x="392.8" y="332.7" width="17.3" height="1.0" fill="url(#gb)" fill-opacity="0.26"/><rect x="388.7" y="332.7" width="16.8" height="1.0" fill="url(#gb)" fill-opacity="0.28"/><rect x="388.6" y="333.7" width="20.9" height="1.0" fill="url(#gb)" fill-opacity="0.24"/><rect x="392.4" y="333.7" width="18.7" height="1.0" fill="url(#gb)" fill-opacity="0.21"/><rect x="387.8" y="334.7" width="18.6" height="1.0" fill="url(#gb)" fill-opacity="0.18"/><rect x="387.1" y="334.7" width="18.8" height="1.0" fill="url(#gb)" fill-opacity="0.23"/><rect x="389.4" y="335.7" width="15.3" height="1.0" fill="url(#gb)" fill-opacity="0.19"/><rect x="389.7" y="335.7" width="19.6" height="1.0" fill="url(#gb)" fill-opacity="0.25"/><rect x="384.3" y="336.7" width="17.9" height="1.0" fill="url(#gb)" fill-opacity="0.22"/><rect x="382.0" y="336.7" width="19.4" height="1.0" fill="url(#gb)" fill-opacity="0.25"/><rect x="386.5" y="337.7" width="19.4" height="1.0" fill="url(#gb)" fill-opacity="0.20"/><rect x="387.2" y="337.7" width="16.5" height="1.0" fill="url(#gb)" fill-opacity="0.21"/><rect x="384.9" y="338.7" width="16.5" height="1.0" fill="url(#gb)" fill-opacity="0.23"/><rect x="383.6" y="338.7" width="20.5" height="1.0" fill="url(#gb)" fill-opacity="0.20"/><rect x="386.9" y="339.7" width="18.5" height="1.0" fill="url(#gb)" fill-opacity="0.21"/><rect x="383.2" y="339.7" width="14.5" height="1.0" fill="url(#gb)" fill-opacity="0.26"/><rect x="384.0" y="340.7" width="16.7" height="1.0" fill="url(#gb)" fill-opacity="0.19"/><rect x="382.6" y="340.7" width="19.6" height="1.0" fill="url(#gb)" fill-opacity="0.17"/><rect x="384.4" y="341.7" width="15.0" height="1.0" fill="url(#gb)" fill-opacity="0.17"/><rect x="380.4" y="341.7" width="20.7" height="1.0" fill="url(#gb)" fill-opacity="0.21"/><rect x="381.6" y="342.7" width="18.1" height="1.0" fill="url(#gb)" fill-opacity="0.15"/><rect x="383.2" y="342.7" width="17.4" height="1.0" fill="url(#gb)" fill-opacity="0.14"/><rect x="379.8" y="343.7" width="19.0" height="1.0" fill="url(#gb)" fill-opacity="0.12"/><rect x="381.1" y="343.7" width="20.8" height="1.0" fill="url(#gb)" fill-opacity="0.12"/><rect x="379.0" y="344.7" width="19.6" height="1.0" fill="url(#gb)" fill-opacity="0.06"/><rect x="379.7" y="344.7" width="20.5" height="1.0" fill="url(#gb)" fill-opacity="0.07"/><rect x="381.0" y="345.7" width="14.8" height="1.0" fill="url(#gb)" fill-opacity="0.02"/><rect x="376.9" y="345.7" width="15.1" height="1.0" fill="url(#gb)" fill-opacity="0.02"/></g></g>
<clipPath id="c33"><rect x="450.5" y="286.0" width="65.20000000000005" height="65.19999999999999"/></clipPath>
<rect x="450.5" y="286.0" width="65.20000000000005" height="65.19999999999999" fill="#f8f4f3"/>
<g clip-path="url(#c33)"><g filter="url(#blr)"><rect x="495.4" y="308.6" width="15.3" height="1.0" fill="url(#gb)" fill-opacity="0.03"/><rect x="495.5" y="308.6" width="12.4" height="1.0" fill="url(#gb)" fill-opacity="0.02"/><rect x="497.3" y="309.6" width="14.4" height="1.0" fill="url(#gb)" fill-opacity="0.04"/><rect x="497.0" y="309.6" width="12.2" height="1.0" fill="url(#gb)" fill-opacity="0.04"/><rect x="492.5" y="310.6" width="14.5" height="1.0" fill="url(#gb)" fill-opacity="0.07"/><rect x="495.9" y="310.6" width="12.6" height="1.0" fill="url(#gb)" fill-opacity="0.05"/><rect x="495.2" y="311.6" width="12.3" height="1.0" fill="url(#gb)" fill-opacity="0.07"/><rect x="492.6" y="311.6" width="12.7" height="1.0" fill="url(#gb)" fill-opacity="0.08"/><rect x="490.5" y="312.6" width="15.6" height="1.0" fill="url(#gb)" fill-opacity="0.09"/><rect x="490.0" y="312.6" width="16.1" height="1.0" fill="url(#gb)" fill-opacity="0.09"/><rect x="491.4" y="313.6" width="11.1" height="1.0" fill="url(#gb)" fill-opacity="0.07"/><rect x="491.0" y="313.6" width="12.3" height="1.0" fill="url(#gb)" fill-opacity="0.08"/><rect x="489.5" y="314.6" width="12.8" height="1.0" fill="url(#gb)" fill-opacity="0.09"/><rect x="487.2" y="314.6" width="16.2" height="1.0" fill="url(#gb)" fill-opacity="0.10"/><rect x="490.6" y="315.6" width="11.5" height="1.0" fill="url(#gb)" fill-opacity="0.08"/><rect x="491.5" y="315.6" width="11.1" height="1.0" fill="url(#gb)" fill-opacity="0.10"/><rect x="486.7" y="316.6" width="15.2" height="1.0" fill="url(#gb)" fill-opacity="0.07"/><rect x="484.9" y="316.6" width="14.5" height="1.0" fill="url(#gb)" fill-opacity="0.07"/><rect x="484.3" y="317.6" width="11.6" height="1.0" fill="url(#gb)" fill-opacity="0.06"/><rect x="486.5" y="317.6" width="13.1" height="1.0" fill="url(#gb)" fill-opacity="0.06"/><rect x="487.2" y="318.6" width="11.2" height="1.0" fill="url(#gb)" fill-opacity="0.08"/><rect x="486.0" y="318.6" width="14.7" height="1.0" fill="url(#gb)" fill-opacity="0.10"/><rect x="486.9" y="319.6" width="11.6" height="1.0" fill="url(#gb)" fill-opacity="0.07"/><rect x="487.4" y="319.6" width="13.4" height="1.0" fill="url(#gb)" fill-opacity="0.09"/><rect x="486.2" y="320.6" width="12.2" height="1.0" fill="url(#gb)" fill-opacity="0.08"/><rect x="482.5" y="320.6" width="14.7" height="1.0" fill="url(#gb)" fill-opacity="0.10"/><rect x="484.5" y="321.6" width="12.7" height="1.0" fill="url(#gb)" fill-opacity="0.07"/><rect x="485.4" y="321.6" width="11.7" height="1.0" fill="url(#gb)" fill-opacity="0.07"/><rect x="481.5" y="322.6" width="13.6" height="1.0" fill="url(#gb)" fill-opacity="0.08"/><rect x="483.5" y="322.6" width="13.8" height="1.0" fill="url(#gb)" fill-opacity="0.08"/><rect x="480.3" y="323.6" width="12.7" height="1.0" fill="url(#gb)" fill-opacity="0.09"/><rect x="477.9" y="323.6" width="15.4" height="1.0" fill="url(#gb)" fill-opacity="0.10"/><rect x="481.5" y="324.6" width="13.2" height="1.0" fill="url(#gb)" fill-opacity="0.08"/><rect x="483.0" y="324.6" width="12.2" height="1.0" fill="url(#gb)" fill-opacity="0.08"/><rect x="480.0" y="325.6" width="14.4" height="1.0" fill="url(#gb)" fill-opacity="0.07"/><rect x="480.6" y="325.6" width="16.0" height="1.0" fill="url(#gb)" fill-opacity="0.07"/><rect x="482.1" y="326.6" width="12.2" height="1.0" fill="url(#gb)" fill-opacity="0.08"/><rect x="477.2" y="326.6" width="15.6" height="1.0" fill="url(#gb)" fill-opacity="0.09"/><rect x="477.7" y="327.6" width="13.8" height="1.0" fill="url(#gb)" fill-opacity="0.09"/><rect x="473.4" y="327.6" width="15.4" height="1.0" fill="url(#gb)" fill-opacity="0.09"/><rect x="474.0" y="328.6" width="15.1" height="1.0" fill="url(#gb)" fill-opacity="0.10"/><rect x="479.4" y="328.6" width="11.6" height="1.0" fill="url(#gb)" fill-opacity="0.07"/><rect x="478.1" y="329.6" width="16.2" height="1.0" fill="url(#gb)" fill-opacity="0.08"/><rect x="477.1" y="329.6" width="12.0" height="1.0" fill="url(#gb)" fill-opacity="0.10"/><rect x="477.0" y="330.6" width="12.1" height="1.0" fill="url(#gb)" fill-opacity="0.08"/><rect x="475.5" y="330.6" width="12.0" height="1.0" fill="url(#gb)" fill-opacity="0.07"/><rect x="473.6" y="331.6" width="15.3" height="1.0" fill="url(#gb)" fill-opacity="0.09"/><rect x="475.1" y="331.6" width="13.3" height="1.0" fill="url(#gb)" fill-opacity="0.09"/><rect x="471.5" y="332.6" width="13.1" height="1.0" fill="url(#gb)" fill-opacity="0.09"/><rect x="471.6" y="332.6" width="15.1" height="1.0" fill="url(#gb)" fill-opacity="0.09"/><rect x="474.4" y="333.6" width="13.3" height="1.0" fill="url(#gb)" fill-opacity="0.09"/><rect x="472.3" y="333.6" width="14.3" height="1.0" fill="url(#gb)" fill-opacity="0.08"/><rect x="476.2" y="334.6" width="12.9" height="1.0" fill="url(#gb)" fill-opacity="0.10"/><rect x="472.4" y="334.6" width="13.3" height="1.0" fill="url(#gb)" fill-opacity="0.11"/><rect x="469.4" y="335.6" width="15.7" height="1.0" fill="url(#gb)" fill-opacity="0.08"/><rect x="468.0" y="335.6" width="16.1" height="1.0" fill="url(#gb)" fill-opacity="0.07"/><rect x="469.5" y="336.6" width="14.2" height="1.0" fill="url(#gb)" fill-opacity="0.09"/><rect x="466.9" y="336.6" width="16.3" height="1.0" fill="url(#gb)" fill-opacity="0.08"/><rect x="469.2" y="337.6" width="14.0" height="1.0" fill="url(#gb)" fill-opacity="0.10"/><rect x="467.0" y="337.6" width="12.7" height="1.0" fill="url(#gb)" fill-opacity="0.09"/><rect x="467.8" y="338.6" width="12.6" height="1.0" fill="url(#gb)" fill-opacity="0.09"/><rect x="467.8" y="338.6" width="13.2" height="1.0" fill="url(#gb)" fill-opacity="0.07"/><rect x="464.6" y="339.6" width="12.7" height="1.0" fill="url(#gb)" fill-opacity="0.12"/><rect x="464.3" y="339.6" width="13.4" height="1.0" fill="url(#gb)" fill-opacity="0.11"/><rect x="464.3" y="340.6" width="12.7" height="1.0" fill="url(#gb)" fill-opacity="0.10"/><rect x="460.7" y="340.6" width="16.2" height="1.0" fill="url(#gb)" fill-opacity="0.11"/><rect x="461.3" y="341.6" width="16.2" height="1.0" fill="url(#gb)" fill-opacity="0.08"/><rect x="459.3" y="341.6" width="15.6" height="1.0" fill="url(#gb)" fill-opacity="0.07"/><rect x="463.7" y="342.6" width="11.5" height="1.0" fill="url(#gb)" fill-opacity="0.08"/><rect x="460.3" y="342.6" width="16.3" height="1.0" fill="url(#gb)" fill-opacity="0.10"/><rect x="459.5" y="343.6" width="15.6" height="1.0" fill="url(#gb)" fill-opacity="0.10"/><rect x="456.5" y="343.6" width="15.6" height="1.0" fill="url(#gb)" fill-opacity="0.09"/><rect x="455.9" y="344.6" width="15.1" height="1.0" fill="url(#gb)" fill-opacity="0.05"/><rect x="459.3" y="344.6" width="12.1" height="1.0" fill="url(#gb)" fill-opacity="0.07"/><rect x="457.4" y="345.6" width="11.5" height="1.0" fill="url(#gb)" fill-opacity="0.05"/><rect x="456.6" y="345.6" width="12.5" height="1.0" fill="url(#gb)" fill-opacity="0.04"/><rect x="456.7" y="346.6" width="12.4" height="1.0" fill="url(#gb)" fill-opacity="0.03"/><rect x="456.5" y="346.6" width="11.6" height="1.0" fill="url(#gb)" fill-opacity="0.03"/></g></g>
<circle cx="239.0" cy="131.0" r="26.7" fill="none" stroke="#222" stroke-width="1.1" stroke-dasharray="2.6 1.6"/>
<circle cx="480.9" cy="63.3" r="26.5" fill="none" stroke="#222" stroke-width="1.1" stroke-dasharray="2.6 1.6"/>
<circle cx="236.9" cy="248.3" r="26.6" fill="none" stroke="#222" stroke-width="1.1" stroke-dasharray="2.6 1.6"/>
<circle cx="485.8" cy="323.4" r="26.8" fill="none" stroke="#222" stroke-width="1.1" stroke-dasharray="2.6 1.6"/>
<line x1="205.2" y1="26.6" x2="271.1" y2="26.6" stroke="#4a4a4a" stroke-width="1.3"/>
<line x1="275.8" y1="26.6" x2="342.9" y2="26.6" stroke="#4a4a4a" stroke-width="1.3"/>
<line x1="378.59999999999997" y1="26.6" x2="444.9" y2="26.6" stroke="#4a4a4a" stroke-width="1.3"/>
<line x1="449.7" y1="26.6" x2="516.2" y2="26.6" stroke="#4a4a4a" stroke-width="1.3"/>
<line x1="205.2" y1="215.0" x2="271.1" y2="215.0" stroke="#4a4a4a" stroke-width="1.3"/>
<line x1="275.8" y1="215.0" x2="342.9" y2="215.0" stroke="#4a4a4a" stroke-width="1.3"/>
<line x1="378.59999999999997" y1="215.0" x2="444.9" y2="215.0" stroke="#4a4a4a" stroke-width="1.3"/>
<line x1="449.7" y1="215.0" x2="516.2" y2="215.0" stroke="#4a4a4a" stroke-width="1.3"/>
<line x1="342.4" y1="26.6" x2="342.4" y2="91.0" stroke="#4a4a4a" stroke-width="1.3"/>
<line x1="342.4" y1="97.3" x2="342.4" y2="162.6" stroke="#4a4a4a" stroke-width="1.3"/>
<line x1="342.4" y1="215.0" x2="342.4" y2="280.0" stroke="#4a4a4a" stroke-width="1.3"/>
<line x1="342.4" y1="286.0" x2="342.4" y2="351.2" stroke="#4a4a4a" stroke-width="1.3"/>
<line x1="515.7" y1="26.6" x2="515.7" y2="91.0" stroke="#4a4a4a" stroke-width="1.3"/>
<line x1="515.7" y1="97.3" x2="515.7" y2="162.6" stroke="#4a4a4a" stroke-width="1.3"/>
<line x1="515.7" y1="215.0" x2="515.7" y2="280.0" stroke="#4a4a4a" stroke-width="1.3"/>
<line x1="515.7" y1="286.0" x2="515.7" y2="351.2" stroke="#4a4a4a" stroke-width="1.3"/>
<line x1="205.5" y1="26.6" x2="205.5" y2="91.0" stroke="#4a4a4a" stroke-width="1.3"/>
<line x1="202.7" y1="30.0" x2="205.5" y2="30.0" stroke="#2a2a2a" stroke-width="1.0"/>
<line x1="202.7" y1="41.65" x2="205.5" y2="41.65" stroke="#2a2a2a" stroke-width="1.0"/>
<line x1="200.3" y1="53.3" x2="205.5" y2="53.3" stroke="#2a2a2a" stroke-width="1.0"/>
<line x1="202.7" y1="64.94999999999999" x2="205.5" y2="64.94999999999999" stroke="#2a2a2a" stroke-width="1.0"/>
<line x1="200.3" y1="76.6" x2="205.5" y2="76.6" stroke="#2a2a2a" stroke-width="1.0"/>
<line x1="202.7" y1="88.25" x2="205.5" y2="88.25" stroke="#2a2a2a" stroke-width="1.0"/>
<text x="197.0" y="56.599999999999994" font-size="9.2" text-anchor="end" font-weight="normal" font-style="normal" fill="#1a1a1a" stroke="#1a1a1a" >−336</text>
<text x="197.0" y="79.89999999999999" font-size="9.2" text-anchor="end" font-weight="normal" font-style="normal" fill="#1a1a1a" stroke="#1a1a1a" >−338</text>
<line x1="379.2" y1="26.6" x2="379.2" y2="91.0" stroke="#4a4a4a" stroke-width="1.3"/>
<line x1="376.4" y1="30.0" x2="379.2" y2="30.0" stroke="#2a2a2a" stroke-width="1.0"/>
<line x1="376.4" y1="41.65" x2="379.2" y2="41.65" stroke="#2a2a2a" stroke-width="1.0"/>
<line x1="374.0" y1="53.3" x2="379.2" y2="53.3" stroke="#2a2a2a" stroke-width="1.0"/>
<line x1="376.4" y1="64.94999999999999" x2="379.2" y2="64.94999999999999" stroke="#2a2a2a" stroke-width="1.0"/>
<line x1="374.0" y1="76.6" x2="379.2" y2="76.6" stroke="#2a2a2a" stroke-width="1.0"/>
<line x1="376.4" y1="88.25" x2="379.2" y2="88.25" stroke="#2a2a2a" stroke-width="1.0"/>
<text x="370.7" y="56.599999999999994" font-size="9.2" text-anchor="end" font-weight="normal" font-style="normal" fill="#1a1a1a" stroke="#1a1a1a" >−336</text>
<text x="370.7" y="79.89999999999999" font-size="9.2" text-anchor="end" font-weight="normal" font-style="normal" fill="#1a1a1a" stroke="#1a1a1a" >−338</text>
<line x1="205.5" y1="97.3" x2="205.5" y2="162.6" stroke="#4a4a4a" stroke-width="1.3"/>
<line x1="202.7" y1="100.4" x2="205.5" y2="100.4" stroke="#2a2a2a" stroke-width="1.0"/>
<line x1="202.7" y1="112.1" x2="205.5" y2="112.1" stroke="#2a2a2a" stroke-width="1.0"/>
<line x1="200.3" y1="123.8" x2="205.5" y2="123.8" stroke="#2a2a2a" stroke-width="1.0"/>
<line x1="202.7" y1="135.5" x2="205.5" y2="135.5" stroke="#2a2a2a" stroke-width="1.0"/>
<line x1="200.3" y1="147.2" x2="205.5" y2="147.2" stroke="#2a2a2a" stroke-width="1.0"/>
<line x1="202.7" y1="158.89999999999998" x2="205.5" y2="158.89999999999998" stroke="#2a2a2a" stroke-width="1.0"/>
<text x="197.0" y="127.1" font-size="9.2" text-anchor="end" font-weight="normal" font-style="normal" fill="#1a1a1a" stroke="#1a1a1a" >−353</text>
<text x="197.0" y="150.5" font-size="9.2" text-anchor="end" font-weight="normal" font-style="normal" fill="#1a1a1a" stroke="#1a1a1a" >−355</text>
<line x1="379.2" y1="97.3" x2="379.2" y2="162.6" stroke="#4a4a4a" stroke-width="1.3"/>
<line x1="376.4" y1="100.4" x2="379.2" y2="100.4" stroke="#2a2a2a" stroke-width="1.0"/>
<line x1="376.4" y1="112.1" x2="379.2" y2="112.1" stroke="#2a2a2a" stroke-width="1.0"/>
<line x1="374.0" y1="123.8" x2="379.2" y2="123.8" stroke="#2a2a2a" stroke-width="1.0"/>
<line x1="376.4" y1="135.5" x2="379.2" y2="135.5" stroke="#2a2a2a" stroke-width="1.0"/>
<line x1="374.0" y1="147.2" x2="379.2" y2="147.2" stroke="#2a2a2a" stroke-width="1.0"/>
<line x1="376.4" y1="158.89999999999998" x2="379.2" y2="158.89999999999998" stroke="#2a2a2a" stroke-width="1.0"/>
<text x="370.7" y="127.1" font-size="9.2" text-anchor="end" font-weight="normal" font-style="normal" fill="#1a1a1a" stroke="#1a1a1a" >−353</text>
<text x="370.7" y="150.5" font-size="9.2" text-anchor="end" font-weight="normal" font-style="normal" fill="#1a1a1a" stroke="#1a1a1a" >−355</text>
<line x1="205.5" y1="215.0" x2="205.5" y2="280.0" stroke="#4a4a4a" stroke-width="1.3"/>
<line x1="202.7" y1="220.0" x2="205.5" y2="220.0" stroke="#2a2a2a" stroke-width="1.0"/>
<line x1="202.7" y1="231.25" x2="205.5" y2="231.25" stroke="#2a2a2a" stroke-width="1.0"/>
<line x1="200.3" y1="242.5" x2="205.5" y2="242.5" stroke="#2a2a2a" stroke-width="1.0"/>
<line x1="202.7" y1="253.75" x2="205.5" y2="253.75" stroke="#2a2a2a" stroke-width="1.0"/>
<line x1="200.3" y1="265.0" x2="205.5" y2="265.0" stroke="#2a2a2a" stroke-width="1.0"/>
<line x1="202.7" y1="276.25" x2="205.5" y2="276.25" stroke="#2a2a2a" stroke-width="1.0"/>
<text x="197.0" y="245.8" font-size="9.2" text-anchor="end" font-weight="normal" font-style="normal" fill="#1a1a1a" stroke="#1a1a1a" >−336</text>
<text x="197.0" y="268.3" font-size="9.2" text-anchor="end" font-weight="normal" font-style="normal" fill="#1a1a1a" stroke="#1a1a1a" >−338</text>
<line x1="379.2" y1="215.0" x2="379.2" y2="280.0" stroke="#4a4a4a" stroke-width="1.3"/>
<line x1="376.4" y1="220.0" x2="379.2" y2="220.0" stroke="#2a2a2a" stroke-width="1.0"/>
<line x1="376.4" y1="231.25" x2="379.2" y2="231.25" stroke="#2a2a2a" stroke-width="1.0"/>
<line x1="374.0" y1="242.5" x2="379.2" y2="242.5" stroke="#2a2a2a" stroke-width="1.0"/>
<line x1="376.4" y1="253.75" x2="379.2" y2="253.75" stroke="#2a2a2a" stroke-width="1.0"/>
<line x1="374.0" y1="265.0" x2="379.2" y2="265.0" stroke="#2a2a2a" stroke-width="1.0"/>
<line x1="376.4" y1="276.25" x2="379.2" y2="276.25" stroke="#2a2a2a" stroke-width="1.0"/>
<text x="370.7" y="245.8" font-size="9.2" text-anchor="end" font-weight="normal" font-style="normal" fill="#1a1a1a" stroke="#1a1a1a" >−336</text>
<text x="370.7" y="268.3" font-size="9.2" text-anchor="end" font-weight="normal" font-style="normal" fill="#1a1a1a" stroke="#1a1a1a" >−338</text>
<line x1="205.5" y1="286.0" x2="205.5" y2="351.2" stroke="#4a4a4a" stroke-width="1.3"/>
<line x1="202.7" y1="289.8" x2="205.5" y2="289.8" stroke="#2a2a2a" stroke-width="1.0"/>
<line x1="202.7" y1="301.15" x2="205.5" y2="301.15" stroke="#2a2a2a" stroke-width="1.0"/>
<line x1="200.3" y1="312.5" x2="205.5" y2="312.5" stroke="#2a2a2a" stroke-width="1.0"/>
<line x1="202.7" y1="323.85" x2="205.5" y2="323.85" stroke="#2a2a2a" stroke-width="1.0"/>
<line x1="200.3" y1="335.2" x2="205.5" y2="335.2" stroke="#2a2a2a" stroke-width="1.0"/>
<line x1="202.7" y1="346.54999999999995" x2="205.5" y2="346.54999999999995" stroke="#2a2a2a" stroke-width="1.0"/>
<text x="197.0" y="315.8" font-size="9.2" text-anchor="end" font-weight="normal" font-style="normal" fill="#1a1a1a" stroke="#1a1a1a" >−353</text>
<text x="197.0" y="338.5" font-size="9.2" text-anchor="end" font-weight="normal" font-style="normal" fill="#1a1a1a" stroke="#1a1a1a" >−355</text>
<line x1="379.2" y1="286.0" x2="379.2" y2="351.2" stroke="#4a4a4a" stroke-width="1.3"/>
<line x1="376.4" y1="289.8" x2="379.2" y2="289.8" stroke="#2a2a2a" stroke-width="1.0"/>
<line x1="376.4" y1="301.15" x2="379.2" y2="301.15" stroke="#2a2a2a" stroke-width="1.0"/>
<line x1="374.0" y1="312.5" x2="379.2" y2="312.5" stroke="#2a2a2a" stroke-width="1.0"/>
<line x1="376.4" y1="323.85" x2="379.2" y2="323.85" stroke="#2a2a2a" stroke-width="1.0"/>
<line x1="374.0" y1="335.2" x2="379.2" y2="335.2" stroke="#2a2a2a" stroke-width="1.0"/>
<line x1="376.4" y1="346.54999999999995" x2="379.2" y2="346.54999999999995" stroke="#2a2a2a" stroke-width="1.0"/>
<text x="370.7" y="315.8" font-size="9.2" text-anchor="end" font-weight="normal" font-style="normal" fill="#1a1a1a" stroke="#1a1a1a" >−353</text>
<text x="370.7" y="338.5" font-size="9.2" text-anchor="end" font-weight="normal" font-style="normal" fill="#1a1a1a" stroke="#1a1a1a" >−355</text>
<line x1="205.2" y1="162.6" x2="271.1" y2="162.6" stroke="#4a4a4a" stroke-width="1.3"/>
<line x1="214.4" y1="162.6" x2="214.4" y2="167.79999999999998" stroke="#2a2a2a" stroke-width="1.0"/>
<line x1="228.60000000000002" y1="162.6" x2="228.60000000000002" y2="165.4" stroke="#2a2a2a" stroke-width="1.0"/>
<line x1="242.8" y1="162.6" x2="242.8" y2="167.79999999999998" stroke="#2a2a2a" stroke-width="1.0"/>
<line x1="257.0" y1="162.6" x2="257.0" y2="165.4" stroke="#2a2a2a" stroke-width="1.0"/>
<text x="214.8" y="178.2" font-size="9.2" text-anchor="middle" font-weight="normal" font-style="normal" fill="#1a1a1a" stroke="#1a1a1a" >−277</text>
<text x="243.20000000000002" y="178.2" font-size="9.2" text-anchor="middle" font-weight="normal" font-style="normal" fill="#1a1a1a" stroke="#1a1a1a" >−275</text>
<line x1="276.6" y1="162.6" x2="342.9" y2="162.6" stroke="#4a4a4a" stroke-width="1.3"/>
<line x1="278.8" y1="162.6" x2="278.8" y2="165.4" stroke="#2a2a2a" stroke-width="1.0"/>
<line x1="293.0" y1="162.6" x2="293.0" y2="167.79999999999998" stroke="#2a2a2a" stroke-width="1.0"/>
<line x1="307.2" y1="162.6" x2="307.2" y2="165.4" stroke="#2a2a2a" stroke-width="1.0"/>
<line x1="321.4" y1="162.6" x2="321.4" y2="167.79999999999998" stroke="#2a2a2a" stroke-width="1.0"/>
<line x1="335.59999999999997" y1="162.6" x2="335.59999999999997" y2="165.4" stroke="#2a2a2a" stroke-width="1.0"/>
<text x="293.4" y="178.2" font-size="9.2" text-anchor="middle" font-weight="normal" font-style="normal" fill="#1a1a1a" stroke="#1a1a1a" >−257</text>
<text x="321.79999999999995" y="178.2" font-size="9.2" text-anchor="middle" font-weight="normal" font-style="normal" fill="#1a1a1a" stroke="#1a1a1a" >−255</text>
<line x1="378.59999999999997" y1="162.6" x2="444.9" y2="162.6" stroke="#4a4a4a" stroke-width="1.3"/>
<line x1="387.79999999999995" y1="162.6" x2="387.79999999999995" y2="167.79999999999998" stroke="#2a2a2a" stroke-width="1.0"/>
<line x1="402.0" y1="162.6" x2="402.0" y2="165.4" stroke="#2a2a2a" stroke-width="1.0"/>
<line x1="416.2" y1="162.6" x2="416.2" y2="167.79999999999998" stroke="#2a2a2a" stroke-width="1.0"/>
<line x1="430.4" y1="162.6" x2="430.4" y2="165.4" stroke="#2a2a2a" stroke-width="1.0"/>
<text x="388.19999999999993" y="178.2" font-size="9.2" text-anchor="middle" font-weight="normal" font-style="normal" fill="#1a1a1a" stroke="#1a1a1a" >−277</text>
<text x="416.59999999999997" y="178.2" font-size="9.2" text-anchor="middle" font-weight="normal" font-style="normal" fill="#1a1a1a" stroke="#1a1a1a" >−275</text>
<line x1="450.5" y1="162.6" x2="516.2" y2="162.6" stroke="#4a4a4a" stroke-width="1.3"/>
<line x1="452.7" y1="162.6" x2="452.7" y2="165.4" stroke="#2a2a2a" stroke-width="1.0"/>
<line x1="466.9" y1="162.6" x2="466.9" y2="167.79999999999998" stroke="#2a2a2a" stroke-width="1.0"/>
<line x1="481.09999999999997" y1="162.6" x2="481.09999999999997" y2="165.4" stroke="#2a2a2a" stroke-width="1.0"/>
<line x1="495.29999999999995" y1="162.6" x2="495.29999999999995" y2="167.79999999999998" stroke="#2a2a2a" stroke-width="1.0"/>
<line x1="509.49999999999994" y1="162.6" x2="509.49999999999994" y2="165.4" stroke="#2a2a2a" stroke-width="1.0"/>
<text x="467.29999999999995" y="178.2" font-size="9.2" text-anchor="middle" font-weight="normal" font-style="normal" fill="#1a1a1a" stroke="#1a1a1a" >−257</text>
<text x="495.69999999999993" y="178.2" font-size="9.2" text-anchor="middle" font-weight="normal" font-style="normal" fill="#1a1a1a" stroke="#1a1a1a" >−255</text>
<line x1="205.2" y1="351.2" x2="271.1" y2="351.2" stroke="#4a4a4a" stroke-width="1.3"/>
<line x1="214.4" y1="351.2" x2="214.4" y2="356.4" stroke="#2a2a2a" stroke-width="1.0"/>
<line x1="228.60000000000002" y1="351.2" x2="228.60000000000002" y2="354.0" stroke="#2a2a2a" stroke-width="1.0"/>
<line x1="242.8" y1="351.2" x2="242.8" y2="356.4" stroke="#2a2a2a" stroke-width="1.0"/>
<line x1="257.0" y1="351.2" x2="257.0" y2="354.0" stroke="#2a2a2a" stroke-width="1.0"/>
<text x="214.8" y="366.8" font-size="9.2" text-anchor="middle" font-weight="normal" font-style="normal" fill="#1a1a1a" stroke="#1a1a1a" >−277</text>
<text x="243.20000000000002" y="366.8" font-size="9.2" text-anchor="middle" font-weight="normal" font-style="normal" fill="#1a1a1a" stroke="#1a1a1a" >−275</text>
<line x1="276.6" y1="351.2" x2="342.9" y2="351.2" stroke="#4a4a4a" stroke-width="1.3"/>
<line x1="278.8" y1="351.2" x2="278.8" y2="354.0" stroke="#2a2a2a" stroke-width="1.0"/>
<line x1="293.0" y1="351.2" x2="293.0" y2="356.4" stroke="#2a2a2a" stroke-width="1.0"/>
<line x1="307.2" y1="351.2" x2="307.2" y2="354.0" stroke="#2a2a2a" stroke-width="1.0"/>
<line x1="321.4" y1="351.2" x2="321.4" y2="356.4" stroke="#2a2a2a" stroke-width="1.0"/>
<line x1="335.59999999999997" y1="351.2" x2="335.59999999999997" y2="354.0" stroke="#2a2a2a" stroke-width="1.0"/>
<text x="293.4" y="366.8" font-size="9.2" text-anchor="middle" font-weight="normal" font-style="normal" fill="#1a1a1a" stroke="#1a1a1a" >−257</text>
<text x="321.79999999999995" y="366.8" font-size="9.2" text-anchor="middle" font-weight="normal" font-style="normal" fill="#1a1a1a" stroke="#1a1a1a" >−255</text>
<line x1="378.59999999999997" y1="351.2" x2="444.9" y2="351.2" stroke="#4a4a4a" stroke-width="1.3"/>
<line x1="387.79999999999995" y1="351.2" x2="387.79999999999995" y2="356.4" stroke="#2a2a2a" stroke-width="1.0"/>
<line x1="402.0" y1="351.2" x2="402.0" y2="354.0" stroke="#2a2a2a" stroke-width="1.0"/>
<line x1="416.2" y1="351.2" x2="416.2" y2="356.4" stroke="#2a2a2a" stroke-width="1.0"/>
<line x1="430.4" y1="351.2" x2="430.4" y2="354.0" stroke="#2a2a2a" stroke-width="1.0"/>
<text x="388.19999999999993" y="366.8" font-size="9.2" text-anchor="middle" font-weight="normal" font-style="normal" fill="#1a1a1a" stroke="#1a1a1a" >−277</text>
<text x="416.59999999999997" y="366.8" font-size="9.2" text-anchor="middle" font-weight="normal" font-style="normal" fill="#1a1a1a" stroke="#1a1a1a" >−275</text>
<line x1="450.5" y1="351.2" x2="516.2" y2="351.2" stroke="#4a4a4a" stroke-width="1.3"/>
<line x1="452.7" y1="351.2" x2="452.7" y2="354.0" stroke="#2a2a2a" stroke-width="1.0"/>
<line x1="466.9" y1="351.2" x2="466.9" y2="356.4" stroke="#2a2a2a" stroke-width="1.0"/>
<line x1="481.09999999999997" y1="351.2" x2="481.09999999999997" y2="354.0" stroke="#2a2a2a" stroke-width="1.0"/>
<line x1="495.29999999999995" y1="351.2" x2="495.29999999999995" y2="356.4" stroke="#2a2a2a" stroke-width="1.0"/>
<line x1="509.49999999999994" y1="351.2" x2="509.49999999999994" y2="354.0" stroke="#2a2a2a" stroke-width="1.0"/>
<text x="467.29999999999995" y="366.8" font-size="9.2" text-anchor="middle" font-weight="normal" font-style="normal" fill="#1a1a1a" stroke="#1a1a1a" >−257</text>
<text x="495.69999999999993" y="366.8" font-size="9.2" text-anchor="middle" font-weight="normal" font-style="normal" fill="#1a1a1a" stroke="#1a1a1a" >−255</text>
<rect x="276.4" y="16.8" width="66.0" height="4.800000000000001" fill="url(#cbar)" stroke="#333" stroke-width="0.8"/>
<line x1="279.7" y1="11.5" x2="279.7" y2="16.8" stroke="#222" stroke-width="0.9"/>
<line x1="309.4" y1="11.5" x2="309.4" y2="16.8" stroke="#222" stroke-width="0.9"/>
<line x1="339.09999999999997" y1="11.5" x2="339.09999999999997" y2="16.8" stroke="#222" stroke-width="0.9"/>
<line x1="285.64" y1="14.3" x2="285.64" y2="16.8" stroke="#222" stroke-width="0.8"/>
<line x1="315.34" y1="14.3" x2="315.34" y2="16.8" stroke="#222" stroke-width="0.8"/>
<line x1="291.58" y1="14.3" x2="291.58" y2="16.8" stroke="#222" stroke-width="0.8"/>
<line x1="321.28" y1="14.3" x2="321.28" y2="16.8" stroke="#222" stroke-width="0.8"/>
<line x1="297.52" y1="14.3" x2="297.52" y2="16.8" stroke="#222" stroke-width="0.8"/>
<line x1="327.21999999999997" y1="14.3" x2="327.21999999999997" y2="16.8" stroke="#222" stroke-width="0.8"/>
<line x1="303.46" y1="14.3" x2="303.46" y2="16.8" stroke="#222" stroke-width="0.8"/>
<line x1="333.15999999999997" y1="14.3" x2="333.15999999999997" y2="16.8" stroke="#222" stroke-width="0.8"/>
<text x="279.4" y="7.2" font-size="9.2" text-anchor="middle" font-weight="normal" font-style="normal" fill="#1a1a1a" stroke="#1a1a1a" >−500</text>
<text x="309.4" y="7.2" font-size="9.2" text-anchor="middle" font-weight="normal" font-style="normal" fill="#1a1a1a" stroke="#1a1a1a" >0</text>
<text x="339.4" y="7.2" font-size="9.2" text-anchor="middle" font-weight="normal" font-style="normal" fill="#1a1a1a" stroke="#1a1a1a" >500</text>
<rect x="450.5" y="16.8" width="65.20000000000005" height="4.800000000000001" fill="url(#cbar)" stroke="#333" stroke-width="0.8"/>
<line x1="453.8" y1="11.5" x2="453.8" y2="16.8" stroke="#222" stroke-width="0.9"/>
<line x1="483.1" y1="11.5" x2="483.1" y2="16.8" stroke="#222" stroke-width="0.9"/>
<line x1="512.4000000000001" y1="11.5" x2="512.4000000000001" y2="16.8" stroke="#222" stroke-width="0.9"/>
<line x1="459.66" y1="14.3" x2="459.66" y2="16.8" stroke="#222" stroke-width="0.8"/>
<line x1="488.96000000000004" y1="14.3" x2="488.96000000000004" y2="16.8" stroke="#222" stroke-width="0.8"/>
<line x1="465.52000000000004" y1="14.3" x2="465.52000000000004" y2="16.8" stroke="#222" stroke-width="0.8"/>
<line x1="494.82000000000005" y1="14.3" x2="494.82000000000005" y2="16.8" stroke="#222" stroke-width="0.8"/>
<line x1="471.38" y1="14.3" x2="471.38" y2="16.8" stroke="#222" stroke-width="0.8"/>
<line x1="500.68000000000006" y1="14.3" x2="500.68000000000006" y2="16.8" stroke="#222" stroke-width="0.8"/>
<line x1="477.24" y1="14.3" x2="477.24" y2="16.8" stroke="#222" stroke-width="0.8"/>
<line x1="506.5400000000001" y1="14.3" x2="506.5400000000001" y2="16.8" stroke="#222" stroke-width="0.8"/>
<text x="453.5" y="7.2" font-size="9.2" text-anchor="middle" font-weight="normal" font-style="normal" fill="#1a1a1a" stroke="#1a1a1a" >−500</text>
<text x="483.1" y="7.2" font-size="9.2" text-anchor="middle" font-weight="normal" font-style="normal" fill="#1a1a1a" stroke="#1a1a1a" >0</text>
<text x="512.7" y="7.2" font-size="9.2" text-anchor="middle" font-weight="normal" font-style="normal" fill="#1a1a1a" stroke="#1a1a1a" >500</text>
<rect x="276.4" y="205.6" width="66.0" height="5.0" fill="url(#cbar)" stroke="#333" stroke-width="0.8"/>
<line x1="278.5" y1="200.29999999999998" x2="278.5" y2="205.6" stroke="#222" stroke-width="0.9"/>
<line x1="309.4" y1="200.29999999999998" x2="309.4" y2="205.6" stroke="#222" stroke-width="0.9"/>
<line x1="340.29999999999995" y1="200.29999999999998" x2="340.29999999999995" y2="205.6" stroke="#222" stroke-width="0.9"/>
<line x1="286.225" y1="203.1" x2="286.225" y2="205.6" stroke="#222" stroke-width="0.8"/>
<line x1="317.125" y1="203.1" x2="317.125" y2="205.6" stroke="#222" stroke-width="0.8"/>
<line x1="293.95" y1="203.1" x2="293.95" y2="205.6" stroke="#222" stroke-width="0.8"/>
<line x1="324.84999999999997" y1="203.1" x2="324.84999999999997" y2="205.6" stroke="#222" stroke-width="0.8"/>
<line x1="301.67499999999995" y1="203.1" x2="301.67499999999995" y2="205.6" stroke="#222" stroke-width="0.8"/>
<line x1="332.57499999999993" y1="203.1" x2="332.57499999999993" y2="205.6" stroke="#222" stroke-width="0.8"/>
<text x="278.2" y="195.7" font-size="9.2" text-anchor="middle" font-weight="normal" font-style="normal" fill="#1a1a1a" stroke="#1a1a1a" >−800</text>
<text x="309.4" y="195.7" font-size="9.2" text-anchor="middle" font-weight="normal" font-style="normal" fill="#1a1a1a" stroke="#1a1a1a" >0</text>
<text x="340.59999999999997" y="195.7" font-size="9.2" text-anchor="middle" font-weight="normal" font-style="normal" fill="#1a1a1a" stroke="#1a1a1a" >800</text>
<rect x="450.5" y="205.6" width="65.20000000000005" height="5.0" fill="url(#cbar)" stroke="#333" stroke-width="0.8"/>
<line x1="452.6" y1="200.29999999999998" x2="452.6" y2="205.6" stroke="#222" stroke-width="0.9"/>
<line x1="483.1" y1="200.29999999999998" x2="483.1" y2="205.6" stroke="#222" stroke-width="0.9"/>
<line x1="513.6" y1="200.29999999999998" x2="513.6" y2="205.6" stroke="#222" stroke-width="0.9"/>
<line x1="460.225" y1="203.1" x2="460.225" y2="205.6" stroke="#222" stroke-width="0.8"/>
<line x1="490.725" y1="203.1" x2="490.725" y2="205.6" stroke="#222" stroke-width="0.8"/>
<line x1="467.85" y1="203.1" x2="467.85" y2="205.6" stroke="#222" stroke-width="0.8"/>
<line x1="498.35" y1="203.1" x2="498.35" y2="205.6" stroke="#222" stroke-width="0.8"/>
<line x1="475.475" y1="203.1" x2="475.475" y2="205.6" stroke="#222" stroke-width="0.8"/>
<line x1="505.975" y1="203.1" x2="505.975" y2="205.6" stroke="#222" stroke-width="0.8"/>
<text x="452.3" y="195.7" font-size="9.2" text-anchor="middle" font-weight="normal" font-style="normal" fill="#1a1a1a" stroke="#1a1a1a" >−800</text>
<text x="483.1" y="195.7" font-size="9.2" text-anchor="middle" font-weight="normal" font-style="normal" fill="#1a1a1a" stroke="#1a1a1a" >0</text>
<text x="513.9" y="195.7" font-size="9.2" text-anchor="middle" font-weight="normal" font-style="normal" fill="#1a1a1a" stroke="#1a1a1a" >800</text>
<text x="220.6" y="20.8" font-size="10" fill="#222" stroke="#222"><tspan font-style="italic">I</tspan><tspan font-size="6.8" dy="1.6">corr</tspan><tspan dy="-1.6"> (pA)</tspan></text>
<text x="394.0" y="20.8" font-size="10" fill="#222" stroke="#222"><tspan font-style="italic">I</tspan><tspan font-size="6.8" dy="1.6">corr</tspan><tspan dy="-1.6"> (pA)</tspan></text>
<text x="220.4" y="210.0" font-size="10" fill="#222" stroke="#222"><tspan font-style="italic">I</tspan><tspan font-size="6.8" dy="1.6">corr</tspan><tspan dy="-1.6"> (pA)</tspan></text>
<text x="393.8" y="210.0" font-size="10" fill="#222" stroke="#222"><tspan font-style="italic">I</tspan><tspan font-size="6.8" dy="1.6">corr</tspan><tspan dy="-1.6"> (pA)</tspan></text>
<line x1="208.2" y1="30.5" x2="213.1" y2="30.5" stroke="#111" stroke-width="1.15"/>
<line x1="216.5" y1="30.5" x2="221.8" y2="30.5" stroke="#111" stroke-width="1.15"/>
<path d="M383.09999999999997,31.45 H387.8 M385.45,29.099999999999998 V33.8" stroke="#111" stroke-width="1.15"/>
<path d="M389.15,31.45 H393.85 M391.5,29.099999999999998 V33.8" stroke="#111" stroke-width="1.15"/>
<line x1="209.1" y1="221.45" x2="213.6" y2="221.45" stroke="#111" stroke-width="1.15"/>
<path d="M215.25,221.45 H219.95 M217.6,219.1 V223.79999999999998" stroke="#111" stroke-width="1.15"/>
<path d="M383.09999999999997,220.4 H387.8 M385.45,218.05 V222.75" stroke="#111" stroke-width="1.15"/>
<line x1="389.3" y1="220.4" x2="394.0" y2="220.4" stroke="#111" stroke-width="1.15"/>
<g transform="translate(167.3,85.0) rotate(-90)">
<text x="-0.69" y="0" font-size="10.6" fill="#2a2a2a" stroke="#2a2a2a">(1</text>
<text x="20.33" y="0" font-size="10.6" fill="#2a2a2a" stroke="#2a2a2a">2)</text>
<line x1="11.48" y1="-3.50" x2="18.74" y2="-3.50" stroke="#2a2a2a" stroke-width="0.901"/>
<path d="M9.89,-3.50 l2.65,-1.484 l0,2.968 Z M20.33,-3.50 l-2.65,-1.484 l0,2.968 Z" fill="#2a2a2a"/>
</g>
<g transform="translate(167.3,153.9) rotate(-90)">
<text x="-0.69" y="0" font-size="10.6" fill="#2a2a2a" stroke="#2a2a2a">(0</text>
<text x="20.33" y="0" font-size="10.6" fill="#2a2a2a" stroke="#2a2a2a">1)</text>
<line x1="11.48" y1="-3.50" x2="18.74" y2="-3.50" stroke="#2a2a2a" stroke-width="0.901"/>
<path d="M9.89,-3.50 l2.65,-1.484 l0,2.968 Z M20.33,-3.50 l-2.65,-1.484 l0,2.968 Z" fill="#2a2a2a"/>
</g>
<g transform="translate(167.3,270.5) rotate(-90)">
<text x="-0.69" y="0" font-size="10.6" fill="#2a2a2a" stroke="#2a2a2a">(1</text>
<text x="20.33" y="0" font-size="10.6" fill="#2a2a2a" stroke="#2a2a2a">2)</text>
<line x1="11.48" y1="-3.50" x2="18.74" y2="-3.50" stroke="#2a2a2a" stroke-width="0.901"/>
<path d="M9.89,-3.50 l2.65,-1.484 l0,2.968 Z M20.33,-3.50 l-2.65,-1.484 l0,2.968 Z" fill="#2a2a2a"/>
</g>
<g transform="translate(167.3,340.7) rotate(-90)">
<text x="-0.69" y="0" font-size="10.6" fill="#2a2a2a" stroke="#2a2a2a">(0</text>
<text x="20.33" y="0" font-size="10.6" fill="#2a2a2a" stroke="#2a2a2a">1)</text>
<line x1="11.48" y1="-3.50" x2="18.74" y2="-3.50" stroke="#2a2a2a" stroke-width="0.901"/>
<path d="M9.89,-3.50 l2.65,-1.484 l0,2.968 Z M20.33,-3.50 l-2.65,-1.484 l0,2.968 Z" fill="#2a2a2a"/>
</g>
<text x="218.41" y="381.7" font-size="10.6" fill="#2a2a2a" stroke="#2a2a2a">(0</text>
<text x="238.22" y="381.7" font-size="10.6" fill="#2a2a2a" stroke="#2a2a2a">1)</text>
<line x1="230.46" y1="378.20" x2="236.63" y2="378.20" stroke="#2a2a2a" stroke-width="0.901"/>
<path d="M228.87,378.20 l2.65,-1.484 l0,2.968 Z M238.22,378.20 l-2.65,-1.484 l0,2.968 Z" fill="#2a2a2a"/>
<text x="290.11" y="381.7" font-size="10.6" fill="#2a2a2a" stroke="#2a2a2a">(1</text>
<text x="309.92" y="381.7" font-size="10.6" fill="#2a2a2a" stroke="#2a2a2a">2)</text>
<line x1="302.16" y1="378.20" x2="308.33" y2="378.20" stroke="#2a2a2a" stroke-width="0.901"/>
<path d="M300.57,378.20 l2.65,-1.484 l0,2.968 Z M309.92,378.20 l-2.65,-1.484 l0,2.968 Z" fill="#2a2a2a"/>
<text x="397.91" y="381.7" font-size="10.6" fill="#2a2a2a" stroke="#2a2a2a">(0</text>
<text x="417.72" y="381.7" font-size="10.6" fill="#2a2a2a" stroke="#2a2a2a">1)</text>
<line x1="409.96" y1="378.20" x2="416.13" y2="378.20" stroke="#2a2a2a" stroke-width="0.901"/>
<path d="M408.37,378.20 l2.65,-1.484 l0,2.968 Z M417.72,378.20 l-2.65,-1.484 l0,2.968 Z" fill="#2a2a2a"/>
<text x="467.11" y="381.7" font-size="10.6" fill="#2a2a2a" stroke="#2a2a2a">(1</text>
<text x="486.92" y="381.7" font-size="10.6" fill="#2a2a2a" stroke="#2a2a2a">2)</text>
<line x1="479.16" y1="378.20" x2="485.33" y2="378.20" stroke="#2a2a2a" stroke-width="0.901"/>
<path d="M477.57,378.20 l2.65,-1.484 l0,2.968 Z M486.92,378.20 l-2.65,-1.484 l0,2.968 Z" fill="#2a2a2a"/>
<text x="328.9" y="381.8" font-size="13.7" fill="#222" stroke="#222"><tspan font-style="italic">V</tspan><tspan font-size="9.2" dy="2.4">QDL</tspan><tspan dy="-2.4"> (mV)</tspan></text>
<g transform="translate(169.0,227.0) rotate(-90)"><text x="0" y="0" font-size="13.7" fill="#222" stroke="#222"><tspan font-style="italic">V</tspan><tspan font-size="9.2" dy="2.4">QDR</tspan><tspan dy="-2.4"> (mV)</tspan></text></g>
</svg>
</body></html>
